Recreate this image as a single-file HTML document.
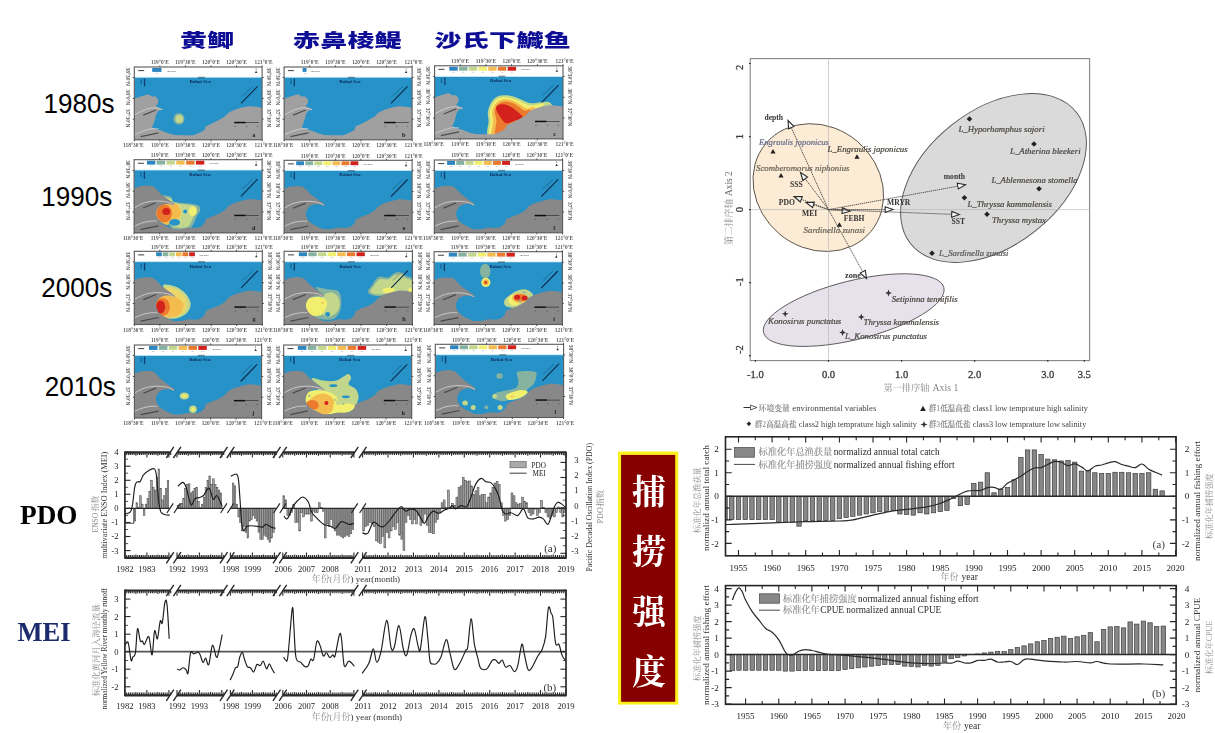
<!DOCTYPE html>
<html><head><meta charset="utf-8"><title>slide</title>
<style>
html,body{margin:0;padding:0;background:#fff;}
body{width:1215px;height:733px;overflow:hidden;font-family:"Liberation Sans",sans-serif;}
svg{display:block;}
text{font-family:"Liberation Serif",serif;}
.sans{font-family:"Liberation Sans",sans-serif;}
.cjks{font-family:"Liberation Sans","Noto Sans CJK SC",sans-serif;}
.cjkr{font-family:"Liberation Serif","Noto Serif CJK SC",serif;}
</style></head><body>
<svg width="1215" height="733" viewBox="0 0 1215 733">
<defs>
<filter id="b1" x="-5%" y="-5%" width="110%" height="110%"><feGaussianBlur stdDeviation="0.45"/></filter>
<filter id="b2" x="-5%" y="-5%" width="110%" height="110%"><feGaussianBlur stdDeviation="0.55"/></filter>
<filter id="b3" x="-5%" y="-5%" width="110%" height="110%"><feGaussianBlur stdDeviation="0.3"/></filter>
</defs>
<g filter="url(#b3)"><g transform="translate(180.0,46.6) scale(1,0.680)"><text class="cjks" x="0" y="0" font-size="27" font-weight="900" fill="#0d0d96" textLength="54.2" lengthAdjust="spacing">黄鲫</text></g><g transform="translate(293.0,46.6) scale(1,0.680)"><text class="cjks" x="0" y="0" font-size="27" font-weight="900" fill="#0d0d96" textLength="108.6" lengthAdjust="spacing">赤鼻棱鳀</text></g><g transform="translate(434.5,47.0) scale(1,0.680)"><text class="cjks" x="0" y="0" font-size="27" font-weight="900" fill="#0d0d96" textLength="136.2" lengthAdjust="spacing">沙氏下鱵鱼</text></g></g>
<text class="sans" x="43.6" y="113.4" font-size="27.5" fill="#000" textLength="71" lengthAdjust="spacingAndGlyphs">1980s</text>
<text class="sans" x="41.3" y="205.6" font-size="27.5" fill="#000" textLength="71" lengthAdjust="spacingAndGlyphs">1990s</text>
<text class="sans" x="41.3" y="296.5" font-size="27.5" fill="#000" textLength="71" lengthAdjust="spacingAndGlyphs">2000s</text>
<text class="sans" x="44.7" y="395.5" font-size="27.5" fill="#000" textLength="71" lengthAdjust="spacingAndGlyphs">2010s</text>
<g filter="url(#b2)"><clipPath id="ca"><rect x="134.3" y="67.0" width="127.8" height="72.8"/></clipPath><g clip-path="url(#ca)"><rect x="134.3" y="67.0" width="127.8" height="72.8" fill="#fff"/><rect x="134.3" y="77.3" width="127.8" height="62.5" fill="#2792c7"/><rect x="134.3" y="76.8" width="127.8" height="0.8" fill="#bfe6f5"/><ellipse cx="178.9" cy="118.8" rx="5.5" ry="5.8" fill="#86b3a0"/><ellipse cx="179.3" cy="119.0" rx="3.8" ry="4.0" fill="#c3d78c"/><path d="M134.3 98.7L140.6 96.4L148.1 94.3L151.9 96.4L155.7 96.4L158.4 99.9L157.9 103.4L155.7 106.0L159.4 108.1L162.6 109.2L158.2 111.0L155.9 115.0L155.2 118.8L153.5 123.8L151.9 127.3L155.7 129.1L161.9 130.8L168.2 133.3L174.5 135.1L183.3 135.3L193.3 135.3L199.6 132.8L204.6 130.1L205.6 126.5L210.9 124.0L218.4 120.3L224.7 116.5L228.5 112.7L233.5 110.2L241.0 107.7L248.5 106.2L256.1 106.8L262.1 107.7L262.1 139.8L134.3 139.8Z" fill="#a0a0a0"/><path d="M134.3 115.1C136.0 114.2 141.3 111.2 144.5 110.0C147.7 108.8 150.5 107.9 153.5 107.8C156.5 107.8 160.9 109.3 162.4 109.6" fill="none" stroke="#d4d4d4" stroke-width="0.85"/><path d="M134.3 134.7C135.8 134.1 140.5 132.1 143.3 131.1C146.0 130.1 148.4 129.3 150.9 128.9C153.5 128.6 157.3 128.9 158.6 128.9" fill="none" stroke="#d4d4d4" stroke-width="0.85"/><line x1="143.3" y1="115.1" x2="156.0" y2="110.0" stroke="#3a3a3a" stroke-width="1.2" opacity="0.8"/><line x1="140.7" y1="136.6" x2="158.6" y2="132.9" stroke="#3a3a3a" stroke-width="1.2" opacity="0.8"/><line x1="241.0" y1="103.4" x2="257.6" y2="86.3" stroke="#0c2a4a" stroke-width="1.1"/><line x1="242.3" y1="96.2" x2="252.5" y2="86.7" stroke="#0c2a4a" stroke-width="0.6" opacity="0.6"/><text x="200.1" y="83.2" font-size="5.0" font-weight="bold" fill="#0a2b5c" text-anchor="middle">Bohai Sea</text><rect x="197.9" y="76.8" width="7" height="1.4" fill="#123" opacity="0.45"/><rect x="143.9" y="78.7" width="1.3" height="7.5" fill="#0a2b5c" opacity="0.8"/><rect x="140.7" y="79.2" width="1.0" height="5" fill="#0a2b5c" opacity="0.6"/><rect x="234.2" y="121.8" width="11.5" height="1.5" fill="#111"/><rect x="245.7" y="122.2" width="13.2" height="0.6" fill="#222"/><rect x="234.6" y="125.8" width="1.2" height="1.2" fill="#444" opacity="0.6"/><rect x="246.1" y="125.8" width="1.2" height="1.2" fill="#444" opacity="0.6"/><rect x="257.0" y="125.8" width="1.2" height="1.2" fill="#444" opacity="0.6"/><rect x="152.2" y="68.0" width="9.3" height="3.9" fill="#2e86c0"/><rect x="155.5" y="73.0" width="2.5" height="0.8" fill="#89a" opacity="0.5"/><text x="166.9" y="71.6" font-size="2.8" fill="#444">ind/haul</text><rect x="138.2" y="70.0" width="6" height="1.1" fill="#222" opacity="0.8"/><path d="M256.1 70.4 l1.2 2.6 l-2.4 0z" fill="#333"/><rect x="255.8" y="68.4" width="0.6" height="1.6" fill="#555"/><text x="253.8" y="136.6" font-size="6.2" font-weight="bold" fill="#222" text-anchor="middle">a</text></g><rect x="134.3" y="67.0" width="127.8" height="72.8" fill="none" stroke="#5a5a5a" stroke-width="1.1"/><text x="133.3" y="147.0" font-size="5.4" font-weight="bold" fill="#5c5c5c" text-anchor="middle">118°30'E</text><rect x="133.9" y="139.8" width="0.8" height="1.5" fill="#333"/><text x="159.9" y="64.2" font-size="5.4" font-weight="bold" fill="#5c5c5c" text-anchor="middle">119°0'E</text><rect x="159.5" y="65.4" width="0.8" height="1.6" fill="#333"/><text x="159.9" y="147.0" font-size="5.4" font-weight="bold" fill="#5c5c5c" text-anchor="middle">119°0'E</text><rect x="159.5" y="139.8" width="0.8" height="1.5" fill="#333"/><text x="185.4" y="64.2" font-size="5.4" font-weight="bold" fill="#5c5c5c" text-anchor="middle">119°30'E</text><rect x="185.0" y="65.4" width="0.8" height="1.6" fill="#333"/><text x="185.4" y="147.0" font-size="5.4" font-weight="bold" fill="#5c5c5c" text-anchor="middle">119°30'E</text><rect x="185.0" y="139.8" width="0.8" height="1.5" fill="#333"/><text x="211.0" y="64.2" font-size="5.4" font-weight="bold" fill="#5c5c5c" text-anchor="middle">120°0'E</text><rect x="210.6" y="65.4" width="0.8" height="1.6" fill="#333"/><text x="211.0" y="147.0" font-size="5.4" font-weight="bold" fill="#5c5c5c" text-anchor="middle">120°0'E</text><rect x="210.6" y="139.8" width="0.8" height="1.5" fill="#333"/><text x="236.5" y="64.2" font-size="5.4" font-weight="bold" fill="#5c5c5c" text-anchor="middle">120°30'E</text><rect x="236.1" y="65.4" width="0.8" height="1.6" fill="#333"/><text x="236.5" y="147.0" font-size="5.4" font-weight="bold" fill="#5c5c5c" text-anchor="middle">120°30'E</text><rect x="236.1" y="139.8" width="0.8" height="1.5" fill="#333"/><text x="263.6" y="64.2" font-size="5.4" font-weight="bold" fill="#5c5c5c" text-anchor="middle">121°0'E</text><rect x="261.7" y="65.4" width="0.8" height="1.6" fill="#333"/><text x="263.6" y="147.0" font-size="5.4" font-weight="bold" fill="#5c5c5c" text-anchor="middle">121°0'E</text><rect x="261.7" y="139.8" width="0.8" height="1.5" fill="#333"/><rect x="132.7" y="77.2" width="1.6" height="0.8" fill="#333"/><rect x="262.1" y="77.2" width="1.6" height="0.8" fill="#333"/><text transform="translate(126.1,76.6) rotate(90)" font-size="5.4" font-weight="bold" fill="#5c5c5c" text-anchor="middle">38°30'N</text><text transform="translate(267.3,76.6) rotate(90)" font-size="5.4" font-weight="bold" fill="#5c5c5c" text-anchor="middle">38°30'N</text><rect x="132.7" y="97.9" width="1.6" height="0.8" fill="#333"/><rect x="262.1" y="97.9" width="1.6" height="0.8" fill="#333"/><text transform="translate(126.1,97.3) rotate(90)" font-size="5.4" font-weight="bold" fill="#5c5c5c" text-anchor="middle">38°0'N</text><text transform="translate(267.3,97.3) rotate(90)" font-size="5.4" font-weight="bold" fill="#5c5c5c" text-anchor="middle">38°0'N</text><rect x="132.7" y="118.7" width="1.6" height="0.8" fill="#333"/><rect x="262.1" y="118.7" width="1.6" height="0.8" fill="#333"/><text transform="translate(126.1,118.1) rotate(90)" font-size="5.4" font-weight="bold" fill="#5c5c5c" text-anchor="middle">37°30'N</text><text transform="translate(267.3,118.1) rotate(90)" font-size="5.4" font-weight="bold" fill="#5c5c5c" text-anchor="middle">37°30'N</text><clipPath id="cb"><rect x="284.1" y="67.0" width="128.0" height="72.8"/></clipPath><g clip-path="url(#cb)"><rect x="284.1" y="67.0" width="128.0" height="72.8" fill="#fff"/><rect x="284.1" y="77.3" width="128.0" height="62.5" fill="#2792c7"/><rect x="284.1" y="76.8" width="128.0" height="0.8" fill="#bfe6f5"/><path d="M284.1 98.7L290.4 96.4L297.9 94.3L301.7 96.4L305.4 96.4L308.2 99.9L307.7 103.4L305.4 106.0L309.2 108.1L312.4 109.2L308.0 111.0L305.7 115.0L304.9 118.8L303.3 123.8L301.7 127.3L305.4 129.1L311.7 130.8L318.0 133.3L324.3 135.1L333.1 135.3L343.2 135.3L349.5 132.8L354.5 130.1L355.5 126.5L360.8 124.0L368.3 120.3L374.6 116.5L378.4 112.7L383.4 110.2L391.0 107.7L398.5 106.2L406.1 106.8L412.1 107.7L412.1 139.8L284.1 139.8Z" fill="#a0a0a0"/><path d="M284.1 115.1C285.8 114.2 291.1 111.2 294.3 110.0C297.5 108.8 300.3 107.9 303.3 107.8C306.3 107.8 310.7 109.3 312.2 109.6" fill="none" stroke="#d4d4d4" stroke-width="0.85"/><path d="M284.1 134.7C285.6 134.1 290.3 132.1 293.0 131.1C295.8 130.1 298.1 129.3 300.7 128.9C303.3 128.6 307.1 128.9 308.4 128.9" fill="none" stroke="#d4d4d4" stroke-width="0.85"/><line x1="293.0" y1="115.1" x2="305.8" y2="110.0" stroke="#3a3a3a" stroke-width="1.2" opacity="0.8"/><line x1="290.5" y1="136.6" x2="308.4" y2="132.9" stroke="#3a3a3a" stroke-width="1.2" opacity="0.8"/><line x1="391.0" y1="103.4" x2="407.6" y2="86.3" stroke="#0c2a4a" stroke-width="1.1"/><line x1="392.3" y1="96.2" x2="402.5" y2="86.7" stroke="#0c2a4a" stroke-width="0.6" opacity="0.6"/><text x="350.0" y="83.2" font-size="5.0" font-weight="bold" fill="#0a2b5c" text-anchor="middle">Bohai Sea</text><rect x="347.8" y="76.8" width="7" height="1.4" fill="#123" opacity="0.45"/><rect x="293.7" y="78.7" width="1.3" height="7.5" fill="#0a2b5c" opacity="0.8"/><rect x="290.5" y="79.2" width="1.0" height="5" fill="#0a2b5c" opacity="0.6"/><rect x="384.2" y="121.8" width="11.5" height="1.5" fill="#111"/><rect x="395.7" y="122.2" width="13.2" height="0.6" fill="#222"/><rect x="384.6" y="125.8" width="1.2" height="1.2" fill="#444" opacity="0.6"/><rect x="396.1" y="125.8" width="1.2" height="1.2" fill="#444" opacity="0.6"/><rect x="407.0" y="125.8" width="1.2" height="1.2" fill="#444" opacity="0.6"/><rect x="302.6" y="68.0" width="3.9" height="3.9" fill="#2e86c0"/><rect x="304.0" y="73.0" width="2.5" height="0.8" fill="#89a" opacity="0.5"/><text x="311.0" y="71.6" font-size="2.8" fill="#444">ind/haul</text><rect x="287.9" y="70.0" width="6" height="1.1" fill="#222" opacity="0.8"/><path d="M406.1 70.4 l1.2 2.6 l-2.4 0z" fill="#333"/><rect x="405.8" y="68.4" width="0.6" height="1.6" fill="#555"/><text x="403.8" y="136.6" font-size="6.2" font-weight="bold" fill="#222" text-anchor="middle">b</text></g><rect x="284.1" y="67.0" width="128.0" height="72.8" fill="none" stroke="#5a5a5a" stroke-width="1.1"/><text x="283.1" y="147.0" font-size="5.4" font-weight="bold" fill="#5c5c5c" text-anchor="middle">118°30'E</text><rect x="283.7" y="139.8" width="0.8" height="1.5" fill="#333"/><text x="309.7" y="64.2" font-size="5.4" font-weight="bold" fill="#5c5c5c" text-anchor="middle">119°0'E</text><rect x="309.3" y="65.4" width="0.8" height="1.6" fill="#333"/><text x="309.7" y="147.0" font-size="5.4" font-weight="bold" fill="#5c5c5c" text-anchor="middle">119°0'E</text><rect x="309.3" y="139.8" width="0.8" height="1.5" fill="#333"/><text x="335.3" y="64.2" font-size="5.4" font-weight="bold" fill="#5c5c5c" text-anchor="middle">119°30'E</text><rect x="334.9" y="65.4" width="0.8" height="1.6" fill="#333"/><text x="335.3" y="147.0" font-size="5.4" font-weight="bold" fill="#5c5c5c" text-anchor="middle">119°30'E</text><rect x="334.9" y="139.8" width="0.8" height="1.5" fill="#333"/><text x="360.9" y="64.2" font-size="5.4" font-weight="bold" fill="#5c5c5c" text-anchor="middle">120°0'E</text><rect x="360.5" y="65.4" width="0.8" height="1.6" fill="#333"/><text x="360.9" y="147.0" font-size="5.4" font-weight="bold" fill="#5c5c5c" text-anchor="middle">120°0'E</text><rect x="360.5" y="139.8" width="0.8" height="1.5" fill="#333"/><text x="386.5" y="64.2" font-size="5.4" font-weight="bold" fill="#5c5c5c" text-anchor="middle">120°30'E</text><rect x="386.1" y="65.4" width="0.8" height="1.6" fill="#333"/><text x="386.5" y="147.0" font-size="5.4" font-weight="bold" fill="#5c5c5c" text-anchor="middle">120°30'E</text><rect x="386.1" y="139.8" width="0.8" height="1.5" fill="#333"/><text x="413.6" y="64.2" font-size="5.4" font-weight="bold" fill="#5c5c5c" text-anchor="middle">121°0'E</text><rect x="411.7" y="65.4" width="0.8" height="1.6" fill="#333"/><text x="413.6" y="147.0" font-size="5.4" font-weight="bold" fill="#5c5c5c" text-anchor="middle">121°0'E</text><rect x="411.7" y="139.8" width="0.8" height="1.5" fill="#333"/><rect x="282.5" y="77.2" width="1.6" height="0.8" fill="#333"/><rect x="412.1" y="77.2" width="1.6" height="0.8" fill="#333"/><text transform="translate(275.9,76.6) rotate(90)" font-size="5.4" font-weight="bold" fill="#5c5c5c" text-anchor="middle">38°30'N</text><text transform="translate(417.3,76.6) rotate(90)" font-size="5.4" font-weight="bold" fill="#5c5c5c" text-anchor="middle">38°30'N</text><rect x="282.5" y="97.9" width="1.6" height="0.8" fill="#333"/><rect x="412.1" y="97.9" width="1.6" height="0.8" fill="#333"/><text transform="translate(275.9,97.3) rotate(90)" font-size="5.4" font-weight="bold" fill="#5c5c5c" text-anchor="middle">38°0'N</text><text transform="translate(417.3,97.3) rotate(90)" font-size="5.4" font-weight="bold" fill="#5c5c5c" text-anchor="middle">38°0'N</text><rect x="282.5" y="118.7" width="1.6" height="0.8" fill="#333"/><rect x="412.1" y="118.7" width="1.6" height="0.8" fill="#333"/><text transform="translate(275.9,118.1) rotate(90)" font-size="5.4" font-weight="bold" fill="#5c5c5c" text-anchor="middle">37°30'N</text><text transform="translate(417.3,118.1) rotate(90)" font-size="5.4" font-weight="bold" fill="#5c5c5c" text-anchor="middle">37°30'N</text><clipPath id="cc"><rect x="434.6" y="65.8" width="128.4" height="73.1"/></clipPath><g clip-path="url(#cc)"><rect x="434.6" y="65.8" width="128.4" height="73.1" fill="#fff"/><rect x="434.6" y="76.7" width="128.4" height="62.2" fill="#2792c7"/><rect x="434.6" y="76.2" width="128.4" height="0.8" fill="#bfe6f5"/><path d="M488.3 136.3C485.4 133.8 488.6 125.2 488.5 121.3C488.5 117.3 487.5 115.4 487.8 112.5C488.1 109.6 489.2 106.2 490.5 103.7C491.9 101.2 493.7 98.8 495.8 97.4C498.0 96.0 500.4 95.3 503.4 95.2C506.3 95.0 510.3 95.6 513.4 96.4C516.5 97.2 519.3 98.8 522.2 99.9C525.1 101.1 527.8 102.8 531.0 103.2C534.1 103.6 538.0 102.4 541.0 102.2C544.0 102.0 547.5 101.1 549.2 102.2C550.8 103.3 554.1 105.5 551.0 108.7C548.0 111.9 538.5 116.7 531.0 121.3C523.4 125.9 513.0 133.8 505.9 136.3C498.7 138.8 491.2 138.8 488.3 136.3Z" fill="#c3d78c"/><path d="M489.8 136.3C487.2 133.8 490.5 125.2 490.5 121.3C490.5 117.3 489.5 115.2 489.8 112.5C490.1 109.7 491.1 107.0 492.3 104.7C493.5 102.4 495.0 100.2 497.1 98.9C499.1 97.7 501.9 97.2 504.6 97.2C507.3 97.1 510.6 97.8 513.4 98.7C516.2 99.5 518.8 101.0 521.6 102.2C524.3 103.3 526.9 105.2 529.7 105.6C532.5 105.9 536.2 104.4 538.5 104.3C540.8 104.2 544.8 102.1 543.5 105.0C542.3 107.8 537.2 116.0 531.0 121.3C524.7 126.5 512.7 133.8 505.9 136.3C499.0 138.8 492.3 138.8 489.8 136.3Z" fill="#f2ee6e"/><path d="M492.1 136.3C489.9 133.8 493.1 125.2 493.1 121.3C493.1 117.3 491.8 115.1 492.1 112.5C492.3 109.9 493.2 107.5 494.3 105.6C495.5 103.7 497.0 102.0 499.0 100.9C500.9 99.9 503.5 99.3 505.9 99.3C508.3 99.3 511.0 100.0 513.4 100.9C515.8 101.8 518.0 103.4 520.3 104.7C522.6 106.0 524.8 108.0 527.2 108.5C529.6 108.9 534.1 105.3 534.7 107.5C535.4 109.6 535.8 116.5 531.0 121.3C526.2 126.1 512.3 133.8 505.9 136.3C499.4 138.8 494.2 138.8 492.1 136.3Z" fill="#f4bc50"/><path d="M495.2 136.3C493.6 133.8 496.5 125.2 496.4 121.3C496.4 117.3 494.8 115.0 494.8 112.5C494.8 110.0 495.4 107.9 496.4 106.2C497.5 104.5 499.1 103.2 500.8 102.4C502.6 101.6 505.0 101.3 507.1 101.4C509.2 101.6 511.4 102.3 513.4 103.2C515.4 104.1 517.2 105.6 519.0 106.8C520.9 108.1 522.8 110.1 524.7 110.6C526.6 111.1 529.3 108.2 530.3 110.0C531.4 111.8 535.0 116.9 531.0 121.3C526.9 125.7 511.8 133.8 505.9 136.3C499.9 138.8 496.8 138.8 495.2 136.3Z" fill="#ec7a2e"/><path d="M505.9 123.2C503.6 122.5 501.8 119.2 500.2 116.9C498.6 114.6 496.4 111.3 496.1 109.3C495.7 107.4 496.4 105.7 498.1 105.0C499.7 104.2 503.3 104.1 505.9 104.7C508.4 105.3 510.9 106.8 513.4 108.5C515.9 110.1 519.5 113.2 520.9 114.7C522.4 116.3 523.3 116.7 522.2 117.8C521.0 118.8 516.7 120.1 514.0 121.0C511.3 121.9 508.2 123.8 505.9 123.2Z" fill="#d3201f"/><path d="M434.6 97.5L440.9 95.3L448.4 93.1L452.2 95.3L456.0 95.3L458.8 98.8L458.3 102.3L456.0 104.8L459.8 107.0L462.9 108.1L458.5 109.9L456.3 113.9L455.5 117.7L453.9 122.7L452.2 126.2L456.0 128.0L462.3 129.8L468.6 132.3L474.9 134.1L483.8 134.3L493.9 134.3L500.2 131.8L505.2 129.0L506.2 125.5L511.5 123.0L519.1 119.2L525.4 115.4L529.2 111.6L534.2 109.1L541.8 106.6L549.4 105.1L556.9 105.7L563.0 106.6L563.0 138.8L434.6 138.8Z" fill="#a0a0a0"/><path d="M434.6 114.0C436.3 113.2 441.6 110.1 444.8 108.9C448.1 107.7 450.8 106.8 453.8 106.7C456.8 106.6 461.3 108.2 462.8 108.5" fill="none" stroke="#d4d4d4" stroke-width="0.85"/><path d="M434.6 133.7C436.1 133.1 440.8 131.0 443.6 130.1C446.3 129.1 448.7 128.2 451.3 127.9C453.8 127.5 457.7 127.9 459.0 127.9" fill="none" stroke="#d4d4d4" stroke-width="0.85"/><line x1="443.6" y1="114.0" x2="456.4" y2="108.9" stroke="#3a3a3a" stroke-width="1.2" opacity="0.8"/><line x1="441.0" y1="135.6" x2="459.0" y2="131.9" stroke="#3a3a3a" stroke-width="1.2" opacity="0.8"/><line x1="541.8" y1="102.3" x2="558.5" y2="85.1" stroke="#0c2a4a" stroke-width="1.1"/><line x1="543.1" y1="95.0" x2="553.3" y2="85.5" stroke="#0c2a4a" stroke-width="0.6" opacity="0.6"/><text x="500.7" y="82.0" font-size="5.0" font-weight="bold" fill="#0a2b5c" text-anchor="middle">Bohai Sea</text><rect x="498.5" y="75.6" width="7" height="1.4" fill="#123" opacity="0.45"/><rect x="444.2" y="77.5" width="1.3" height="7.5" fill="#0a2b5c" opacity="0.8"/><rect x="441.0" y="78.0" width="1.0" height="5" fill="#0a2b5c" opacity="0.6"/><rect x="535.0" y="120.7" width="11.6" height="1.5" fill="#111"/><rect x="546.5" y="121.2" width="13.2" height="0.6" fill="#222"/><rect x="535.4" y="124.7" width="1.2" height="1.2" fill="#444" opacity="0.6"/><rect x="546.9" y="124.7" width="1.2" height="1.2" fill="#444" opacity="0.6"/><rect x="557.8" y="124.7" width="1.2" height="1.2" fill="#444" opacity="0.6"/><rect x="449.3" y="66.8" width="8.4" height="3.9" fill="#2e86c0"/><rect x="452.3" y="71.8" width="2.5" height="0.8" fill="#89a" opacity="0.5"/><rect x="459.1" y="66.8" width="8.4" height="3.9" fill="#86b3a0"/><rect x="462.0" y="71.8" width="2.5" height="0.8" fill="#89a" opacity="0.5"/><rect x="468.8" y="66.8" width="8.4" height="3.9" fill="#c3d78c"/><rect x="471.7" y="71.8" width="2.5" height="0.8" fill="#89a" opacity="0.5"/><rect x="478.5" y="66.8" width="8.4" height="3.9" fill="#f2ee6e"/><rect x="481.4" y="71.8" width="2.5" height="0.8" fill="#89a" opacity="0.5"/><rect x="488.2" y="66.8" width="8.4" height="3.9" fill="#f4bc50"/><rect x="491.1" y="71.8" width="2.5" height="0.8" fill="#89a" opacity="0.5"/><rect x="497.9" y="66.8" width="8.4" height="3.9" fill="#ec7a2e"/><rect x="500.9" y="71.8" width="2.5" height="0.8" fill="#89a" opacity="0.5"/><rect x="507.7" y="66.8" width="8.4" height="3.9" fill="#d3201f"/><rect x="510.6" y="71.8" width="2.5" height="0.8" fill="#89a" opacity="0.5"/><text x="521.2" y="70.4" font-size="2.8" fill="#444">ind/haul</text><rect x="438.4" y="68.8" width="6" height="1.1" fill="#222" opacity="0.8"/><path d="M556.9 69.2 l1.2 2.6 l-2.4 0z" fill="#333"/><rect x="556.6" y="67.2" width="0.6" height="1.6" fill="#555"/><text x="554.6" y="135.6" font-size="6.2" font-weight="bold" fill="#222" text-anchor="middle">c</text></g><rect x="434.6" y="65.8" width="128.4" height="73.1" fill="none" stroke="#5a5a5a" stroke-width="1.1"/><text x="433.6" y="146.0" font-size="5.4" font-weight="bold" fill="#5c5c5c" text-anchor="middle">118°30'E</text><rect x="434.2" y="138.8" width="0.8" height="1.5" fill="#333"/><text x="460.2" y="63.0" font-size="5.4" font-weight="bold" fill="#5c5c5c" text-anchor="middle">119°0'E</text><rect x="459.8" y="64.2" width="0.8" height="1.6" fill="#333"/><text x="460.2" y="146.0" font-size="5.4" font-weight="bold" fill="#5c5c5c" text-anchor="middle">119°0'E</text><rect x="459.8" y="138.8" width="0.8" height="1.5" fill="#333"/><text x="485.9" y="63.0" font-size="5.4" font-weight="bold" fill="#5c5c5c" text-anchor="middle">119°30'E</text><rect x="485.5" y="64.2" width="0.8" height="1.6" fill="#333"/><text x="485.9" y="146.0" font-size="5.4" font-weight="bold" fill="#5c5c5c" text-anchor="middle">119°30'E</text><rect x="485.5" y="138.8" width="0.8" height="1.5" fill="#333"/><text x="511.6" y="63.0" font-size="5.4" font-weight="bold" fill="#5c5c5c" text-anchor="middle">120°0'E</text><rect x="511.2" y="64.2" width="0.8" height="1.6" fill="#333"/><text x="511.6" y="146.0" font-size="5.4" font-weight="bold" fill="#5c5c5c" text-anchor="middle">120°0'E</text><rect x="511.2" y="138.8" width="0.8" height="1.5" fill="#333"/><text x="537.3" y="63.0" font-size="5.4" font-weight="bold" fill="#5c5c5c" text-anchor="middle">120°30'E</text><rect x="536.9" y="64.2" width="0.8" height="1.6" fill="#333"/><text x="537.3" y="146.0" font-size="5.4" font-weight="bold" fill="#5c5c5c" text-anchor="middle">120°30'E</text><rect x="536.9" y="138.8" width="0.8" height="1.5" fill="#333"/><text x="564.5" y="63.0" font-size="5.4" font-weight="bold" fill="#5c5c5c" text-anchor="middle">121°0'E</text><rect x="562.6" y="64.2" width="0.8" height="1.6" fill="#333"/><text x="564.5" y="146.0" font-size="5.4" font-weight="bold" fill="#5c5c5c" text-anchor="middle">121°0'E</text><rect x="562.6" y="138.8" width="0.8" height="1.5" fill="#333"/><rect x="433.0" y="76.0" width="1.6" height="0.8" fill="#333"/><rect x="563.0" y="76.0" width="1.6" height="0.8" fill="#333"/><text transform="translate(426.4,75.4) rotate(90)" font-size="5.4" font-weight="bold" fill="#5c5c5c" text-anchor="middle">38°30'N</text><text transform="translate(568.2,75.4) rotate(90)" font-size="5.4" font-weight="bold" fill="#5c5c5c" text-anchor="middle">38°30'N</text><rect x="433.0" y="96.8" width="1.6" height="0.8" fill="#333"/><rect x="563.0" y="96.8" width="1.6" height="0.8" fill="#333"/><text transform="translate(426.4,96.2) rotate(90)" font-size="5.4" font-weight="bold" fill="#5c5c5c" text-anchor="middle">38°0'N</text><text transform="translate(568.2,96.2) rotate(90)" font-size="5.4" font-weight="bold" fill="#5c5c5c" text-anchor="middle">38°0'N</text><rect x="433.0" y="117.6" width="1.6" height="0.8" fill="#333"/><rect x="563.0" y="117.6" width="1.6" height="0.8" fill="#333"/><text transform="translate(426.4,117.0) rotate(90)" font-size="5.4" font-weight="bold" fill="#5c5c5c" text-anchor="middle">37°30'N</text><text transform="translate(568.2,117.0) rotate(90)" font-size="5.4" font-weight="bold" fill="#5c5c5c" text-anchor="middle">37°30'N</text><clipPath id="cd"><rect x="134.1" y="159.7" width="128.0" height="73.2"/></clipPath><g clip-path="url(#cd)"><rect x="134.1" y="159.7" width="128.0" height="73.2" fill="#fff"/><rect x="134.1" y="170.1" width="128.0" height="62.8" fill="#2792c7"/><rect x="134.1" y="169.6" width="128.0" height="0.8" fill="#bfe6f5"/><path d="M163.2 195.4C164.0 194.6 169.3 195.9 170.7 196.7C172.2 197.5 170.9 199.5 172.0 200.5C173.0 201.4 174.3 201.8 177.0 202.3C179.7 202.9 184.7 203.1 188.3 203.6C191.8 204.1 196.3 204.3 198.3 205.5C200.3 206.6 200.4 208.8 200.2 210.5C200.0 212.2 198.2 213.2 197.1 215.5C195.9 217.8 194.8 221.9 193.3 224.3C191.8 226.7 191.4 229.0 188.3 230.0C185.2 230.9 177.8 230.9 174.5 230.0C171.1 229.0 170.7 226.1 168.2 224.3C165.7 222.5 161.3 221.4 159.4 219.3C157.5 217.2 156.9 214.1 156.9 211.8C156.9 209.5 158.0 207.2 159.4 205.5C160.9 203.8 165.1 203.4 165.7 201.7C166.3 200.0 162.3 196.3 163.2 195.4Z" fill="#86b3a0"/><path d="M165.1 197.6C165.8 196.9 170.3 198.0 171.6 198.7C172.9 199.4 171.8 201.1 172.7 201.9C173.6 202.8 174.7 203.1 177.0 203.6C179.3 204.0 183.7 204.2 186.7 204.6C189.8 205.1 193.6 205.3 195.3 206.3C197.1 207.3 197.1 209.1 197.0 210.6C196.8 212.0 195.3 212.9 194.3 214.9C193.3 216.9 192.3 220.4 191.0 222.5C189.8 224.5 189.4 226.5 186.7 227.3C184.0 228.1 177.7 228.1 174.8 227.3C172.0 226.5 171.6 224.0 169.4 222.5C167.3 220.9 163.5 219.9 161.9 218.1C160.3 216.3 159.7 213.6 159.7 211.7C159.7 209.7 160.6 207.7 161.9 206.3C163.1 204.8 166.7 204.5 167.3 203.0C167.8 201.6 164.4 198.3 165.1 197.6Z" fill="#c3d78c"/><path d="M170.7 204.9C172.0 203.2 176.5 203.1 178.2 204.2C180.0 205.4 181.2 209.4 181.4 211.8C181.6 214.1 181.1 217.0 179.5 218.3C177.9 219.6 173.4 220.2 172.0 219.5C170.5 218.9 170.9 216.7 170.7 214.3C170.5 211.8 169.5 206.5 170.7 204.9Z" fill="#f2ee6e"/><path d="M156.3 209.2C156.8 207.6 157.9 206.4 159.4 205.5C161.0 204.5 162.8 203.8 165.7 203.6C168.6 203.4 174.4 202.9 177.0 204.2C179.5 205.6 180.7 209.4 181.0 211.8C181.3 214.1 180.5 217.0 178.9 218.3C177.3 219.6 173.3 218.4 171.3 219.5C169.4 220.6 169.2 224.7 167.2 224.9C165.2 225.1 161.2 222.4 159.4 220.8C157.6 219.2 156.8 217.4 156.3 215.5C155.8 213.6 155.8 210.9 156.3 209.2Z" fill="#f4bc50"/><ellipse cx="164.2" cy="213.3" rx="7.8" ry="9.0" fill="#ec7a2e"/><ellipse cx="166.3" cy="211.4" rx="4.0" ry="3.5" fill="#d3201f"/><ellipse cx="192.7" cy="211.4" rx="4.0" ry="4.8" fill="#f2ee6e"/><ellipse cx="185.2" cy="211.4" rx="2.0" ry="2.0" fill="#2792c7"/><ellipse cx="174.7" cy="222.4" rx="5.3" ry="3.3" fill="#2792c7"/><path d="M134.1 188.5L139.3 186.3L146.9 185.5L153.1 186.3L157.2 190.1L160.7 193.9L165.7 197.7L170.7 201.2L174.7 204.2L173.9 205.5L169.5 204.0L164.4 204.0L159.7 205.9L157.2 209.0L155.7 212.8L156.3 216.6L158.2 220.4L161.9 223.7L168.2 227.0L173.2 229.3L180.8 229.3L188.3 227.5L195.8 228.0L200.8 226.8L204.6 223.2L205.6 219.4L210.9 216.9L218.4 214.1L224.7 210.3L228.5 206.0L234.7 202.7L243.5 200.2L249.8 198.9L256.1 199.5L262.1 200.4L262.1 232.8L134.1 232.8Z" fill="#888888"/><path d="M134.1 208.0C135.8 207.1 140.7 204.0 144.3 202.8C147.9 201.7 152.0 201.1 155.8 201.0C159.7 200.9 164.4 201.4 167.4 202.1C170.3 202.8 172.7 204.6 173.8 205.0" fill="none" stroke="#d4d4d4" stroke-width="0.85"/><path d="M134.1 226.3C135.6 225.7 140.3 223.5 143.0 222.6C145.8 221.7 148.4 221.4 150.7 221.1C153.1 220.9 156.0 221.1 157.1 221.1" fill="none" stroke="#d4d4d4" stroke-width="0.85"/><line x1="143.0" y1="208.0" x2="155.8" y2="202.8" stroke="#3a3a3a" stroke-width="1.2" opacity="0.8"/><line x1="140.5" y1="229.6" x2="158.4" y2="225.9" stroke="#3a3a3a" stroke-width="1.2" opacity="0.8"/><line x1="241.0" y1="196.3" x2="257.6" y2="179.1" stroke="#0c2a4a" stroke-width="1.1"/><line x1="242.3" y1="188.9" x2="252.5" y2="179.4" stroke="#0c2a4a" stroke-width="0.6" opacity="0.6"/><text x="200.0" y="175.9" font-size="5.0" font-weight="bold" fill="#0a2b5c" text-anchor="middle">Bohai Sea</text><rect x="197.8" y="169.5" width="7" height="1.4" fill="#123" opacity="0.45"/><rect x="143.7" y="171.4" width="1.3" height="7.5" fill="#0a2b5c" opacity="0.8"/><rect x="140.5" y="171.9" width="1.0" height="5" fill="#0a2b5c" opacity="0.6"/><rect x="234.2" y="214.7" width="11.5" height="1.5" fill="#111"/><rect x="245.7" y="215.1" width="13.2" height="0.6" fill="#222"/><rect x="234.6" y="218.7" width="1.2" height="1.2" fill="#444" opacity="0.6"/><rect x="246.1" y="218.7" width="1.2" height="1.2" fill="#444" opacity="0.6"/><rect x="257.0" y="218.7" width="1.2" height="1.2" fill="#444" opacity="0.6"/><rect x="146.9" y="160.7" width="8.4" height="3.9" fill="#2e86c0"/><rect x="149.8" y="165.7" width="2.5" height="0.8" fill="#89a" opacity="0.5"/><rect x="156.7" y="160.7" width="8.4" height="3.9" fill="#86b3a0"/><rect x="159.6" y="165.7" width="2.5" height="0.8" fill="#89a" opacity="0.5"/><rect x="166.5" y="160.7" width="8.4" height="3.9" fill="#c3d78c"/><rect x="169.4" y="165.7" width="2.5" height="0.8" fill="#89a" opacity="0.5"/><rect x="176.3" y="160.7" width="8.4" height="3.9" fill="#f4bc50"/><rect x="179.3" y="165.7" width="2.5" height="0.8" fill="#89a" opacity="0.5"/><rect x="186.1" y="160.7" width="8.4" height="3.9" fill="#ec7a2e"/><rect x="189.1" y="165.7" width="2.5" height="0.8" fill="#89a" opacity="0.5"/><rect x="195.9" y="160.7" width="8.4" height="3.9" fill="#d3201f"/><rect x="198.9" y="165.7" width="2.5" height="0.8" fill="#89a" opacity="0.5"/><text x="209.6" y="164.3" font-size="2.8" fill="#444">ind/haul</text><rect x="137.9" y="162.7" width="6" height="1.1" fill="#222" opacity="0.8"/><path d="M256.1 163.1 l1.2 2.6 l-2.4 0z" fill="#333"/><rect x="255.8" y="161.1" width="0.6" height="1.6" fill="#555"/><text x="253.8" y="229.6" font-size="6.2" font-weight="bold" fill="#222" text-anchor="middle">d</text></g><rect x="134.1" y="159.7" width="128.0" height="73.2" fill="none" stroke="#5a5a5a" stroke-width="1.1"/><text x="133.1" y="240.0" font-size="5.4" font-weight="bold" fill="#5c5c5c" text-anchor="middle">118°30'E</text><rect x="133.7" y="232.8" width="0.8" height="1.5" fill="#333"/><text x="159.7" y="156.9" font-size="5.4" font-weight="bold" fill="#5c5c5c" text-anchor="middle">119°0'E</text><rect x="159.3" y="158.1" width="0.8" height="1.6" fill="#333"/><text x="159.7" y="240.0" font-size="5.4" font-weight="bold" fill="#5c5c5c" text-anchor="middle">119°0'E</text><rect x="159.3" y="232.8" width="0.8" height="1.5" fill="#333"/><text x="185.3" y="156.9" font-size="5.4" font-weight="bold" fill="#5c5c5c" text-anchor="middle">119°30'E</text><rect x="184.9" y="158.1" width="0.8" height="1.6" fill="#333"/><text x="185.3" y="240.0" font-size="5.4" font-weight="bold" fill="#5c5c5c" text-anchor="middle">119°30'E</text><rect x="184.9" y="232.8" width="0.8" height="1.5" fill="#333"/><text x="210.9" y="156.9" font-size="5.4" font-weight="bold" fill="#5c5c5c" text-anchor="middle">120°0'E</text><rect x="210.5" y="158.1" width="0.8" height="1.6" fill="#333"/><text x="210.9" y="240.0" font-size="5.4" font-weight="bold" fill="#5c5c5c" text-anchor="middle">120°0'E</text><rect x="210.5" y="232.8" width="0.8" height="1.5" fill="#333"/><text x="236.5" y="156.9" font-size="5.4" font-weight="bold" fill="#5c5c5c" text-anchor="middle">120°30'E</text><rect x="236.1" y="158.1" width="0.8" height="1.6" fill="#333"/><text x="236.5" y="240.0" font-size="5.4" font-weight="bold" fill="#5c5c5c" text-anchor="middle">120°30'E</text><rect x="236.1" y="232.8" width="0.8" height="1.5" fill="#333"/><text x="263.6" y="156.9" font-size="5.4" font-weight="bold" fill="#5c5c5c" text-anchor="middle">121°0'E</text><rect x="261.7" y="158.1" width="0.8" height="1.6" fill="#333"/><text x="263.6" y="240.0" font-size="5.4" font-weight="bold" fill="#5c5c5c" text-anchor="middle">121°0'E</text><rect x="261.7" y="232.8" width="0.8" height="1.5" fill="#333"/><rect x="132.5" y="169.9" width="1.6" height="0.8" fill="#333"/><rect x="262.1" y="169.9" width="1.6" height="0.8" fill="#333"/><text transform="translate(125.9,169.3) rotate(90)" font-size="5.4" font-weight="bold" fill="#5c5c5c" text-anchor="middle">38°30'N</text><text transform="translate(267.3,169.3) rotate(90)" font-size="5.4" font-weight="bold" fill="#5c5c5c" text-anchor="middle">38°30'N</text><rect x="132.5" y="190.7" width="1.6" height="0.8" fill="#333"/><rect x="262.1" y="190.7" width="1.6" height="0.8" fill="#333"/><text transform="translate(125.9,190.1) rotate(90)" font-size="5.4" font-weight="bold" fill="#5c5c5c" text-anchor="middle">38°0'N</text><text transform="translate(267.3,190.1) rotate(90)" font-size="5.4" font-weight="bold" fill="#5c5c5c" text-anchor="middle">38°0'N</text><rect x="132.5" y="211.6" width="1.6" height="0.8" fill="#333"/><rect x="262.1" y="211.6" width="1.6" height="0.8" fill="#333"/><text transform="translate(125.9,211.0) rotate(90)" font-size="5.4" font-weight="bold" fill="#5c5c5c" text-anchor="middle">37°30'N</text><text transform="translate(267.3,211.0) rotate(90)" font-size="5.4" font-weight="bold" fill="#5c5c5c" text-anchor="middle">37°30'N</text><clipPath id="ce"><rect x="284.1" y="160.3" width="128.0" height="72.5"/></clipPath><g clip-path="url(#ce)"><rect x="284.1" y="160.3" width="128.0" height="72.5" fill="#fff"/><rect x="284.1" y="170.7" width="128.0" height="62.1" fill="#2792c7"/><rect x="284.1" y="170.2" width="128.0" height="0.8" fill="#bfe6f5"/><path d="M284.1 188.9L289.3 186.7L296.9 185.9L303.1 186.7L307.2 190.4L310.7 194.2L315.7 198.0L320.7 201.5L324.7 204.5L323.9 205.7L319.5 204.2L314.4 204.2L309.7 206.1L307.2 209.2L305.7 213.0L306.3 216.8L308.2 220.5L311.9 223.8L318.2 227.1L323.2 229.3L330.8 229.3L338.3 227.6L345.8 228.1L350.8 226.8L354.6 223.3L355.6 219.5L360.9 217.0L368.4 214.3L374.7 210.5L378.5 206.2L384.7 203.0L393.5 200.5L399.8 199.2L406.1 199.8L412.1 200.7L412.1 232.8L284.1 232.8Z" fill="#888888"/><path d="M284.1 208.2C285.8 207.3 290.7 204.2 294.3 203.1C297.9 202.0 302.0 201.4 305.8 201.3C309.7 201.2 314.4 201.7 317.4 202.4C320.3 203.0 322.7 204.8 323.8 205.3" fill="none" stroke="#d4d4d4" stroke-width="0.85"/><path d="M284.1 226.3C285.6 225.7 290.3 223.5 293.0 222.7C295.8 221.8 298.4 221.5 300.7 221.2C303.1 221.0 306.0 221.2 307.1 221.2" fill="none" stroke="#d4d4d4" stroke-width="0.85"/><line x1="293.0" y1="208.2" x2="305.8" y2="203.1" stroke="#3a3a3a" stroke-width="1.2" opacity="0.8"/><line x1="290.5" y1="229.6" x2="308.4" y2="226.0" stroke="#3a3a3a" stroke-width="1.2" opacity="0.8"/><line x1="391.0" y1="196.6" x2="407.6" y2="179.5" stroke="#0c2a4a" stroke-width="1.1"/><line x1="392.3" y1="189.3" x2="402.5" y2="179.9" stroke="#0c2a4a" stroke-width="0.6" opacity="0.6"/><text x="350.0" y="176.4" font-size="5.0" font-weight="bold" fill="#0a2b5c" text-anchor="middle">Bohai Sea</text><rect x="347.8" y="170.0" width="7" height="1.4" fill="#123" opacity="0.45"/><rect x="293.7" y="171.9" width="1.3" height="7.5" fill="#0a2b5c" opacity="0.8"/><rect x="290.5" y="172.4" width="1.0" height="5" fill="#0a2b5c" opacity="0.6"/><rect x="384.2" y="214.8" width="11.5" height="1.5" fill="#111"/><rect x="395.7" y="215.3" width="13.2" height="0.6" fill="#222"/><rect x="384.6" y="218.8" width="1.2" height="1.2" fill="#444" opacity="0.6"/><rect x="396.1" y="218.8" width="1.2" height="1.2" fill="#444" opacity="0.6"/><rect x="407.0" y="218.8" width="1.2" height="1.2" fill="#444" opacity="0.6"/><rect x="296.2" y="161.3" width="7.8" height="3.9" fill="#2e86c0"/><rect x="298.9" y="166.3" width="2.5" height="0.8" fill="#89a" opacity="0.5"/><rect x="305.3" y="161.3" width="7.8" height="3.9" fill="#86b3a0"/><rect x="308.0" y="166.3" width="2.5" height="0.8" fill="#89a" opacity="0.5"/><rect x="314.3" y="161.3" width="7.8" height="3.9" fill="#c3d78c"/><rect x="317.1" y="166.3" width="2.5" height="0.8" fill="#89a" opacity="0.5"/><rect x="323.4" y="161.3" width="7.8" height="3.9" fill="#f2ee6e"/><rect x="326.1" y="166.3" width="2.5" height="0.8" fill="#89a" opacity="0.5"/><rect x="332.4" y="161.3" width="7.8" height="3.9" fill="#f4bc50"/><rect x="335.2" y="166.3" width="2.5" height="0.8" fill="#89a" opacity="0.5"/><rect x="341.5" y="161.3" width="7.8" height="3.9" fill="#ec7a2e"/><rect x="344.2" y="166.3" width="2.5" height="0.8" fill="#89a" opacity="0.5"/><rect x="350.5" y="161.3" width="7.8" height="3.9" fill="#d3201f"/><rect x="353.3" y="166.3" width="2.5" height="0.8" fill="#89a" opacity="0.5"/><text x="363.4" y="164.9" font-size="2.8" fill="#444">ind/haul</text><rect x="287.9" y="163.3" width="6" height="1.1" fill="#222" opacity="0.8"/><path d="M406.1 163.7 l1.2 2.6 l-2.4 0z" fill="#333"/><rect x="405.8" y="161.7" width="0.6" height="1.6" fill="#555"/><text x="403.8" y="229.6" font-size="6.2" font-weight="bold" fill="#222" text-anchor="middle">e</text></g><rect x="284.1" y="160.3" width="128.0" height="72.5" fill="none" stroke="#5a5a5a" stroke-width="1.1"/><text x="283.1" y="240.0" font-size="5.4" font-weight="bold" fill="#5c5c5c" text-anchor="middle">118°30'E</text><rect x="283.7" y="232.8" width="0.8" height="1.5" fill="#333"/><text x="309.7" y="157.5" font-size="5.4" font-weight="bold" fill="#5c5c5c" text-anchor="middle">119°0'E</text><rect x="309.3" y="158.7" width="0.8" height="1.6" fill="#333"/><text x="309.7" y="240.0" font-size="5.4" font-weight="bold" fill="#5c5c5c" text-anchor="middle">119°0'E</text><rect x="309.3" y="232.8" width="0.8" height="1.5" fill="#333"/><text x="335.3" y="157.5" font-size="5.4" font-weight="bold" fill="#5c5c5c" text-anchor="middle">119°30'E</text><rect x="334.9" y="158.7" width="0.8" height="1.6" fill="#333"/><text x="335.3" y="240.0" font-size="5.4" font-weight="bold" fill="#5c5c5c" text-anchor="middle">119°30'E</text><rect x="334.9" y="232.8" width="0.8" height="1.5" fill="#333"/><text x="360.9" y="157.5" font-size="5.4" font-weight="bold" fill="#5c5c5c" text-anchor="middle">120°0'E</text><rect x="360.5" y="158.7" width="0.8" height="1.6" fill="#333"/><text x="360.9" y="240.0" font-size="5.4" font-weight="bold" fill="#5c5c5c" text-anchor="middle">120°0'E</text><rect x="360.5" y="232.8" width="0.8" height="1.5" fill="#333"/><text x="386.5" y="157.5" font-size="5.4" font-weight="bold" fill="#5c5c5c" text-anchor="middle">120°30'E</text><rect x="386.1" y="158.7" width="0.8" height="1.6" fill="#333"/><text x="386.5" y="240.0" font-size="5.4" font-weight="bold" fill="#5c5c5c" text-anchor="middle">120°30'E</text><rect x="386.1" y="232.8" width="0.8" height="1.5" fill="#333"/><text x="413.6" y="157.5" font-size="5.4" font-weight="bold" fill="#5c5c5c" text-anchor="middle">121°0'E</text><rect x="411.7" y="158.7" width="0.8" height="1.6" fill="#333"/><text x="413.6" y="240.0" font-size="5.4" font-weight="bold" fill="#5c5c5c" text-anchor="middle">121°0'E</text><rect x="411.7" y="232.8" width="0.8" height="1.5" fill="#333"/><rect x="282.5" y="170.4" width="1.6" height="0.8" fill="#333"/><rect x="412.1" y="170.4" width="1.6" height="0.8" fill="#333"/><text transform="translate(275.9,169.8) rotate(90)" font-size="5.4" font-weight="bold" fill="#5c5c5c" text-anchor="middle">38°30'N</text><text transform="translate(417.3,169.8) rotate(90)" font-size="5.4" font-weight="bold" fill="#5c5c5c" text-anchor="middle">38°30'N</text><rect x="282.5" y="191.1" width="1.6" height="0.8" fill="#333"/><rect x="412.1" y="191.1" width="1.6" height="0.8" fill="#333"/><text transform="translate(275.9,190.5) rotate(90)" font-size="5.4" font-weight="bold" fill="#5c5c5c" text-anchor="middle">38°0'N</text><text transform="translate(417.3,190.5) rotate(90)" font-size="5.4" font-weight="bold" fill="#5c5c5c" text-anchor="middle">38°0'N</text><rect x="282.5" y="211.8" width="1.6" height="0.8" fill="#333"/><rect x="412.1" y="211.8" width="1.6" height="0.8" fill="#333"/><text transform="translate(275.9,211.2) rotate(90)" font-size="5.4" font-weight="bold" fill="#5c5c5c" text-anchor="middle">37°30'N</text><text transform="translate(417.3,211.2) rotate(90)" font-size="5.4" font-weight="bold" fill="#5c5c5c" text-anchor="middle">37°30'N</text><clipPath id="cf"><rect x="434.3" y="160.0" width="128.3" height="72.8"/></clipPath><g clip-path="url(#cf)"><rect x="434.3" y="160.0" width="128.3" height="72.8" fill="#fff"/><rect x="434.3" y="170.4" width="128.3" height="62.4" fill="#2792c7"/><rect x="434.3" y="169.9" width="128.3" height="0.8" fill="#bfe6f5"/><path d="M434.3 188.8L439.6 186.5L447.1 185.7L453.4 186.5L457.5 190.3L461.0 194.1L466.0 197.8L471.0 201.4L475.1 204.4L474.2 205.6L469.8 204.1L464.8 204.1L460.0 206.0L457.5 209.2L455.9 212.9L456.6 216.7L458.5 220.5L462.2 223.8L468.5 227.1L473.6 229.3L481.1 229.3L488.6 227.6L496.2 228.1L501.2 226.8L505.0 223.3L506.0 219.5L511.3 217.0L518.8 214.2L525.1 210.4L528.9 206.1L535.2 202.9L544.0 200.4L550.3 199.1L556.6 199.7L562.6 200.6L562.6 232.8L434.3 232.8Z" fill="#888888"/><path d="M434.3 208.1C436.0 207.2 440.9 204.2 444.6 203.0C448.2 201.8 452.3 201.3 456.1 201.2C460.0 201.1 464.7 201.6 467.7 202.3C470.7 202.9 473.0 204.7 474.1 205.2" fill="none" stroke="#d4d4d4" stroke-width="0.85"/><path d="M434.3 226.3C435.8 225.7 440.5 223.5 443.3 222.7C446.1 221.8 448.6 221.4 451.0 221.2C453.3 221.0 456.3 221.2 457.4 221.2" fill="none" stroke="#d4d4d4" stroke-width="0.85"/><line x1="443.3" y1="208.1" x2="456.1" y2="203.0" stroke="#3a3a3a" stroke-width="1.2" opacity="0.8"/><line x1="440.7" y1="229.6" x2="458.7" y2="225.9" stroke="#3a3a3a" stroke-width="1.2" opacity="0.8"/><line x1="541.4" y1="196.4" x2="558.1" y2="179.3" stroke="#0c2a4a" stroke-width="1.1"/><line x1="542.7" y1="189.2" x2="553.0" y2="179.7" stroke="#0c2a4a" stroke-width="0.6" opacity="0.6"/><text x="500.4" y="176.2" font-size="5.0" font-weight="bold" fill="#0a2b5c" text-anchor="middle">Bohai Sea</text><rect x="498.2" y="169.8" width="7" height="1.4" fill="#123" opacity="0.45"/><rect x="443.9" y="171.7" width="1.3" height="7.5" fill="#0a2b5c" opacity="0.8"/><rect x="440.7" y="172.2" width="1.0" height="5" fill="#0a2b5c" opacity="0.6"/><rect x="534.6" y="214.8" width="11.5" height="1.5" fill="#111"/><rect x="546.2" y="215.2" width="13.2" height="0.6" fill="#222"/><rect x="535.0" y="218.8" width="1.2" height="1.2" fill="#444" opacity="0.6"/><rect x="546.6" y="218.8" width="1.2" height="1.2" fill="#444" opacity="0.6"/><rect x="557.5" y="218.8" width="1.2" height="1.2" fill="#444" opacity="0.6"/><rect x="447.1" y="161.0" width="7.9" height="3.9" fill="#2e86c0"/><rect x="449.9" y="166.0" width="2.5" height="0.8" fill="#89a" opacity="0.5"/><rect x="456.3" y="161.0" width="7.9" height="3.9" fill="#86b3a0"/><rect x="459.1" y="166.0" width="2.5" height="0.8" fill="#89a" opacity="0.5"/><rect x="465.5" y="161.0" width="7.9" height="3.9" fill="#c3d78c"/><rect x="468.2" y="166.0" width="2.5" height="0.8" fill="#89a" opacity="0.5"/><rect x="474.6" y="161.0" width="7.9" height="3.9" fill="#f2ee6e"/><rect x="477.4" y="166.0" width="2.5" height="0.8" fill="#89a" opacity="0.5"/><rect x="483.8" y="161.0" width="7.9" height="3.9" fill="#f4bc50"/><rect x="486.5" y="166.0" width="2.5" height="0.8" fill="#89a" opacity="0.5"/><rect x="493.0" y="161.0" width="7.9" height="3.9" fill="#ec7a2e"/><rect x="495.7" y="166.0" width="2.5" height="0.8" fill="#89a" opacity="0.5"/><rect x="502.1" y="161.0" width="7.9" height="3.9" fill="#d3201f"/><rect x="504.9" y="166.0" width="2.5" height="0.8" fill="#89a" opacity="0.5"/><text x="515.1" y="164.6" font-size="2.8" fill="#444">ind/haul</text><rect x="438.2" y="163.0" width="6" height="1.1" fill="#222" opacity="0.8"/><path d="M556.6 163.4 l1.2 2.6 l-2.4 0z" fill="#333"/><rect x="556.3" y="161.4" width="0.6" height="1.6" fill="#555"/><text x="554.3" y="229.6" font-size="6.2" font-weight="bold" fill="#222" text-anchor="middle">f</text></g><rect x="434.3" y="160.0" width="128.3" height="72.8" fill="none" stroke="#5a5a5a" stroke-width="1.1"/><text x="433.3" y="240.0" font-size="5.4" font-weight="bold" fill="#5c5c5c" text-anchor="middle">118°30'E</text><rect x="433.9" y="232.8" width="0.8" height="1.5" fill="#333"/><text x="460.0" y="157.2" font-size="5.4" font-weight="bold" fill="#5c5c5c" text-anchor="middle">119°0'E</text><rect x="459.6" y="158.4" width="0.8" height="1.6" fill="#333"/><text x="460.0" y="240.0" font-size="5.4" font-weight="bold" fill="#5c5c5c" text-anchor="middle">119°0'E</text><rect x="459.6" y="232.8" width="0.8" height="1.5" fill="#333"/><text x="485.6" y="157.2" font-size="5.4" font-weight="bold" fill="#5c5c5c" text-anchor="middle">119°30'E</text><rect x="485.2" y="158.4" width="0.8" height="1.6" fill="#333"/><text x="485.6" y="240.0" font-size="5.4" font-weight="bold" fill="#5c5c5c" text-anchor="middle">119°30'E</text><rect x="485.2" y="232.8" width="0.8" height="1.5" fill="#333"/><text x="511.3" y="157.2" font-size="5.4" font-weight="bold" fill="#5c5c5c" text-anchor="middle">120°0'E</text><rect x="510.9" y="158.4" width="0.8" height="1.6" fill="#333"/><text x="511.3" y="240.0" font-size="5.4" font-weight="bold" fill="#5c5c5c" text-anchor="middle">120°0'E</text><rect x="510.9" y="232.8" width="0.8" height="1.5" fill="#333"/><text x="536.9" y="157.2" font-size="5.4" font-weight="bold" fill="#5c5c5c" text-anchor="middle">120°30'E</text><rect x="536.5" y="158.4" width="0.8" height="1.6" fill="#333"/><text x="536.9" y="240.0" font-size="5.4" font-weight="bold" fill="#5c5c5c" text-anchor="middle">120°30'E</text><rect x="536.5" y="232.8" width="0.8" height="1.5" fill="#333"/><text x="564.1" y="157.2" font-size="5.4" font-weight="bold" fill="#5c5c5c" text-anchor="middle">121°0'E</text><rect x="562.2" y="158.4" width="0.8" height="1.6" fill="#333"/><text x="564.1" y="240.0" font-size="5.4" font-weight="bold" fill="#5c5c5c" text-anchor="middle">121°0'E</text><rect x="562.2" y="232.8" width="0.8" height="1.5" fill="#333"/><rect x="432.7" y="170.2" width="1.6" height="0.8" fill="#333"/><rect x="562.6" y="170.2" width="1.6" height="0.8" fill="#333"/><text transform="translate(426.1,169.6) rotate(90)" font-size="5.4" font-weight="bold" fill="#5c5c5c" text-anchor="middle">38°30'N</text><text transform="translate(567.8,169.6) rotate(90)" font-size="5.4" font-weight="bold" fill="#5c5c5c" text-anchor="middle">38°30'N</text><rect x="432.7" y="190.9" width="1.6" height="0.8" fill="#333"/><rect x="562.6" y="190.9" width="1.6" height="0.8" fill="#333"/><text transform="translate(426.1,190.3) rotate(90)" font-size="5.4" font-weight="bold" fill="#5c5c5c" text-anchor="middle">38°0'N</text><text transform="translate(567.8,190.3) rotate(90)" font-size="5.4" font-weight="bold" fill="#5c5c5c" text-anchor="middle">38°0'N</text><rect x="432.7" y="211.7" width="1.6" height="0.8" fill="#333"/><rect x="562.6" y="211.7" width="1.6" height="0.8" fill="#333"/><text transform="translate(426.1,211.1) rotate(90)" font-size="5.4" font-weight="bold" fill="#5c5c5c" text-anchor="middle">37°30'N</text><text transform="translate(567.8,211.1) rotate(90)" font-size="5.4" font-weight="bold" fill="#5c5c5c" text-anchor="middle">37°30'N</text><clipPath id="cg"><rect x="134.3" y="251.3" width="128.0" height="73.2"/></clipPath><g clip-path="url(#cg)"><rect x="134.3" y="251.3" width="128.0" height="73.2" fill="#fff"/><rect x="134.3" y="261.8" width="128.0" height="62.7" fill="#2792c7"/><rect x="134.3" y="261.3" width="128.0" height="0.8" fill="#bfe6f5"/><path d="M163.2 284.9C164.7 283.7 170.9 284.9 174.5 286.2C178.0 287.4 181.8 289.7 184.5 292.5C187.2 295.2 189.9 299.4 190.5 302.5C191.2 305.6 189.9 308.9 188.3 311.3C186.7 313.7 183.7 315.7 180.8 316.9C177.8 318.2 174.1 318.9 170.7 318.8C167.4 318.7 163.2 318.0 160.7 316.3C158.2 314.6 156.5 311.5 155.7 308.8C154.8 306.1 154.0 302.5 155.7 300.0C157.3 297.5 164.4 296.2 165.7 293.7C167.0 291.2 161.7 286.2 163.2 284.9Z" fill="#c3d78c"/><path d="M165.1 287.7C166.3 286.6 170.9 287.3 173.9 288.4C176.8 289.6 180.4 291.9 182.6 294.3C184.9 296.8 186.8 300.4 187.3 303.1C187.7 305.9 186.7 308.6 185.3 310.7C183.9 312.8 181.3 314.5 178.9 315.7C176.4 316.8 173.5 317.6 170.7 317.6C167.9 317.6 164.2 317.1 161.9 315.7C159.6 314.2 157.7 311.4 156.9 308.8C156.1 306.2 155.3 302.3 156.9 300.0C158.5 297.7 165.0 297.0 166.3 295.0C167.7 292.9 163.8 288.8 165.1 287.7Z" fill="#ecd86a"/><path d="M159.4 297.5C161.2 295.2 165.3 295.0 168.2 295.0C171.1 295.0 174.5 296.0 177.0 297.5C179.5 298.9 182.4 301.5 183.3 303.8C184.1 306.1 183.1 309.3 182.0 311.3C181.0 313.3 179.1 314.7 177.0 315.7C174.9 316.6 172.0 317.0 169.5 316.9C167.0 316.8 163.9 316.4 161.9 315.1C159.9 313.7 158.0 311.7 157.5 308.8C157.1 305.9 157.6 299.8 159.4 297.5Z" fill="#f4bc50"/><ellipse cx="162.2" cy="306.9" rx="7.8" ry="9.0" fill="#ec7a2e"/><ellipse cx="160.7" cy="306.9" rx="4.5" ry="6.5" fill="#d3201f"/><path d="M134.3 280.2L139.6 277.9L147.1 277.1L153.4 277.9L157.4 281.7L160.9 285.5L165.9 289.3L171.0 292.8L175.0 295.9L174.1 297.1L169.7 295.6L164.7 295.6L159.9 297.5L157.4 300.7L155.9 304.5L156.5 308.3L158.4 312.1L162.2 315.4L168.5 318.6L173.5 320.9L181.0 320.9L188.5 319.2L196.1 319.7L201.1 318.4L204.9 314.8L205.9 311.0L211.1 308.5L218.7 305.7L224.9 301.9L228.7 297.6L235.0 294.3L243.8 291.8L250.0 290.5L256.3 291.2L262.3 292.1L262.3 324.5L134.3 324.5Z" fill="#888888"/><path d="M134.3 299.6C136.0 298.7 140.9 295.6 144.6 294.5C148.2 293.3 152.2 292.8 156.1 292.6C159.9 292.5 164.6 293.1 167.6 293.7C170.6 294.4 172.9 296.2 174.0 296.7" fill="none" stroke="#d4d4d4" stroke-width="0.85"/><path d="M134.3 317.9C135.8 317.3 140.5 315.1 143.3 314.2C146.1 313.4 148.6 313.0 151.0 312.8C153.3 312.5 156.3 312.8 157.4 312.8" fill="none" stroke="#d4d4d4" stroke-width="0.85"/><line x1="143.3" y1="299.6" x2="156.1" y2="294.5" stroke="#3a3a3a" stroke-width="1.2" opacity="0.8"/><line x1="140.7" y1="321.2" x2="158.6" y2="317.5" stroke="#3a3a3a" stroke-width="1.2" opacity="0.8"/><line x1="241.2" y1="287.9" x2="257.9" y2="270.7" stroke="#0c2a4a" stroke-width="1.1"/><line x1="242.5" y1="280.6" x2="252.7" y2="271.1" stroke="#0c2a4a" stroke-width="0.6" opacity="0.6"/><text x="200.3" y="267.5" font-size="5.0" font-weight="bold" fill="#0a2b5c" text-anchor="middle">Bohai Sea</text><rect x="198.0" y="261.1" width="7" height="1.4" fill="#123" opacity="0.45"/><rect x="143.9" y="263.0" width="1.3" height="7.5" fill="#0a2b5c" opacity="0.8"/><rect x="140.7" y="263.5" width="1.0" height="5" fill="#0a2b5c" opacity="0.6"/><rect x="234.4" y="306.3" width="11.5" height="1.5" fill="#111"/><rect x="246.0" y="306.8" width="13.2" height="0.6" fill="#222"/><rect x="234.8" y="310.3" width="1.2" height="1.2" fill="#444" opacity="0.6"/><rect x="246.3" y="310.3" width="1.2" height="1.2" fill="#444" opacity="0.6"/><rect x="257.2" y="310.3" width="1.2" height="1.2" fill="#444" opacity="0.6"/><rect x="156.1" y="252.3" width="5.7" height="3.9" fill="#2e86c0"/><rect x="158.1" y="257.3" width="2.5" height="0.8" fill="#89a" opacity="0.5"/><rect x="162.7" y="252.3" width="5.7" height="3.9" fill="#86b3a0"/><rect x="164.7" y="257.3" width="2.5" height="0.8" fill="#89a" opacity="0.5"/><rect x="169.3" y="252.3" width="5.7" height="3.9" fill="#c3d78c"/><rect x="171.3" y="257.3" width="2.5" height="0.8" fill="#89a" opacity="0.5"/><rect x="175.9" y="252.3" width="5.7" height="3.9" fill="#f4bc50"/><rect x="177.9" y="257.3" width="2.5" height="0.8" fill="#89a" opacity="0.5"/><rect x="182.5" y="252.3" width="5.7" height="3.9" fill="#ec7a2e"/><rect x="184.5" y="257.3" width="2.5" height="0.8" fill="#89a" opacity="0.5"/><rect x="189.2" y="252.3" width="5.7" height="3.9" fill="#d3201f"/><rect x="191.1" y="257.3" width="2.5" height="0.8" fill="#89a" opacity="0.5"/><text x="199.6" y="255.9" font-size="2.8" fill="#444">ind/haul</text><rect x="138.2" y="254.3" width="6" height="1.1" fill="#222" opacity="0.8"/><path d="M256.3 254.7 l1.2 2.6 l-2.4 0z" fill="#333"/><rect x="256.0" y="252.7" width="0.6" height="1.6" fill="#555"/><text x="254.0" y="321.2" font-size="6.2" font-weight="bold" fill="#222" text-anchor="middle">g</text></g><rect x="134.3" y="251.3" width="128.0" height="73.2" fill="none" stroke="#5a5a5a" stroke-width="1.1"/><text x="133.3" y="331.7" font-size="5.4" font-weight="bold" fill="#5c5c5c" text-anchor="middle">118°30'E</text><rect x="133.9" y="324.5" width="0.8" height="1.5" fill="#333"/><text x="159.9" y="248.5" font-size="5.4" font-weight="bold" fill="#5c5c5c" text-anchor="middle">119°0'E</text><rect x="159.5" y="249.7" width="0.8" height="1.6" fill="#333"/><text x="159.9" y="331.7" font-size="5.4" font-weight="bold" fill="#5c5c5c" text-anchor="middle">119°0'E</text><rect x="159.5" y="324.5" width="0.8" height="1.5" fill="#333"/><text x="185.5" y="248.5" font-size="5.4" font-weight="bold" fill="#5c5c5c" text-anchor="middle">119°30'E</text><rect x="185.1" y="249.7" width="0.8" height="1.6" fill="#333"/><text x="185.5" y="331.7" font-size="5.4" font-weight="bold" fill="#5c5c5c" text-anchor="middle">119°30'E</text><rect x="185.1" y="324.5" width="0.8" height="1.5" fill="#333"/><text x="211.1" y="248.5" font-size="5.4" font-weight="bold" fill="#5c5c5c" text-anchor="middle">120°0'E</text><rect x="210.7" y="249.7" width="0.8" height="1.6" fill="#333"/><text x="211.1" y="331.7" font-size="5.4" font-weight="bold" fill="#5c5c5c" text-anchor="middle">120°0'E</text><rect x="210.7" y="324.5" width="0.8" height="1.5" fill="#333"/><text x="236.7" y="248.5" font-size="5.4" font-weight="bold" fill="#5c5c5c" text-anchor="middle">120°30'E</text><rect x="236.3" y="249.7" width="0.8" height="1.6" fill="#333"/><text x="236.7" y="331.7" font-size="5.4" font-weight="bold" fill="#5c5c5c" text-anchor="middle">120°30'E</text><rect x="236.3" y="324.5" width="0.8" height="1.5" fill="#333"/><text x="263.8" y="248.5" font-size="5.4" font-weight="bold" fill="#5c5c5c" text-anchor="middle">121°0'E</text><rect x="261.9" y="249.7" width="0.8" height="1.6" fill="#333"/><text x="263.8" y="331.7" font-size="5.4" font-weight="bold" fill="#5c5c5c" text-anchor="middle">121°0'E</text><rect x="261.9" y="324.5" width="0.8" height="1.5" fill="#333"/><rect x="132.7" y="261.5" width="1.6" height="0.8" fill="#333"/><rect x="262.3" y="261.5" width="1.6" height="0.8" fill="#333"/><text transform="translate(126.1,260.9) rotate(90)" font-size="5.4" font-weight="bold" fill="#5c5c5c" text-anchor="middle">38°30'N</text><text transform="translate(267.5,260.9) rotate(90)" font-size="5.4" font-weight="bold" fill="#5c5c5c" text-anchor="middle">38°30'N</text><rect x="132.7" y="282.4" width="1.6" height="0.8" fill="#333"/><rect x="262.3" y="282.4" width="1.6" height="0.8" fill="#333"/><text transform="translate(126.1,281.8) rotate(90)" font-size="5.4" font-weight="bold" fill="#5c5c5c" text-anchor="middle">38°0'N</text><text transform="translate(267.5,281.8) rotate(90)" font-size="5.4" font-weight="bold" fill="#5c5c5c" text-anchor="middle">38°0'N</text><rect x="132.7" y="303.2" width="1.6" height="0.8" fill="#333"/><rect x="262.3" y="303.2" width="1.6" height="0.8" fill="#333"/><text transform="translate(126.1,302.6) rotate(90)" font-size="5.4" font-weight="bold" fill="#5c5c5c" text-anchor="middle">37°30'N</text><text transform="translate(267.5,302.6) rotate(90)" font-size="5.4" font-weight="bold" fill="#5c5c5c" text-anchor="middle">37°30'N</text><clipPath id="ch"><rect x="284.1" y="251.3" width="128.3" height="73.2"/></clipPath><g clip-path="url(#ch)"><rect x="284.1" y="251.3" width="128.3" height="73.2" fill="#fff"/><rect x="284.1" y="261.9" width="128.3" height="62.6" fill="#2792c7"/><rect x="284.1" y="261.4" width="128.3" height="0.8" fill="#bfe6f5"/><path d="M315.7 287.2C317.4 286.8 324.5 288.7 328.2 289.3C332.0 290.0 336.1 289.4 338.3 291.2C340.4 293.0 340.9 296.6 341.2 300.0C341.4 303.3 341.1 308.1 339.8 311.3C338.5 314.5 336.4 317.8 333.3 319.1C330.1 320.4 324.9 319.7 320.7 319.1C316.5 318.4 310.7 317.9 308.2 315.3C305.6 312.8 305.4 306.7 305.4 303.8C305.4 300.8 306.0 299.5 308.2 297.5C310.3 295.4 317.0 293.2 318.2 291.5C319.5 289.7 314.0 287.5 315.7 287.2Z" fill="#86b3a0"/><path d="M323.2 295.0C324.9 293.5 329.5 292.0 332.0 292.5C334.5 292.9 337.0 295.2 338.3 297.5C339.5 299.8 340.0 303.7 339.5 306.3C339.1 308.9 337.9 311.4 335.8 313.2C333.7 315.0 329.5 317.3 327.0 316.9C324.5 316.6 321.6 313.9 320.7 311.3C319.9 308.7 321.6 304.0 322.0 301.2C322.4 298.5 321.6 296.4 323.2 295.0Z" fill="#c3d78c"/><path d="M306.7 300.2C308.2 298.0 312.7 297.1 315.7 296.9C318.7 296.6 322.6 297.3 324.5 298.5C326.4 299.6 327.2 301.8 327.2 303.8C327.3 305.7 325.8 308.4 324.7 310.3C323.6 312.2 322.9 314.5 320.7 315.3C318.6 316.1 314.3 316.1 311.9 315.3C309.6 314.5 307.5 312.8 306.7 310.3C305.8 307.8 305.2 302.5 306.7 300.2Z" fill="#f2ee6e"/><ellipse cx="322.6" cy="303.1" rx="1.1" ry="1.0" fill="#f4bc50"/><ellipse cx="327.6" cy="314.4" rx="2.5" ry="2.3" fill="#2792c7"/><path d="M367.8 291.5C367.8 289.7 370.4 287.3 372.2 284.9C374.0 282.5 375.7 278.4 378.5 277.1C381.2 275.9 386.0 278.0 388.5 277.4C391.0 276.8 391.4 274.3 393.5 273.4C395.6 272.5 399.0 271.7 401.0 272.1C403.1 272.6 404.0 274.8 406.1 276.1C408.2 277.4 412.3 276.9 413.6 279.9C414.9 282.9 414.9 292.4 413.6 294.3C412.3 296.3 409.4 291.5 406.1 291.5C402.7 291.4 397.7 293.2 393.5 294.0C389.3 294.7 384.5 295.6 381.0 295.9C377.4 296.1 374.4 296.0 372.2 295.2C370.0 294.5 367.8 293.2 367.8 291.5Z" fill="#86b3a0"/><path d="M370.3 291.5C370.4 290.1 372.5 287.6 374.1 285.6C375.6 283.5 377.3 280.3 379.7 279.3C382.1 278.2 386.1 279.9 388.5 279.3C390.9 278.7 392.1 276.4 394.1 275.5C396.2 274.7 398.9 273.8 400.8 274.3C402.7 274.7 403.3 276.8 405.4 278.0C407.6 279.3 412.2 279.2 413.6 281.8C415.0 284.4 414.9 292.3 413.6 293.7C412.3 295.2 409.4 290.7 406.1 290.6C402.7 290.4 397.7 292.1 393.5 292.7C389.3 293.3 384.3 294.2 381.0 294.3C377.6 294.5 375.2 294.2 373.4 293.7C371.7 293.2 370.2 292.8 370.3 291.5Z" fill="#c3d78c"/><path d="M383.2 288.9C384.7 288.2 390.3 287.2 392.3 287.4C394.2 287.7 395.6 289.6 395.0 290.6C394.4 291.5 390.7 293.0 388.7 293.2C386.8 293.4 384.4 292.7 383.5 292.0C382.6 291.2 381.8 289.7 383.2 288.9Z" fill="#f2ee6e"/><ellipse cx="411.1" cy="290.2" rx="2.8" ry="2.5" fill="#f2ee6e"/><path d="M284.1 280.2L289.3 277.9L296.9 277.1L303.2 277.9L307.2 281.7L310.7 285.5L315.8 289.3L320.8 292.8L324.8 295.9L323.9 297.1L319.5 295.6L314.5 295.6L309.7 297.5L307.2 300.7L305.7 304.5L306.3 308.3L308.2 312.1L312.0 315.4L318.3 318.6L323.3 320.9L330.9 320.9L338.4 319.2L345.9 319.7L351.0 318.4L354.7 314.8L355.8 311.0L361.0 308.5L368.6 305.7L374.9 301.9L378.6 297.6L384.9 294.3L393.7 291.8L400.0 290.5L406.3 291.2L412.3 292.1L412.3 324.5L284.1 324.5Z" fill="#888888"/><path d="M284.1 299.6C285.8 298.7 290.7 295.6 294.3 294.5C298.0 293.3 302.0 292.8 305.9 292.6C309.7 292.5 314.4 293.1 317.4 293.7C320.4 294.4 322.8 296.2 323.8 296.7" fill="none" stroke="#d4d4d4" stroke-width="0.85"/><path d="M284.1 317.9C285.6 317.3 290.3 315.1 293.0 314.2C295.8 313.4 298.4 313.0 300.7 312.8C303.1 312.5 306.1 312.8 307.2 312.8" fill="none" stroke="#d4d4d4" stroke-width="0.85"/><line x1="293.0" y1="299.6" x2="305.9" y2="294.5" stroke="#3a3a3a" stroke-width="1.2" opacity="0.8"/><line x1="290.5" y1="321.2" x2="308.4" y2="317.5" stroke="#3a3a3a" stroke-width="1.2" opacity="0.8"/><line x1="391.2" y1="287.9" x2="407.9" y2="270.7" stroke="#0c2a4a" stroke-width="1.1"/><line x1="392.5" y1="280.6" x2="402.7" y2="271.1" stroke="#0c2a4a" stroke-width="0.6" opacity="0.6"/><text x="350.1" y="267.5" font-size="5.0" font-weight="bold" fill="#0a2b5c" text-anchor="middle">Bohai Sea</text><rect x="347.9" y="261.1" width="7" height="1.4" fill="#123" opacity="0.45"/><rect x="293.7" y="263.0" width="1.3" height="7.5" fill="#0a2b5c" opacity="0.8"/><rect x="290.5" y="263.5" width="1.0" height="5" fill="#0a2b5c" opacity="0.6"/><rect x="384.4" y="306.3" width="11.5" height="1.5" fill="#111"/><rect x="395.9" y="306.8" width="13.2" height="0.6" fill="#222"/><rect x="384.8" y="310.3" width="1.2" height="1.2" fill="#444" opacity="0.6"/><rect x="396.3" y="310.3" width="1.2" height="1.2" fill="#444" opacity="0.6"/><rect x="407.2" y="310.3" width="1.2" height="1.2" fill="#444" opacity="0.6"/><rect x="298.8" y="252.3" width="8.3" height="3.9" fill="#2e86c0"/><rect x="301.7" y="257.3" width="2.5" height="0.8" fill="#89a" opacity="0.5"/><rect x="308.4" y="252.3" width="8.3" height="3.9" fill="#86b3a0"/><rect x="311.3" y="257.3" width="2.5" height="0.8" fill="#89a" opacity="0.5"/><rect x="318.1" y="252.3" width="8.3" height="3.9" fill="#c3d78c"/><rect x="320.9" y="257.3" width="2.5" height="0.8" fill="#89a" opacity="0.5"/><rect x="327.7" y="252.3" width="8.3" height="3.9" fill="#f2ee6e"/><rect x="330.6" y="257.3" width="2.5" height="0.8" fill="#89a" opacity="0.5"/><rect x="337.3" y="252.3" width="8.3" height="3.9" fill="#f4bc50"/><rect x="340.2" y="257.3" width="2.5" height="0.8" fill="#89a" opacity="0.5"/><rect x="346.9" y="252.3" width="8.3" height="3.9" fill="#ec7a2e"/><rect x="349.8" y="257.3" width="2.5" height="0.8" fill="#89a" opacity="0.5"/><rect x="356.5" y="252.3" width="8.3" height="3.9" fill="#d3201f"/><rect x="359.4" y="257.3" width="2.5" height="0.8" fill="#89a" opacity="0.5"/><text x="370.0" y="255.9" font-size="2.8" fill="#444">ind/haul</text><rect x="287.9" y="254.3" width="6" height="1.1" fill="#222" opacity="0.8"/><path d="M406.3 254.7 l1.2 2.6 l-2.4 0z" fill="#333"/><rect x="406.0" y="252.7" width="0.6" height="1.6" fill="#555"/><text x="404.0" y="321.2" font-size="6.2" font-weight="bold" fill="#222" text-anchor="middle">h</text></g><rect x="284.1" y="251.3" width="128.3" height="73.2" fill="none" stroke="#5a5a5a" stroke-width="1.1"/><text x="283.1" y="331.7" font-size="5.4" font-weight="bold" fill="#5c5c5c" text-anchor="middle">118°30'E</text><rect x="283.7" y="324.5" width="0.8" height="1.5" fill="#333"/><text x="309.7" y="248.5" font-size="5.4" font-weight="bold" fill="#5c5c5c" text-anchor="middle">119°0'E</text><rect x="309.3" y="249.7" width="0.8" height="1.6" fill="#333"/><text x="309.7" y="331.7" font-size="5.4" font-weight="bold" fill="#5c5c5c" text-anchor="middle">119°0'E</text><rect x="309.3" y="324.5" width="0.8" height="1.5" fill="#333"/><text x="335.4" y="248.5" font-size="5.4" font-weight="bold" fill="#5c5c5c" text-anchor="middle">119°30'E</text><rect x="335.0" y="249.7" width="0.8" height="1.6" fill="#333"/><text x="335.4" y="331.7" font-size="5.4" font-weight="bold" fill="#5c5c5c" text-anchor="middle">119°30'E</text><rect x="335.0" y="324.5" width="0.8" height="1.5" fill="#333"/><text x="361.0" y="248.5" font-size="5.4" font-weight="bold" fill="#5c5c5c" text-anchor="middle">120°0'E</text><rect x="360.6" y="249.7" width="0.8" height="1.6" fill="#333"/><text x="361.0" y="331.7" font-size="5.4" font-weight="bold" fill="#5c5c5c" text-anchor="middle">120°0'E</text><rect x="360.6" y="324.5" width="0.8" height="1.5" fill="#333"/><text x="386.7" y="248.5" font-size="5.4" font-weight="bold" fill="#5c5c5c" text-anchor="middle">120°30'E</text><rect x="386.3" y="249.7" width="0.8" height="1.6" fill="#333"/><text x="386.7" y="331.7" font-size="5.4" font-weight="bold" fill="#5c5c5c" text-anchor="middle">120°30'E</text><rect x="386.3" y="324.5" width="0.8" height="1.5" fill="#333"/><text x="413.8" y="248.5" font-size="5.4" font-weight="bold" fill="#5c5c5c" text-anchor="middle">121°0'E</text><rect x="411.9" y="249.7" width="0.8" height="1.6" fill="#333"/><text x="413.8" y="331.7" font-size="5.4" font-weight="bold" fill="#5c5c5c" text-anchor="middle">121°0'E</text><rect x="411.9" y="324.5" width="0.8" height="1.5" fill="#333"/><rect x="282.5" y="261.5" width="1.6" height="0.8" fill="#333"/><rect x="412.3" y="261.5" width="1.6" height="0.8" fill="#333"/><text transform="translate(275.9,260.9) rotate(90)" font-size="5.4" font-weight="bold" fill="#5c5c5c" text-anchor="middle">38°30'N</text><text transform="translate(417.5,260.9) rotate(90)" font-size="5.4" font-weight="bold" fill="#5c5c5c" text-anchor="middle">38°30'N</text><rect x="282.5" y="282.4" width="1.6" height="0.8" fill="#333"/><rect x="412.3" y="282.4" width="1.6" height="0.8" fill="#333"/><text transform="translate(275.9,281.8) rotate(90)" font-size="5.4" font-weight="bold" fill="#5c5c5c" text-anchor="middle">38°0'N</text><text transform="translate(417.5,281.8) rotate(90)" font-size="5.4" font-weight="bold" fill="#5c5c5c" text-anchor="middle">38°0'N</text><rect x="282.5" y="303.2" width="1.6" height="0.8" fill="#333"/><rect x="412.3" y="303.2" width="1.6" height="0.8" fill="#333"/><text transform="translate(275.9,302.6) rotate(90)" font-size="5.4" font-weight="bold" fill="#5c5c5c" text-anchor="middle">37°30'N</text><text transform="translate(417.5,302.6) rotate(90)" font-size="5.4" font-weight="bold" fill="#5c5c5c" text-anchor="middle">37°30'N</text><clipPath id="ci"><rect x="434.1" y="251.7" width="128.3" height="72.8"/></clipPath><g clip-path="url(#ci)"><rect x="434.1" y="251.7" width="128.3" height="72.8" fill="#fff"/><rect x="434.1" y="262.0" width="128.3" height="62.5" fill="#2792c7"/><rect x="434.1" y="261.5" width="128.3" height="0.8" fill="#bfe6f5"/><ellipse cx="485.2" cy="271.1" rx="5.3" ry="7.3" fill="#86b3a0"/><ellipse cx="485.8" cy="282.4" rx="4.6" ry="4.6" fill="#f2ee6e"/><ellipse cx="485.8" cy="282.4" rx="3.0" ry="3.0" fill="#f4bc50"/><ellipse cx="485.8" cy="282.4" rx="1.8" ry="1.8" fill="#ec7a2e"/><ellipse cx="485.8" cy="282.4" rx="0.9" ry="0.9" fill="#b03018"/><path d="M504.4 300.6C504.8 298.9 506.4 297.8 508.4 296.2C510.3 294.7 513.2 292.4 515.9 291.2C518.6 290.1 522.2 289.2 524.7 289.3C527.2 289.5 529.6 291.1 531.0 292.2C532.3 293.4 533.7 294.3 532.8 296.2C532.0 298.2 528.8 301.9 525.9 303.8C523.1 305.6 519.3 307.1 515.9 307.5C512.6 307.9 507.8 307.4 505.9 306.3C503.9 305.1 503.9 302.3 504.4 300.6Z" fill="#c3d78c"/><ellipse cx="514.6" cy="300.0" rx="6.3" ry="5.6" fill="#f2ee6e"/><ellipse cx="519.7" cy="298.1" rx="7.8" ry="4.8" fill="#f4bc50"/><ellipse cx="520.3" cy="297.7" rx="6.3" ry="3.8" fill="#ec7a2e"/><ellipse cx="517.2" cy="297.2" rx="3.0" ry="2.5" fill="#d3201f"/><ellipse cx="524.7" cy="298.1" rx="3.0" ry="2.5" fill="#d3201f"/><ellipse cx="524.1" cy="292.5" rx="1.3" ry="1.1" fill="#86b3a0"/><ellipse cx="519.7" cy="301.0" rx="1.1" ry="1.0" fill="#86b3a0"/><path d="M434.1 280.4L439.3 278.1L446.9 277.4L453.2 278.1L457.2 281.9L460.7 285.7L465.8 289.5L470.8 293.0L474.8 296.0L473.9 297.3L469.5 295.8L464.5 295.8L459.7 297.6L457.2 300.8L455.7 304.6L456.3 308.3L458.2 312.1L462.0 315.4L468.3 318.7L473.3 320.9L480.9 320.9L488.4 319.2L495.9 319.7L501.0 318.4L504.7 314.9L505.8 311.1L511.0 308.6L518.6 305.8L524.9 302.0L528.6 297.8L534.9 294.5L543.7 292.0L550.0 290.7L556.3 291.3L562.3 292.2L562.3 324.5L434.1 324.5Z" fill="#888888"/><path d="M434.1 299.7C435.8 298.9 440.7 295.8 444.3 294.6C448.0 293.5 452.0 292.9 455.9 292.8C459.7 292.7 464.4 293.2 467.4 293.9C470.4 294.6 472.8 296.3 473.8 296.8" fill="none" stroke="#d4d4d4" stroke-width="0.85"/><path d="M434.1 317.9C435.6 317.3 440.3 315.1 443.0 314.3C445.8 313.4 448.4 313.1 450.7 312.8C453.1 312.6 456.1 312.8 457.2 312.8" fill="none" stroke="#d4d4d4" stroke-width="0.85"/><line x1="443.0" y1="299.7" x2="455.9" y2="294.6" stroke="#3a3a3a" stroke-width="1.2" opacity="0.8"/><line x1="440.5" y1="321.2" x2="458.4" y2="317.6" stroke="#3a3a3a" stroke-width="1.2" opacity="0.8"/><line x1="541.2" y1="288.1" x2="557.9" y2="271.0" stroke="#0c2a4a" stroke-width="1.1"/><line x1="542.5" y1="280.8" x2="552.7" y2="271.3" stroke="#0c2a4a" stroke-width="0.6" opacity="0.6"/><text x="500.1" y="267.8" font-size="5.0" font-weight="bold" fill="#0a2b5c" text-anchor="middle">Bohai Sea</text><rect x="497.9" y="261.4" width="7" height="1.4" fill="#123" opacity="0.45"/><rect x="443.7" y="263.3" width="1.3" height="7.5" fill="#0a2b5c" opacity="0.8"/><rect x="440.5" y="263.8" width="1.0" height="5" fill="#0a2b5c" opacity="0.6"/><rect x="534.4" y="306.4" width="11.5" height="1.5" fill="#111"/><rect x="545.9" y="306.8" width="13.2" height="0.6" fill="#222"/><rect x="534.8" y="310.4" width="1.2" height="1.2" fill="#444" opacity="0.6"/><rect x="546.3" y="310.4" width="1.2" height="1.2" fill="#444" opacity="0.6"/><rect x="557.2" y="310.4" width="1.2" height="1.2" fill="#444" opacity="0.6"/><rect x="448.8" y="252.7" width="8.3" height="3.9" fill="#2e86c0"/><rect x="451.7" y="257.7" width="2.5" height="0.8" fill="#89a" opacity="0.5"/><rect x="458.4" y="252.7" width="8.3" height="3.9" fill="#86b3a0"/><rect x="461.3" y="257.7" width="2.5" height="0.8" fill="#89a" opacity="0.5"/><rect x="468.1" y="252.7" width="8.3" height="3.9" fill="#c3d78c"/><rect x="470.9" y="257.7" width="2.5" height="0.8" fill="#89a" opacity="0.5"/><rect x="477.7" y="252.7" width="8.3" height="3.9" fill="#f2ee6e"/><rect x="480.6" y="257.7" width="2.5" height="0.8" fill="#89a" opacity="0.5"/><rect x="487.3" y="252.7" width="8.3" height="3.9" fill="#f4bc50"/><rect x="490.2" y="257.7" width="2.5" height="0.8" fill="#89a" opacity="0.5"/><rect x="496.9" y="252.7" width="8.3" height="3.9" fill="#ec7a2e"/><rect x="499.8" y="257.7" width="2.5" height="0.8" fill="#89a" opacity="0.5"/><rect x="506.5" y="252.7" width="8.3" height="3.9" fill="#d3201f"/><rect x="509.4" y="257.7" width="2.5" height="0.8" fill="#89a" opacity="0.5"/><text x="520.0" y="256.3" font-size="2.8" fill="#444">ind/haul</text><rect x="437.9" y="254.7" width="6" height="1.1" fill="#222" opacity="0.8"/><path d="M556.3 255.1 l1.2 2.6 l-2.4 0z" fill="#333"/><rect x="556.0" y="253.1" width="0.6" height="1.6" fill="#555"/><text x="554.0" y="321.2" font-size="6.2" font-weight="bold" fill="#222" text-anchor="middle">i</text></g><rect x="434.1" y="251.7" width="128.3" height="72.8" fill="none" stroke="#5a5a5a" stroke-width="1.1"/><text x="433.1" y="331.7" font-size="5.4" font-weight="bold" fill="#5c5c5c" text-anchor="middle">118°30'E</text><rect x="433.7" y="324.5" width="0.8" height="1.5" fill="#333"/><text x="459.7" y="248.9" font-size="5.4" font-weight="bold" fill="#5c5c5c" text-anchor="middle">119°0'E</text><rect x="459.3" y="250.1" width="0.8" height="1.6" fill="#333"/><text x="459.7" y="331.7" font-size="5.4" font-weight="bold" fill="#5c5c5c" text-anchor="middle">119°0'E</text><rect x="459.3" y="324.5" width="0.8" height="1.5" fill="#333"/><text x="485.4" y="248.9" font-size="5.4" font-weight="bold" fill="#5c5c5c" text-anchor="middle">119°30'E</text><rect x="485.0" y="250.1" width="0.8" height="1.6" fill="#333"/><text x="485.4" y="331.7" font-size="5.4" font-weight="bold" fill="#5c5c5c" text-anchor="middle">119°30'E</text><rect x="485.0" y="324.5" width="0.8" height="1.5" fill="#333"/><text x="511.0" y="248.9" font-size="5.4" font-weight="bold" fill="#5c5c5c" text-anchor="middle">120°0'E</text><rect x="510.6" y="250.1" width="0.8" height="1.6" fill="#333"/><text x="511.0" y="331.7" font-size="5.4" font-weight="bold" fill="#5c5c5c" text-anchor="middle">120°0'E</text><rect x="510.6" y="324.5" width="0.8" height="1.5" fill="#333"/><text x="536.7" y="248.9" font-size="5.4" font-weight="bold" fill="#5c5c5c" text-anchor="middle">120°30'E</text><rect x="536.3" y="250.1" width="0.8" height="1.6" fill="#333"/><text x="536.7" y="331.7" font-size="5.4" font-weight="bold" fill="#5c5c5c" text-anchor="middle">120°30'E</text><rect x="536.3" y="324.5" width="0.8" height="1.5" fill="#333"/><text x="563.8" y="248.9" font-size="5.4" font-weight="bold" fill="#5c5c5c" text-anchor="middle">121°0'E</text><rect x="561.9" y="250.1" width="0.8" height="1.6" fill="#333"/><text x="563.8" y="331.7" font-size="5.4" font-weight="bold" fill="#5c5c5c" text-anchor="middle">121°0'E</text><rect x="561.9" y="324.5" width="0.8" height="1.5" fill="#333"/><rect x="432.5" y="261.8" width="1.6" height="0.8" fill="#333"/><rect x="562.3" y="261.8" width="1.6" height="0.8" fill="#333"/><text transform="translate(425.9,261.2) rotate(90)" font-size="5.4" font-weight="bold" fill="#5c5c5c" text-anchor="middle">38°30'N</text><text transform="translate(567.5,261.2) rotate(90)" font-size="5.4" font-weight="bold" fill="#5c5c5c" text-anchor="middle">38°30'N</text><rect x="432.5" y="282.6" width="1.6" height="0.8" fill="#333"/><rect x="562.3" y="282.6" width="1.6" height="0.8" fill="#333"/><text transform="translate(425.9,282.0) rotate(90)" font-size="5.4" font-weight="bold" fill="#5c5c5c" text-anchor="middle">38°0'N</text><text transform="translate(567.5,282.0) rotate(90)" font-size="5.4" font-weight="bold" fill="#5c5c5c" text-anchor="middle">38°0'N</text><rect x="432.5" y="303.3" width="1.6" height="0.8" fill="#333"/><rect x="562.3" y="303.3" width="1.6" height="0.8" fill="#333"/><text transform="translate(425.9,302.7) rotate(90)" font-size="5.4" font-weight="bold" fill="#5c5c5c" text-anchor="middle">37°30'N</text><text transform="translate(567.5,302.7) rotate(90)" font-size="5.4" font-weight="bold" fill="#5c5c5c" text-anchor="middle">37°30'N</text><clipPath id="cj"><rect x="134.4" y="345.0" width="127.2" height="73.0"/></clipPath><g clip-path="url(#cj)"><rect x="134.4" y="345.0" width="127.2" height="73.0" fill="#fff"/><rect x="134.4" y="355.5" width="127.2" height="62.5" fill="#2792c7"/><rect x="134.4" y="355.0" width="127.2" height="0.8" fill="#bfe6f5"/><ellipse cx="184.4" cy="396.0" rx="4.8" ry="3.4" fill="#c3d78c"/><ellipse cx="184.4" cy="396.2" rx="2.4" ry="1.6" fill="#f2ee6e"/><ellipse cx="193.0" cy="409.2" rx="3.8" ry="3.8" fill="#c3d78c"/><ellipse cx="193.0" cy="409.4" rx="1.8" ry="1.8" fill="#f2ee6e"/><path d="M134.4 373.8L139.6 371.5L147.1 370.8L153.4 371.5L157.3 375.3L160.8 379.1L165.8 382.9L170.8 386.4L174.8 389.5L173.9 390.7L169.6 389.2L164.6 389.2L159.8 391.1L157.3 394.3L155.8 398.0L156.5 401.8L158.3 405.6L162.1 408.9L168.3 412.2L173.3 414.5L180.8 414.5L188.3 412.7L195.8 413.2L200.7 411.9L204.5 408.4L205.5 404.6L210.7 402.1L218.2 399.3L224.4 395.5L228.2 391.2L234.4 387.9L243.1 385.4L249.4 384.2L255.6 384.8L261.6 385.7L261.6 418.0L134.4 418.0Z" fill="#888888"/><path d="M134.4 393.2C136.1 392.3 141.0 389.2 144.6 388.1C148.2 386.9 152.2 386.4 156.0 386.2C159.8 386.1 164.5 386.7 167.5 387.3C170.4 388.0 172.8 389.8 173.8 390.3" fill="none" stroke="#d4d4d4" stroke-width="0.85"/><path d="M134.4 411.4C135.9 410.8 140.5 408.6 143.3 407.8C146.1 406.9 148.6 406.6 150.9 406.3C153.3 406.1 156.2 406.3 157.3 406.3" fill="none" stroke="#d4d4d4" stroke-width="0.85"/><line x1="143.3" y1="393.2" x2="156.0" y2="388.1" stroke="#3a3a3a" stroke-width="1.2" opacity="0.8"/><line x1="140.8" y1="414.7" x2="158.6" y2="411.1" stroke="#3a3a3a" stroke-width="1.2" opacity="0.8"/><line x1="240.6" y1="381.5" x2="257.1" y2="364.3" stroke="#0c2a4a" stroke-width="1.1"/><line x1="241.9" y1="374.2" x2="252.1" y2="364.7" stroke="#0c2a4a" stroke-width="0.6" opacity="0.6"/><text x="199.9" y="361.2" font-size="5.0" font-weight="bold" fill="#0a2b5c" text-anchor="middle">Bohai Sea</text><rect x="197.7" y="354.8" width="7" height="1.4" fill="#123" opacity="0.45"/><rect x="143.9" y="356.7" width="1.3" height="7.5" fill="#0a2b5c" opacity="0.8"/><rect x="140.7" y="357.2" width="1.0" height="5" fill="#0a2b5c" opacity="0.6"/><rect x="233.9" y="399.9" width="11.4" height="1.5" fill="#111"/><rect x="245.3" y="400.3" width="13.1" height="0.6" fill="#222"/><rect x="234.3" y="403.9" width="1.2" height="1.2" fill="#444" opacity="0.6"/><rect x="245.7" y="403.9" width="1.2" height="1.2" fill="#444" opacity="0.6"/><rect x="256.5" y="403.9" width="1.2" height="1.2" fill="#444" opacity="0.6"/><rect x="149.0" y="346.0" width="8.5" height="3.9" fill="#2e86c0"/><rect x="152.0" y="351.0" width="2.5" height="0.8" fill="#89a" opacity="0.5"/><rect x="158.9" y="346.0" width="8.5" height="3.9" fill="#86b3a0"/><rect x="161.8" y="351.0" width="2.5" height="0.8" fill="#89a" opacity="0.5"/><rect x="168.7" y="346.0" width="8.5" height="3.9" fill="#c3d78c"/><rect x="171.7" y="351.0" width="2.5" height="0.8" fill="#89a" opacity="0.5"/><rect x="178.6" y="346.0" width="8.5" height="3.9" fill="#f4bc50"/><rect x="181.6" y="351.0" width="2.5" height="0.8" fill="#89a" opacity="0.5"/><rect x="188.5" y="346.0" width="8.5" height="3.9" fill="#ec7a2e"/><rect x="191.4" y="351.0" width="2.5" height="0.8" fill="#89a" opacity="0.5"/><rect x="198.3" y="346.0" width="8.5" height="3.9" fill="#d3201f"/><rect x="201.3" y="351.0" width="2.5" height="0.8" fill="#89a" opacity="0.5"/><text x="212.0" y="349.6" font-size="2.8" fill="#444">ind/haul</text><rect x="138.2" y="348.0" width="6" height="1.1" fill="#222" opacity="0.8"/><path d="M255.6 348.4 l1.2 2.6 l-2.4 0z" fill="#333"/><rect x="255.3" y="346.4" width="0.6" height="1.6" fill="#555"/><text x="253.3" y="414.7" font-size="6.2" font-weight="bold" fill="#222" text-anchor="middle">j</text></g><rect x="134.4" y="345.0" width="127.2" height="73.0" fill="none" stroke="#5a5a5a" stroke-width="1.1"/><text x="133.4" y="425.2" font-size="5.4" font-weight="bold" fill="#5c5c5c" text-anchor="middle">118°30'E</text><rect x="134.0" y="418.0" width="0.8" height="1.5" fill="#333"/><text x="159.8" y="342.2" font-size="5.4" font-weight="bold" fill="#5c5c5c" text-anchor="middle">119°0'E</text><rect x="159.4" y="343.4" width="0.8" height="1.6" fill="#333"/><text x="159.8" y="425.2" font-size="5.4" font-weight="bold" fill="#5c5c5c" text-anchor="middle">119°0'E</text><rect x="159.4" y="418.0" width="0.8" height="1.5" fill="#333"/><text x="185.3" y="342.2" font-size="5.4" font-weight="bold" fill="#5c5c5c" text-anchor="middle">119°30'E</text><rect x="184.9" y="343.4" width="0.8" height="1.6" fill="#333"/><text x="185.3" y="425.2" font-size="5.4" font-weight="bold" fill="#5c5c5c" text-anchor="middle">119°30'E</text><rect x="184.9" y="418.0" width="0.8" height="1.5" fill="#333"/><text x="210.7" y="342.2" font-size="5.4" font-weight="bold" fill="#5c5c5c" text-anchor="middle">120°0'E</text><rect x="210.3" y="343.4" width="0.8" height="1.6" fill="#333"/><text x="210.7" y="425.2" font-size="5.4" font-weight="bold" fill="#5c5c5c" text-anchor="middle">120°0'E</text><rect x="210.3" y="418.0" width="0.8" height="1.5" fill="#333"/><text x="236.2" y="342.2" font-size="5.4" font-weight="bold" fill="#5c5c5c" text-anchor="middle">120°30'E</text><rect x="235.8" y="343.4" width="0.8" height="1.6" fill="#333"/><text x="236.2" y="425.2" font-size="5.4" font-weight="bold" fill="#5c5c5c" text-anchor="middle">120°30'E</text><rect x="235.8" y="418.0" width="0.8" height="1.5" fill="#333"/><text x="263.1" y="342.2" font-size="5.4" font-weight="bold" fill="#5c5c5c" text-anchor="middle">121°0'E</text><rect x="261.2" y="343.4" width="0.8" height="1.6" fill="#333"/><text x="263.1" y="425.2" font-size="5.4" font-weight="bold" fill="#5c5c5c" text-anchor="middle">121°0'E</text><rect x="261.2" y="418.0" width="0.8" height="1.5" fill="#333"/><rect x="132.8" y="355.2" width="1.6" height="0.8" fill="#333"/><rect x="261.6" y="355.2" width="1.6" height="0.8" fill="#333"/><text transform="translate(126.2,354.6) rotate(90)" font-size="5.4" font-weight="bold" fill="#5c5c5c" text-anchor="middle">38°30'N</text><text transform="translate(266.8,354.6) rotate(90)" font-size="5.4" font-weight="bold" fill="#5c5c5c" text-anchor="middle">38°30'N</text><rect x="132.8" y="376.0" width="1.6" height="0.8" fill="#333"/><rect x="261.6" y="376.0" width="1.6" height="0.8" fill="#333"/><text transform="translate(126.2,375.4) rotate(90)" font-size="5.4" font-weight="bold" fill="#5c5c5c" text-anchor="middle">38°0'N</text><text transform="translate(266.8,375.4) rotate(90)" font-size="5.4" font-weight="bold" fill="#5c5c5c" text-anchor="middle">38°0'N</text><rect x="132.8" y="396.8" width="1.6" height="0.8" fill="#333"/><rect x="261.6" y="396.8" width="1.6" height="0.8" fill="#333"/><text transform="translate(126.2,396.2) rotate(90)" font-size="5.4" font-weight="bold" fill="#5c5c5c" text-anchor="middle">37°30'N</text><text transform="translate(266.8,396.2) rotate(90)" font-size="5.4" font-weight="bold" fill="#5c5c5c" text-anchor="middle">37°30'N</text><clipPath id="ck"><rect x="283.7" y="345.0" width="128.0" height="72.8"/></clipPath><g clip-path="url(#ck)"><rect x="283.7" y="345.0" width="128.0" height="72.8" fill="#fff"/><rect x="283.7" y="355.6" width="128.0" height="62.2" fill="#2792c7"/><rect x="283.7" y="355.1" width="128.0" height="0.8" fill="#bfe6f5"/><path d="M311.9 377.9C313.4 377.6 320.5 380.2 324.5 380.7C328.5 381.2 332.6 381.4 335.8 380.7C338.9 380.0 341.2 377.8 343.3 376.7C345.4 375.5 347.0 373.7 348.3 373.9C349.6 374.1 351.1 376.2 351.1 377.9C351.1 379.6 347.8 382.3 348.6 384.2C349.4 386.1 354.2 387.1 355.9 389.2C357.5 391.3 358.4 394.7 358.6 396.8C358.9 398.9 358.0 399.9 357.4 401.8C356.7 403.7 356.4 406.3 354.9 408.1C353.4 409.8 351.5 411.2 348.3 412.1C345.2 413.0 339.8 412.9 335.8 413.3C331.8 413.7 327.8 415.0 324.5 414.6C321.1 414.2 318.7 412.3 315.7 410.8C312.7 409.4 308.4 407.7 306.7 405.8C304.9 403.9 305.2 401.4 305.4 399.3C305.7 397.1 306.0 394.7 308.2 393.0C310.3 391.3 316.1 390.3 318.2 389.2C320.3 388.2 321.1 387.8 320.7 386.7C320.3 385.7 317.2 384.4 315.7 383.0C314.2 381.5 310.5 378.3 311.9 377.9Z" fill="#c3d78c"/><path d="M306.7 394.5C307.7 391.9 310.2 391.0 313.2 390.5C316.2 389.9 321.1 390.5 324.5 391.1C327.8 391.7 331.1 393.1 333.3 394.2C335.4 395.4 336.8 396.3 337.3 398.0C337.7 399.7 335.0 403.2 336.0 404.3C337.0 405.3 340.8 404.4 343.3 404.3C345.8 404.2 348.9 403.2 350.8 403.7C352.8 404.1 355.3 405.4 354.9 406.8C354.4 408.2 351.5 411.0 348.3 412.1C345.2 413.2 339.8 412.9 335.8 413.3C331.8 413.7 327.8 415.0 324.5 414.6C321.1 414.2 318.7 412.3 315.7 410.8C312.7 409.4 308.2 408.5 306.7 405.8C305.2 403.1 305.6 397.1 306.7 394.5Z" fill="#f2ee6e"/><path d="M310.4 399.3C312.1 397.3 315.4 395.1 318.2 394.2C321.0 393.4 324.4 393.4 327.0 394.2C329.5 395.1 332.4 397.4 333.5 399.3C334.6 401.2 333.9 403.4 333.5 405.5C333.1 407.7 332.7 410.6 331.0 412.1C329.3 413.6 325.8 414.8 323.2 414.6C320.7 414.4 318.2 412.3 315.7 410.8C313.1 409.4 308.8 407.7 307.9 405.8C307.0 403.9 308.7 401.2 310.4 399.3Z" fill="#f4bc50"/><path d="M306.7 402.4C307.3 401.2 310.2 400.0 311.9 399.9C313.7 399.8 316.1 400.6 317.2 401.8C318.3 402.9 318.9 405.5 318.5 406.8C318.0 408.1 316.4 409.5 314.7 409.6C313.0 409.6 309.5 408.2 308.2 407.1C306.8 405.9 306.0 403.6 306.7 402.4Z" fill="#ec7a2e"/><ellipse cx="326.4" cy="403.0" rx="2.0" ry="1.9" fill="#d3201f"/><ellipse cx="333.3" cy="385.7" rx="4.0" ry="1.4" fill="#2792c7"/><ellipse cx="345.8" cy="396.8" rx="4.0" ry="1.4" fill="#2792c7"/><ellipse cx="309.4" cy="396.1" rx="1.1" ry="1.0" fill="#86b3a0"/><ellipse cx="343.3" cy="403.7" rx="0.9" ry="0.9" fill="#86b3a0"/><ellipse cx="335.2" cy="399.9" rx="0.8" ry="0.8" fill="#86b3a0"/><ellipse cx="348.3" cy="407.4" rx="1.8" ry="1.3" fill="#f2ee6e"/><path d="M283.7 373.8L289.0 371.5L296.5 370.7L302.8 371.5L306.8 375.3L310.3 379.1L315.3 382.8L320.3 386.4L324.4 389.4L323.5 390.6L319.1 389.1L314.1 389.1L309.3 391.0L306.8 394.2L305.3 397.9L305.9 401.7L307.8 405.5L311.6 408.8L317.8 412.1L322.9 414.3L330.4 414.3L337.9 412.6L345.4 413.1L350.5 411.8L354.2 408.3L355.2 404.5L360.5 402.0L368.0 399.2L374.3 395.4L378.1 391.1L384.4 387.9L393.1 385.4L399.4 384.1L405.7 384.7L411.7 385.6L411.7 417.8L283.7 417.8Z" fill="#888888"/><path d="M283.7 393.1C285.4 392.2 290.3 389.2 293.9 388.0C297.6 386.8 301.6 386.3 305.5 386.2C309.3 386.1 314.0 386.6 317.0 387.3C320.0 387.9 322.3 389.7 323.4 390.2" fill="none" stroke="#d4d4d4" stroke-width="0.85"/><path d="M283.7 411.3C285.2 410.7 289.9 408.5 292.7 407.7C295.4 406.8 298.0 406.4 300.3 406.2C302.7 406.0 305.7 406.2 306.7 406.2" fill="none" stroke="#d4d4d4" stroke-width="0.85"/><line x1="292.7" y1="393.1" x2="305.5" y2="388.0" stroke="#3a3a3a" stroke-width="1.2" opacity="0.8"/><line x1="290.1" y1="414.6" x2="308.0" y2="410.9" stroke="#3a3a3a" stroke-width="1.2" opacity="0.8"/><line x1="390.6" y1="381.4" x2="407.2" y2="364.3" stroke="#0c2a4a" stroke-width="1.1"/><line x1="391.9" y1="374.2" x2="402.1" y2="364.7" stroke="#0c2a4a" stroke-width="0.6" opacity="0.6"/><text x="349.6" y="361.2" font-size="5.0" font-weight="bold" fill="#0a2b5c" text-anchor="middle">Bohai Sea</text><rect x="347.4" y="354.8" width="7" height="1.4" fill="#123" opacity="0.45"/><rect x="293.3" y="356.7" width="1.3" height="7.5" fill="#0a2b5c" opacity="0.8"/><rect x="290.1" y="357.2" width="1.0" height="5" fill="#0a2b5c" opacity="0.6"/><rect x="383.8" y="399.8" width="11.5" height="1.5" fill="#111"/><rect x="395.3" y="400.2" width="13.2" height="0.6" fill="#222"/><rect x="384.2" y="403.8" width="1.2" height="1.2" fill="#444" opacity="0.6"/><rect x="395.7" y="403.8" width="1.2" height="1.2" fill="#444" opacity="0.6"/><rect x="406.6" y="403.8" width="1.2" height="1.2" fill="#444" opacity="0.6"/><rect x="297.8" y="346.0" width="8.6" height="3.9" fill="#2e86c0"/><rect x="300.8" y="351.0" width="2.5" height="0.8" fill="#89a" opacity="0.5"/><rect x="307.7" y="346.0" width="8.6" height="3.9" fill="#86b3a0"/><rect x="310.7" y="351.0" width="2.5" height="0.8" fill="#89a" opacity="0.5"/><rect x="317.7" y="346.0" width="8.6" height="3.9" fill="#c3d78c"/><rect x="320.7" y="351.0" width="2.5" height="0.8" fill="#89a" opacity="0.5"/><rect x="327.7" y="346.0" width="8.6" height="3.9" fill="#f2ee6e"/><rect x="330.7" y="351.0" width="2.5" height="0.8" fill="#89a" opacity="0.5"/><rect x="337.6" y="346.0" width="8.6" height="3.9" fill="#f4bc50"/><rect x="340.6" y="351.0" width="2.5" height="0.8" fill="#89a" opacity="0.5"/><rect x="347.6" y="346.0" width="8.6" height="3.9" fill="#ec7a2e"/><rect x="350.6" y="351.0" width="2.5" height="0.8" fill="#89a" opacity="0.5"/><rect x="357.6" y="346.0" width="8.6" height="3.9" fill="#d3201f"/><rect x="360.6" y="351.0" width="2.5" height="0.8" fill="#89a" opacity="0.5"/><text x="371.4" y="349.6" font-size="2.8" fill="#444">ind/haul</text><rect x="287.5" y="348.0" width="6" height="1.1" fill="#222" opacity="0.8"/><path d="M405.7 348.4 l1.2 2.6 l-2.4 0z" fill="#333"/><rect x="405.4" y="346.4" width="0.6" height="1.6" fill="#555"/><text x="403.4" y="414.6" font-size="6.2" font-weight="bold" fill="#222" text-anchor="middle">k</text></g><rect x="283.7" y="345.0" width="128.0" height="72.8" fill="none" stroke="#5a5a5a" stroke-width="1.1"/><text x="282.7" y="425.0" font-size="5.4" font-weight="bold" fill="#5c5c5c" text-anchor="middle">118°30'E</text><rect x="283.3" y="417.8" width="0.8" height="1.5" fill="#333"/><text x="309.3" y="342.2" font-size="5.4" font-weight="bold" fill="#5c5c5c" text-anchor="middle">119°0'E</text><rect x="308.9" y="343.4" width="0.8" height="1.6" fill="#333"/><text x="309.3" y="425.0" font-size="5.4" font-weight="bold" fill="#5c5c5c" text-anchor="middle">119°0'E</text><rect x="308.9" y="417.8" width="0.8" height="1.5" fill="#333"/><text x="334.9" y="342.2" font-size="5.4" font-weight="bold" fill="#5c5c5c" text-anchor="middle">119°30'E</text><rect x="334.5" y="343.4" width="0.8" height="1.6" fill="#333"/><text x="334.9" y="425.0" font-size="5.4" font-weight="bold" fill="#5c5c5c" text-anchor="middle">119°30'E</text><rect x="334.5" y="417.8" width="0.8" height="1.5" fill="#333"/><text x="360.5" y="342.2" font-size="5.4" font-weight="bold" fill="#5c5c5c" text-anchor="middle">120°0'E</text><rect x="360.1" y="343.4" width="0.8" height="1.6" fill="#333"/><text x="360.5" y="425.0" font-size="5.4" font-weight="bold" fill="#5c5c5c" text-anchor="middle">120°0'E</text><rect x="360.1" y="417.8" width="0.8" height="1.5" fill="#333"/><text x="386.1" y="342.2" font-size="5.4" font-weight="bold" fill="#5c5c5c" text-anchor="middle">120°30'E</text><rect x="385.7" y="343.4" width="0.8" height="1.6" fill="#333"/><text x="386.1" y="425.0" font-size="5.4" font-weight="bold" fill="#5c5c5c" text-anchor="middle">120°30'E</text><rect x="385.7" y="417.8" width="0.8" height="1.5" fill="#333"/><text x="413.2" y="342.2" font-size="5.4" font-weight="bold" fill="#5c5c5c" text-anchor="middle">121°0'E</text><rect x="411.3" y="343.4" width="0.8" height="1.6" fill="#333"/><text x="413.2" y="425.0" font-size="5.4" font-weight="bold" fill="#5c5c5c" text-anchor="middle">121°0'E</text><rect x="411.3" y="417.8" width="0.8" height="1.5" fill="#333"/><rect x="282.1" y="355.2" width="1.6" height="0.8" fill="#333"/><rect x="411.7" y="355.2" width="1.6" height="0.8" fill="#333"/><text transform="translate(275.5,354.6) rotate(90)" font-size="5.4" font-weight="bold" fill="#5c5c5c" text-anchor="middle">38°30'N</text><text transform="translate(416.9,354.6) rotate(90)" font-size="5.4" font-weight="bold" fill="#5c5c5c" text-anchor="middle">38°30'N</text><rect x="282.1" y="375.9" width="1.6" height="0.8" fill="#333"/><rect x="411.7" y="375.9" width="1.6" height="0.8" fill="#333"/><text transform="translate(275.5,375.3) rotate(90)" font-size="5.4" font-weight="bold" fill="#5c5c5c" text-anchor="middle">38°0'N</text><text transform="translate(416.9,375.3) rotate(90)" font-size="5.4" font-weight="bold" fill="#5c5c5c" text-anchor="middle">38°0'N</text><rect x="282.1" y="396.7" width="1.6" height="0.8" fill="#333"/><rect x="411.7" y="396.7" width="1.6" height="0.8" fill="#333"/><text transform="translate(275.5,396.1) rotate(90)" font-size="5.4" font-weight="bold" fill="#5c5c5c" text-anchor="middle">37°30'N</text><text transform="translate(416.9,396.1) rotate(90)" font-size="5.4" font-weight="bold" fill="#5c5c5c" text-anchor="middle">37°30'N</text><clipPath id="cl"><rect x="435.3" y="344.3" width="128.3" height="73.2"/></clipPath><g clip-path="url(#cl)"><rect x="435.3" y="344.3" width="128.3" height="73.2" fill="#fff"/><rect x="435.3" y="354.9" width="128.3" height="62.6" fill="#2792c7"/><rect x="435.3" y="354.4" width="128.3" height="0.8" fill="#bfe6f5"/><path d="M518.4 371.7C521.3 371.0 531.8 370.8 534.7 371.7C537.7 372.5 536.4 374.6 536.2 376.7C536.0 378.8 534.9 382.1 533.5 384.2C532.0 386.3 529.1 387.7 527.5 389.2C525.8 390.7 527.3 391.3 523.7 393.2C520.1 395.2 510.5 399.7 505.9 400.8C501.2 401.8 498.0 400.3 495.8 399.5C493.6 398.8 492.6 397.3 492.6 396.3C492.6 395.2 493.6 394.0 495.8 393.0C498.0 392.0 502.5 391.3 505.9 390.5C509.2 389.6 513.8 389.4 515.9 388.0C518.0 386.5 518.2 383.8 518.4 381.7C518.6 379.6 517.2 377.1 517.2 375.4C517.2 373.7 515.5 372.3 518.4 371.7Z" fill="#86b3a0"/><path d="M506.9 394.5C508.8 393.2 515.2 391.2 518.4 390.5C521.6 389.8 524.4 390.1 525.9 390.5C527.5 390.9 528.2 391.8 527.5 393.0C526.7 394.2 523.9 396.3 521.2 397.5C518.4 398.7 513.3 400.0 510.9 400.1C508.5 400.3 507.3 399.2 506.6 398.3C505.9 397.3 504.9 395.8 506.9 394.5Z" fill="#f2ee6e"/><ellipse cx="512.1" cy="396.4" rx="1.3" ry="0.9" fill="#f4bc50"/><ellipse cx="499.6" cy="376.0" rx="3.3" ry="2.8" fill="#86b3a0"/><ellipse cx="465.1" cy="403.0" rx="2.8" ry="2.5" fill="#c3d78c"/><ellipse cx="473.2" cy="407.4" rx="2.5" ry="2.5" fill="#c3d78c"/><ellipse cx="500.2" cy="407.4" rx="2.5" ry="2.5" fill="#c3d78c"/><ellipse cx="486.4" cy="407.4" rx="2.0" ry="1.8" fill="#86b3a0"/><ellipse cx="494.6" cy="396.4" rx="2.3" ry="2.3" fill="#c3d78c"/><path d="M435.3 373.2L440.6 370.9L448.1 370.1L454.4 370.9L458.5 374.7L462.0 378.5L467.0 382.3L472.0 385.8L476.1 388.9L475.2 390.1L470.8 388.6L465.8 388.6L461.0 390.5L458.5 393.7L457.0 397.5L457.6 401.3L459.5 405.1L463.2 408.4L469.5 411.6L474.6 413.9L482.1 413.9L489.7 412.2L497.2 412.7L502.2 411.4L506.0 407.8L507.0 404.0L512.3 401.5L519.8 398.7L526.1 394.9L529.9 390.6L536.2 387.3L545.0 384.8L551.3 383.5L557.6 384.2L563.6 385.1L563.6 417.5L435.3 417.5Z" fill="#888888"/><path d="M435.3 392.6C437.0 391.7 441.9 388.6 445.6 387.5C449.2 386.3 453.3 385.8 457.1 385.6C461.0 385.5 465.7 386.1 468.7 386.7C471.7 387.4 474.0 389.2 475.1 389.7" fill="none" stroke="#d4d4d4" stroke-width="0.85"/><path d="M435.3 410.9C436.8 410.3 441.5 408.1 444.3 407.2C447.1 406.4 449.6 406.0 452.0 405.8C454.3 405.5 457.3 405.8 458.4 405.8" fill="none" stroke="#d4d4d4" stroke-width="0.85"/><line x1="444.3" y1="392.6" x2="457.1" y2="387.5" stroke="#3a3a3a" stroke-width="1.2" opacity="0.8"/><line x1="441.7" y1="414.2" x2="459.7" y2="410.5" stroke="#3a3a3a" stroke-width="1.2" opacity="0.8"/><line x1="542.4" y1="380.9" x2="559.1" y2="363.7" stroke="#0c2a4a" stroke-width="1.1"/><line x1="543.7" y1="373.6" x2="554.0" y2="364.1" stroke="#0c2a4a" stroke-width="0.6" opacity="0.6"/><text x="501.4" y="360.5" font-size="5.0" font-weight="bold" fill="#0a2b5c" text-anchor="middle">Bohai Sea</text><rect x="499.2" y="354.1" width="7" height="1.4" fill="#123" opacity="0.45"/><rect x="444.9" y="356.0" width="1.3" height="7.5" fill="#0a2b5c" opacity="0.8"/><rect x="441.7" y="356.5" width="1.0" height="5" fill="#0a2b5c" opacity="0.6"/><rect x="535.6" y="399.3" width="11.5" height="1.5" fill="#111"/><rect x="547.2" y="399.8" width="13.2" height="0.6" fill="#222"/><rect x="536.0" y="403.3" width="1.2" height="1.2" fill="#444" opacity="0.6"/><rect x="547.6" y="403.3" width="1.2" height="1.2" fill="#444" opacity="0.6"/><rect x="558.5" y="403.3" width="1.2" height="1.2" fill="#444" opacity="0.6"/><rect x="450.1" y="345.3" width="8.3" height="3.9" fill="#2e86c0"/><rect x="453.0" y="350.3" width="2.5" height="0.8" fill="#89a" opacity="0.5"/><rect x="459.7" y="345.3" width="8.3" height="3.9" fill="#86b3a0"/><rect x="462.6" y="350.3" width="2.5" height="0.8" fill="#89a" opacity="0.5"/><rect x="469.3" y="345.3" width="8.3" height="3.9" fill="#c3d78c"/><rect x="472.2" y="350.3" width="2.5" height="0.8" fill="#89a" opacity="0.5"/><rect x="478.9" y="345.3" width="8.3" height="3.9" fill="#f2ee6e"/><rect x="481.8" y="350.3" width="2.5" height="0.8" fill="#89a" opacity="0.5"/><rect x="488.6" y="345.3" width="8.3" height="3.9" fill="#f4bc50"/><rect x="491.4" y="350.3" width="2.5" height="0.8" fill="#89a" opacity="0.5"/><rect x="498.2" y="345.3" width="8.3" height="3.9" fill="#ec7a2e"/><rect x="501.1" y="350.3" width="2.5" height="0.8" fill="#89a" opacity="0.5"/><rect x="507.8" y="345.3" width="8.3" height="3.9" fill="#d3201f"/><rect x="510.7" y="350.3" width="2.5" height="0.8" fill="#89a" opacity="0.5"/><text x="521.3" y="348.9" font-size="2.8" fill="#444">ind/haul</text><rect x="439.2" y="347.3" width="6" height="1.1" fill="#222" opacity="0.8"/><path d="M557.6 347.7 l1.2 2.6 l-2.4 0z" fill="#333"/><rect x="557.3" y="345.7" width="0.6" height="1.6" fill="#555"/><text x="555.3" y="414.2" font-size="6.2" font-weight="bold" fill="#222" text-anchor="middle">l</text></g><rect x="435.3" y="344.3" width="128.3" height="73.2" fill="none" stroke="#5a5a5a" stroke-width="1.1"/><text x="434.3" y="424.7" font-size="5.4" font-weight="bold" fill="#5c5c5c" text-anchor="middle">118°30'E</text><rect x="434.9" y="417.5" width="0.8" height="1.5" fill="#333"/><text x="461.0" y="341.5" font-size="5.4" font-weight="bold" fill="#5c5c5c" text-anchor="middle">119°0'E</text><rect x="460.6" y="342.7" width="0.8" height="1.6" fill="#333"/><text x="461.0" y="424.7" font-size="5.4" font-weight="bold" fill="#5c5c5c" text-anchor="middle">119°0'E</text><rect x="460.6" y="417.5" width="0.8" height="1.5" fill="#333"/><text x="486.6" y="341.5" font-size="5.4" font-weight="bold" fill="#5c5c5c" text-anchor="middle">119°30'E</text><rect x="486.2" y="342.7" width="0.8" height="1.6" fill="#333"/><text x="486.6" y="424.7" font-size="5.4" font-weight="bold" fill="#5c5c5c" text-anchor="middle">119°30'E</text><rect x="486.2" y="417.5" width="0.8" height="1.5" fill="#333"/><text x="512.3" y="341.5" font-size="5.4" font-weight="bold" fill="#5c5c5c" text-anchor="middle">120°0'E</text><rect x="511.9" y="342.7" width="0.8" height="1.6" fill="#333"/><text x="512.3" y="424.7" font-size="5.4" font-weight="bold" fill="#5c5c5c" text-anchor="middle">120°0'E</text><rect x="511.9" y="417.5" width="0.8" height="1.5" fill="#333"/><text x="537.9" y="341.5" font-size="5.4" font-weight="bold" fill="#5c5c5c" text-anchor="middle">120°30'E</text><rect x="537.5" y="342.7" width="0.8" height="1.6" fill="#333"/><text x="537.9" y="424.7" font-size="5.4" font-weight="bold" fill="#5c5c5c" text-anchor="middle">120°30'E</text><rect x="537.5" y="417.5" width="0.8" height="1.5" fill="#333"/><text x="565.1" y="341.5" font-size="5.4" font-weight="bold" fill="#5c5c5c" text-anchor="middle">121°0'E</text><rect x="563.2" y="342.7" width="0.8" height="1.6" fill="#333"/><text x="565.1" y="424.7" font-size="5.4" font-weight="bold" fill="#5c5c5c" text-anchor="middle">121°0'E</text><rect x="563.2" y="417.5" width="0.8" height="1.5" fill="#333"/><rect x="433.7" y="354.5" width="1.6" height="0.8" fill="#333"/><rect x="563.6" y="354.5" width="1.6" height="0.8" fill="#333"/><text transform="translate(427.1,353.9) rotate(90)" font-size="5.4" font-weight="bold" fill="#5c5c5c" text-anchor="middle">38°30'N</text><text transform="translate(568.8,353.9) rotate(90)" font-size="5.4" font-weight="bold" fill="#5c5c5c" text-anchor="middle">38°30'N</text><rect x="433.7" y="375.4" width="1.6" height="0.8" fill="#333"/><rect x="563.6" y="375.4" width="1.6" height="0.8" fill="#333"/><text transform="translate(427.1,374.8) rotate(90)" font-size="5.4" font-weight="bold" fill="#5c5c5c" text-anchor="middle">38°0'N</text><text transform="translate(568.8,374.8) rotate(90)" font-size="5.4" font-weight="bold" fill="#5c5c5c" text-anchor="middle">38°0'N</text><rect x="433.7" y="396.2" width="1.6" height="0.8" fill="#333"/><rect x="563.6" y="396.2" width="1.6" height="0.8" fill="#333"/><text transform="translate(427.1,395.6) rotate(90)" font-size="5.4" font-weight="bold" fill="#5c5c5c" text-anchor="middle">37°30'N</text><text transform="translate(568.8,395.6) rotate(90)" font-size="5.4" font-weight="bold" fill="#5c5c5c" text-anchor="middle">37°30'N</text></g>
<g filter="url(#b1)"><g fill="#a3a3a3" stroke="#4a4a4a" stroke-width="0.55"><rect x="134.22" y="508.40" width="1.53" height="12.66"/><rect x="136.05" y="502.77" width="1.53" height="5.63"/><rect x="137.88" y="507.70" width="1.53" height="0.70"/><rect x="139.72" y="495.74" width="1.53" height="12.66"/><rect x="141.55" y="504.18" width="1.53" height="4.22"/><rect x="143.38" y="508.40" width="1.53" height="7.04"/><rect x="145.22" y="504.18" width="1.53" height="4.22"/><rect x="147.05" y="498.55" width="1.53" height="9.85"/><rect x="148.88" y="491.52" width="1.53" height="16.88"/><rect x="150.72" y="480.26" width="1.53" height="28.14"/><rect x="152.55" y="487.29" width="1.53" height="21.11"/><rect x="154.38" y="490.11" width="1.53" height="18.29"/><rect x="156.22" y="477.45" width="1.53" height="30.95"/><rect x="158.05" y="469.00" width="1.53" height="39.40"/><rect x="159.88" y="488.70" width="1.53" height="19.70"/><rect x="161.72" y="499.96" width="1.53" height="8.44"/><rect x="163.55" y="495.74" width="1.53" height="12.66"/><rect x="165.38" y="488.70" width="1.53" height="19.70"/><rect x="167.22" y="480.26" width="1.53" height="28.14"/><rect x="177.15" y="505.59" width="1.57" height="2.81"/><rect x="179.02" y="504.18" width="1.57" height="4.22"/><rect x="180.88" y="503.48" width="1.57" height="4.92"/><rect x="182.75" y="498.55" width="1.57" height="9.85"/><rect x="184.62" y="488.70" width="1.57" height="19.70"/><rect x="186.48" y="484.48" width="1.57" height="23.92"/><rect x="188.35" y="483.78" width="1.57" height="24.62"/><rect x="190.22" y="492.92" width="1.57" height="15.48"/><rect x="192.08" y="491.52" width="1.57" height="16.88"/><rect x="193.95" y="488.70" width="1.57" height="19.70"/><rect x="195.82" y="487.29" width="1.57" height="21.11"/><rect x="197.68" y="501.36" width="1.57" height="7.04"/><rect x="199.55" y="507.70" width="1.57" height="0.70"/><rect x="201.42" y="504.18" width="1.57" height="4.22"/><rect x="203.28" y="497.14" width="1.57" height="11.26"/><rect x="205.15" y="487.29" width="1.57" height="21.11"/><rect x="207.02" y="480.26" width="1.57" height="28.14"/><rect x="208.88" y="476.04" width="1.57" height="32.36"/><rect x="210.75" y="484.48" width="1.57" height="23.92"/><rect x="212.62" y="478.85" width="1.57" height="29.55"/><rect x="214.48" y="484.48" width="1.57" height="23.92"/><rect x="216.35" y="487.29" width="1.57" height="21.11"/><rect x="218.22" y="490.11" width="1.57" height="18.29"/><rect x="220.08" y="492.92" width="1.57" height="15.48"/><rect x="232.38" y="483.07" width="1.53" height="25.33"/><rect x="234.22" y="485.89" width="1.53" height="22.51"/><rect x="236.05" y="504.18" width="1.53" height="4.22"/><rect x="237.88" y="508.40" width="1.53" height="8.44"/><rect x="239.72" y="508.40" width="1.53" height="14.07"/><rect x="241.55" y="508.40" width="1.53" height="22.51"/><rect x="243.38" y="508.40" width="1.53" height="18.29"/><rect x="245.22" y="508.40" width="1.53" height="23.92"/><rect x="247.05" y="508.40" width="1.53" height="29.55"/><rect x="248.88" y="508.40" width="1.53" height="12.66"/><rect x="250.72" y="508.40" width="1.53" height="11.26"/><rect x="252.55" y="508.40" width="1.53" height="7.04"/><rect x="254.38" y="508.40" width="1.53" height="9.85"/><rect x="256.22" y="508.40" width="1.53" height="12.66"/><rect x="258.05" y="508.40" width="1.53" height="23.92"/><rect x="259.88" y="508.40" width="1.53" height="30.95"/><rect x="261.72" y="508.40" width="1.53" height="30.95"/><rect x="263.55" y="508.40" width="1.53" height="26.73"/><rect x="265.38" y="508.40" width="1.53" height="28.14"/><rect x="267.22" y="508.40" width="1.53" height="30.95"/><rect x="269.05" y="508.40" width="1.53" height="33.77"/><rect x="270.88" y="508.40" width="1.53" height="29.55"/><rect x="272.72" y="508.40" width="1.53" height="23.92"/><rect x="282.95" y="495.74" width="1.67" height="12.66"/><rect x="284.93" y="499.96" width="1.67" height="8.44"/><rect x="286.90" y="508.40" width="1.67" height="7.04"/><rect x="288.88" y="508.40" width="1.67" height="7.04"/><rect x="290.85" y="508.40" width="1.67" height="4.22"/><rect x="292.82" y="504.18" width="1.67" height="4.22"/><rect x="294.80" y="508.40" width="1.67" height="14.07"/><rect x="296.77" y="508.40" width="1.67" height="14.07"/><rect x="298.75" y="508.40" width="1.67" height="22.51"/><rect x="300.72" y="508.40" width="1.67" height="4.22"/><rect x="302.70" y="508.40" width="1.67" height="8.44"/><rect x="304.68" y="508.40" width="1.67" height="5.63"/><rect x="306.65" y="508.40" width="1.67" height="5.63"/><rect x="308.62" y="508.40" width="1.67" height="5.63"/><rect x="310.60" y="508.40" width="1.67" height="12.66"/><rect x="312.57" y="508.40" width="1.67" height="2.81"/><rect x="314.55" y="508.40" width="1.67" height="4.22"/><rect x="316.52" y="508.40" width="1.67" height="4.22"/><rect x="318.50" y="502.77" width="1.67" height="5.63"/><rect x="320.47" y="507.70" width="1.67" height="0.70"/><rect x="322.45" y="508.40" width="1.67" height="2.81"/><rect x="324.42" y="508.40" width="1.67" height="29.55"/><rect x="326.40" y="508.40" width="1.67" height="15.48"/><rect x="328.38" y="508.40" width="1.67" height="18.29"/><rect x="330.35" y="508.40" width="1.67" height="11.26"/><rect x="332.32" y="508.40" width="1.67" height="18.29"/><rect x="334.30" y="508.40" width="1.67" height="22.51"/><rect x="336.27" y="508.40" width="1.67" height="26.73"/><rect x="338.25" y="508.40" width="1.67" height="26.73"/><rect x="340.22" y="508.40" width="1.67" height="28.14"/><rect x="342.20" y="508.40" width="1.67" height="29.55"/><rect x="344.17" y="508.40" width="1.67" height="28.14"/><rect x="346.15" y="508.40" width="1.67" height="26.73"/><rect x="348.12" y="508.40" width="1.67" height="28.14"/><rect x="350.10" y="508.40" width="1.67" height="25.33"/><rect x="352.07" y="508.40" width="1.67" height="21.11"/><rect x="362.75" y="508.40" width="1.82" height="22.51"/><rect x="364.87" y="508.40" width="1.82" height="18.29"/><rect x="366.99" y="508.40" width="1.82" height="16.88"/><rect x="369.11" y="508.40" width="1.82" height="14.07"/><rect x="371.22" y="508.40" width="1.82" height="15.48"/><rect x="373.34" y="508.40" width="1.82" height="18.29"/><rect x="375.46" y="508.40" width="1.82" height="32.36"/><rect x="377.58" y="508.40" width="1.82" height="33.77"/><rect x="379.70" y="508.40" width="1.82" height="35.17"/><rect x="381.81" y="508.40" width="1.82" height="28.14"/><rect x="383.93" y="508.40" width="1.82" height="39.40"/><rect x="386.05" y="508.40" width="1.82" height="23.92"/><rect x="388.17" y="508.40" width="1.82" height="29.55"/><rect x="390.29" y="508.40" width="1.82" height="22.51"/><rect x="392.41" y="508.40" width="1.82" height="18.29"/><rect x="394.52" y="508.40" width="1.82" height="21.11"/><rect x="396.64" y="508.40" width="1.82" height="14.07"/><rect x="398.76" y="508.40" width="1.82" height="26.73"/><rect x="400.88" y="508.40" width="1.82" height="30.95"/><rect x="403.00" y="508.40" width="1.82" height="42.21"/><rect x="405.12" y="508.40" width="1.82" height="14.07"/><rect x="407.24" y="508.40" width="1.82" height="7.04"/><rect x="409.35" y="508.40" width="1.82" height="11.26"/><rect x="411.47" y="508.40" width="1.82" height="15.48"/><rect x="413.59" y="508.40" width="1.82" height="11.26"/><rect x="415.71" y="508.40" width="1.82" height="15.48"/><rect x="417.83" y="508.40" width="1.82" height="7.04"/><rect x="419.94" y="508.40" width="1.82" height="16.88"/><rect x="422.06" y="508.40" width="1.82" height="14.07"/><rect x="424.18" y="508.40" width="1.82" height="5.63"/><rect x="426.30" y="508.40" width="1.82" height="16.88"/><rect x="428.42" y="508.40" width="1.82" height="23.92"/><rect x="430.54" y="508.40" width="1.82" height="23.92"/><rect x="432.66" y="508.40" width="1.82" height="25.33"/><rect x="434.77" y="508.40" width="1.82" height="14.07"/><rect x="436.89" y="508.40" width="1.82" height="11.26"/><rect x="439.01" y="508.40" width="1.82" height="4.22"/><rect x="441.13" y="502.77" width="1.82" height="5.63"/><rect x="443.25" y="499.96" width="1.82" height="8.44"/><rect x="445.37" y="507.70" width="1.82" height="0.70"/><rect x="447.48" y="490.11" width="1.82" height="18.29"/><rect x="449.60" y="507.70" width="1.82" height="0.70"/><rect x="451.72" y="503.48" width="1.82" height="4.92"/><rect x="453.84" y="505.59" width="1.82" height="2.81"/><rect x="455.96" y="497.14" width="1.82" height="11.26"/><rect x="458.08" y="487.29" width="1.82" height="21.11"/><rect x="460.19" y="485.89" width="1.82" height="22.51"/><rect x="462.31" y="477.45" width="1.82" height="30.95"/><rect x="464.43" y="480.26" width="1.82" height="28.14"/><rect x="466.55" y="481.67" width="1.82" height="26.73"/><rect x="468.67" y="480.96" width="1.82" height="27.44"/><rect x="470.79" y="485.89" width="1.82" height="22.51"/><rect x="472.90" y="494.33" width="1.82" height="14.07"/><rect x="475.02" y="490.81" width="1.82" height="17.59"/><rect x="477.14" y="487.29" width="1.82" height="21.11"/><rect x="479.26" y="495.74" width="1.82" height="12.66"/><rect x="481.38" y="494.33" width="1.82" height="14.07"/><rect x="483.50" y="494.33" width="1.82" height="14.07"/><rect x="485.61" y="502.77" width="1.82" height="5.63"/><rect x="487.73" y="497.14" width="1.82" height="11.26"/><rect x="489.85" y="492.92" width="1.82" height="15.48"/><rect x="491.97" y="487.29" width="1.82" height="21.11"/><rect x="494.09" y="483.07" width="1.82" height="25.33"/><rect x="496.21" y="481.67" width="1.82" height="26.73"/><rect x="498.32" y="484.48" width="1.82" height="23.92"/><rect x="500.44" y="502.77" width="1.82" height="5.63"/><rect x="502.56" y="508.40" width="1.82" height="7.04"/><rect x="504.68" y="508.40" width="1.82" height="12.66"/><rect x="506.80" y="508.40" width="1.82" height="11.26"/><rect x="508.92" y="508.40" width="1.82" height="7.04"/><rect x="511.03" y="492.92" width="1.82" height="15.48"/><rect x="513.15" y="495.74" width="1.82" height="12.66"/><rect x="515.27" y="502.77" width="1.82" height="5.63"/><rect x="517.39" y="504.18" width="1.82" height="4.22"/><rect x="519.51" y="503.48" width="1.82" height="4.92"/><rect x="521.62" y="497.14" width="1.82" height="11.26"/><rect x="523.74" y="501.36" width="1.82" height="7.04"/><rect x="525.86" y="502.77" width="1.82" height="5.63"/><rect x="527.98" y="508.40" width="1.82" height="4.22"/><rect x="530.10" y="508.40" width="1.82" height="7.04"/><rect x="532.22" y="508.40" width="1.82" height="5.63"/><rect x="534.34" y="508.40" width="1.82" height="0.70"/><rect x="536.45" y="508.40" width="1.82" height="7.04"/><rect x="538.57" y="508.40" width="1.82" height="4.22"/><rect x="540.69" y="500.66" width="1.82" height="7.74"/><rect x="542.81" y="507.70" width="1.82" height="0.70"/><rect x="544.93" y="508.40" width="1.82" height="4.22"/><rect x="547.04" y="508.40" width="1.82" height="8.44"/><rect x="549.16" y="508.40" width="1.82" height="9.85"/><rect x="551.28" y="508.40" width="1.82" height="7.04"/><rect x="553.40" y="508.40" width="1.82" height="8.44"/><rect x="555.52" y="508.40" width="1.82" height="4.22"/><rect x="557.64" y="506.99" width="1.82" height="1.41"/><rect x="559.75" y="508.40" width="1.82" height="4.22"/><rect x="561.87" y="508.40" width="1.82" height="8.44"/><rect x="563.99" y="508.40" width="1.82" height="4.22"/></g><rect x="125.4" y="508.4" width="8.4" height="14.8" fill="#fff" stroke="#3a3a3a" stroke-width="0.9"/><line x1="124.9" y1="508.4" x2="169.9" y2="508.4" stroke="#2a2a2a" stroke-width="1.2"/><line x1="177.0" y1="508.4" x2="223.6" y2="508.4" stroke="#2a2a2a" stroke-width="1.2"/><line x1="230.4" y1="508.4" x2="276.6" y2="508.4" stroke="#2a2a2a" stroke-width="1.2"/><line x1="282.8" y1="508.4" x2="354.4" y2="508.4" stroke="#2a2a2a" stroke-width="1.2"/><line x1="362.6" y1="508.4" x2="566.0" y2="508.4" stroke="#2a2a2a" stroke-width="1.2"/><path d="M124.9 514.0C125.8 513.7 129.1 513.5 130.4 511.9C131.7 510.2 131.8 508.4 132.6 504.2C133.3 500.0 134.0 490.5 134.8 486.8C135.5 483.0 136.0 482.8 136.9 482.0C137.8 481.1 139.1 482.7 140.2 481.5C141.3 480.3 142.0 476.6 143.5 474.8C144.9 472.9 147.1 471.4 148.9 470.4C150.8 469.4 153.1 467.8 154.4 468.9C155.7 469.9 155.9 471.4 156.6 476.9C157.3 482.5 158.0 496.2 158.8 502.0C159.5 507.9 159.9 509.8 160.9 511.9C162.0 514.0 163.9 514.2 165.3 514.7C166.8 515.2 169.0 515.1 169.7 515.1" fill="none" stroke="#1c1c1c" stroke-width="1.15" stroke-linejoin="round"/><path d="M177.8 486.3C178.6 485.7 181.4 482.2 182.8 482.4C184.2 482.5 185.0 484.3 186.1 487.2C187.1 490.1 188.4 496.8 189.3 499.9C190.2 502.9 190.6 505.5 191.5 505.3C192.4 505.1 193.5 500.0 194.8 498.8C196.1 497.5 197.7 498.2 199.2 497.7C200.6 497.1 202.1 497.0 203.5 495.5C205.0 494.0 206.8 489.4 207.9 488.5C209.0 487.6 209.2 488.2 210.1 490.0C211.0 491.9 212.3 498.5 213.3 499.4C214.4 500.3 215.5 495.2 216.6 495.5C217.7 495.7 219.0 499.1 219.9 500.9C220.8 502.8 221.7 505.5 222.1 506.4" fill="none" stroke="#1c1c1c" stroke-width="1.15" stroke-linejoin="round"/><path d="M230.8 476.3C231.7 475.9 235.0 473.6 236.3 474.1C237.5 474.6 237.8 474.5 238.4 479.1C239.1 483.8 239.6 494.6 240.2 502.0C240.7 509.5 241.1 519.1 241.7 523.9C242.3 528.7 243.0 530.5 243.9 530.9C244.8 531.2 245.2 526.9 247.2 526.1C249.2 525.3 253.4 525.9 255.9 526.1C258.5 526.2 260.8 527.4 262.5 527.1C264.1 526.9 264.3 524.3 265.7 524.3C267.2 524.3 269.6 526.5 271.2 527.1C272.8 527.8 274.8 528.1 275.6 528.2" fill="none" stroke="#1c1c1c" stroke-width="1.15" stroke-linejoin="round"/><path d="M283.9 516.2C284.5 516.6 286.0 520.1 287.6 518.4C289.1 516.8 291.4 509.3 293.0 506.4C294.7 503.5 295.8 502.5 297.4 500.9C299.0 499.4 301.0 496.8 302.8 497.0C304.7 497.2 306.8 499.6 308.3 502.0C309.8 504.5 310.1 509.1 311.6 511.9C313.0 514.6 315.0 516.3 317.0 518.4C319.0 520.5 321.4 523.0 323.6 524.3C325.8 525.6 328.1 525.4 330.1 526.1C332.1 526.7 333.8 529.0 335.6 528.2C337.4 527.5 339.0 522.4 341.0 521.7C343.1 521.0 346.1 523.4 347.6 523.9C349.1 524.3 349.0 524.5 350.0 524.4C351.0 524.4 353.1 523.5 353.8 523.3" fill="none" stroke="#1c1c1c" stroke-width="1.15" stroke-linejoin="round"/><path d="M362.2 532.7C363.1 532.8 365.9 535.1 367.8 533.3C369.6 531.6 371.5 523.5 373.3 522.2C375.2 520.9 377.2 524.8 378.9 525.6C380.6 526.3 381.5 527.6 383.3 526.7C385.2 525.7 388.0 522.4 390.0 520.0C392.0 517.6 393.7 514.4 395.6 512.2C397.4 510.0 399.4 506.9 401.1 506.7C402.8 506.5 403.9 510.7 405.6 511.1C407.2 511.5 409.3 508.9 411.1 508.9C413.0 508.9 415.0 509.4 416.7 511.1C418.3 512.8 419.8 516.9 421.1 518.9C422.4 520.9 423.1 523.9 424.4 523.3C425.7 522.8 427.4 517.6 428.9 515.6C430.4 513.5 431.7 511.5 433.3 511.1C435.0 510.7 437.0 513.5 438.9 513.3C440.7 513.1 442.6 510.9 444.4 510.0C446.3 509.1 448.7 508.5 450.0 507.8C451.3 507.0 451.3 505.4 452.2 505.6C453.1 505.7 454.1 508.9 455.6 508.9C457.0 508.9 459.3 505.9 461.1 505.6C463.0 505.2 465.0 508.1 466.7 506.7C468.3 505.2 469.6 500.4 471.1 496.7C472.6 493.0 473.9 487.5 475.6 484.4C477.2 481.4 479.4 478.9 481.1 478.4C482.8 478.0 483.9 480.8 485.6 481.6C487.2 482.3 489.4 481.7 491.1 482.9C492.8 484.1 494.3 486.6 495.6 488.9C496.9 491.2 497.8 493.1 498.9 496.7C500.0 500.2 501.1 507.1 502.2 510.0C503.3 512.9 504.1 513.6 505.6 514.0C507.0 514.4 509.1 512.4 511.1 512.7C513.1 512.9 515.7 516.2 517.8 515.6C519.8 514.9 521.7 508.5 523.3 508.9C525.0 509.3 526.1 516.1 527.8 517.8C529.4 519.4 531.5 519.0 533.3 518.9C535.2 518.8 537.2 517.1 538.9 517.1C540.6 517.1 541.9 517.7 543.3 518.9C544.8 520.1 546.5 524.8 547.8 524.4C549.1 524.1 550.0 519.6 551.1 516.7C552.2 513.7 553.3 509.1 554.4 506.7C555.6 504.3 556.5 502.6 557.8 502.2C559.1 501.9 560.9 503.5 562.2 504.4C563.6 505.4 565.4 507.2 566.0 507.8" fill="none" stroke="#1c1c1c" stroke-width="1.15" stroke-linejoin="round"/><path d="M166.9 513.0L173.2 503.4M174.0 513.0L180.3 503.4M220.6 513.0L226.9 503.4M227.4 513.0L233.7 503.4M273.6 513.0L279.9 503.4M279.8 513.0L286.1 503.4M351.4 513.0L357.7 503.4M359.6 513.0L365.9 503.4" stroke="#2a2a2a" stroke-width="1.2" fill="none"/><path d="M124.9 452.4H169.9M124.9 557.8H169.9M177.0 452.4H223.6M177.0 557.8H223.6M230.4 452.4H276.6M230.4 557.8H276.6M282.8 452.4H354.4M282.8 557.8H354.4M362.6 452.4H566.0M362.6 557.8H566.0" stroke="#2a2a2a" stroke-width="2.2" fill="none"/><path d="M124.9 452.4v5.2M146.9 452.4v5.2M168.9 452.4v5.2M124.9 557.8v-5.2M146.9 557.8v-5.2M168.9 557.8v-5.2M177.0 452.4v5.2M199.4 452.4v5.2M221.8 452.4v5.2M177.0 557.8v-5.2M199.4 557.8v-5.2M221.8 557.8v-5.2M230.4 452.4v5.2M252.4 452.4v5.2M274.4 452.4v5.2M230.4 557.8v-5.2M252.4 557.8v-5.2M274.4 557.8v-5.2M282.8 452.4v5.2M306.5 452.4v5.2M330.2 452.4v5.2M353.9 452.4v5.2M282.8 557.8v-5.2M306.5 557.8v-5.2M330.2 557.8v-5.2M353.9 557.8v-5.2M362.6 452.4v5.2M388.0 452.4v5.2M413.4 452.4v5.2M438.9 452.4v5.2M464.3 452.4v5.2M489.7 452.4v5.2M515.1 452.4v5.2M540.5 452.4v5.2M566.0 452.4v5.2M362.6 557.8v-5.2M388.0 557.8v-5.2M413.4 557.8v-5.2M438.9 557.8v-5.2M464.3 557.8v-5.2M489.7 557.8v-5.2M515.1 557.8v-5.2M540.5 557.8v-5.2M566.0 557.8v-5.2" stroke="#2a2a2a" stroke-width="1.1" fill="none"/><path d="M126.7 452.4v2.7M128.6 452.4v2.7M130.4 452.4v2.7M132.2 452.4v2.7M134.1 452.4v2.7M135.9 452.4v3.4M137.7 452.4v2.7M139.6 452.4v2.7M141.4 452.4v2.7M143.2 452.4v2.7M145.1 452.4v2.7M148.7 452.4v2.7M150.6 452.4v2.7M152.4 452.4v2.7M154.2 452.4v2.7M156.1 452.4v2.7M157.9 452.4v3.4M159.7 452.4v2.7M161.6 452.4v2.7M163.4 452.4v2.7M165.2 452.4v2.7M167.1 452.4v2.7M170.7 452.4v2.7M126.7 557.8v-2.7M128.6 557.8v-2.7M130.4 557.8v-2.7M132.2 557.8v-2.7M134.1 557.8v-2.7M135.9 557.8v-3.4M137.7 557.8v-2.7M139.6 557.8v-2.7M141.4 557.8v-2.7M143.2 557.8v-2.7M145.1 557.8v-2.7M148.7 557.8v-2.7M150.6 557.8v-2.7M152.4 557.8v-2.7M154.2 557.8v-2.7M156.1 557.8v-2.7M157.9 557.8v-3.4M159.7 557.8v-2.7M161.6 557.8v-2.7M163.4 557.8v-2.7M165.2 557.8v-2.7M167.1 557.8v-2.7M170.7 557.8v-2.7M178.9 452.4v2.7M180.7 452.4v2.7M182.6 452.4v2.7M184.5 452.4v2.7M186.3 452.4v2.7M188.2 452.4v3.4M190.1 452.4v2.7M191.9 452.4v2.7M193.8 452.4v2.7M195.7 452.4v2.7M197.5 452.4v2.7M201.3 452.4v2.7M203.1 452.4v2.7M205.0 452.4v2.7M206.9 452.4v2.7M208.7 452.4v2.7M210.6 452.4v3.4M212.5 452.4v2.7M214.3 452.4v2.7M216.2 452.4v2.7M218.1 452.4v2.7M219.9 452.4v2.7M223.7 452.4v2.7M178.9 557.8v-2.7M180.7 557.8v-2.7M182.6 557.8v-2.7M184.5 557.8v-2.7M186.3 557.8v-2.7M188.2 557.8v-3.4M190.1 557.8v-2.7M191.9 557.8v-2.7M193.8 557.8v-2.7M195.7 557.8v-2.7M197.5 557.8v-2.7M201.3 557.8v-2.7M203.1 557.8v-2.7M205.0 557.8v-2.7M206.9 557.8v-2.7M208.7 557.8v-2.7M210.6 557.8v-3.4M212.5 557.8v-2.7M214.3 557.8v-2.7M216.2 557.8v-2.7M218.1 557.8v-2.7M219.9 557.8v-2.7M223.7 557.8v-2.7M232.2 452.4v2.7M234.1 452.4v2.7M235.9 452.4v2.7M237.7 452.4v2.7M239.6 452.4v2.7M241.4 452.4v3.4M243.2 452.4v2.7M245.1 452.4v2.7M246.9 452.4v2.7M248.7 452.4v2.7M250.6 452.4v2.7M254.2 452.4v2.7M256.1 452.4v2.7M257.9 452.4v2.7M259.7 452.4v2.7M261.6 452.4v2.7M263.4 452.4v3.4M265.2 452.4v2.7M267.1 452.4v2.7M268.9 452.4v2.7M270.7 452.4v2.7M272.6 452.4v2.7M276.2 452.4v2.7M232.2 557.8v-2.7M234.1 557.8v-2.7M235.9 557.8v-2.7M237.7 557.8v-2.7M239.6 557.8v-2.7M241.4 557.8v-3.4M243.2 557.8v-2.7M245.1 557.8v-2.7M246.9 557.8v-2.7M248.7 557.8v-2.7M250.6 557.8v-2.7M254.2 557.8v-2.7M256.1 557.8v-2.7M257.9 557.8v-2.7M259.7 557.8v-2.7M261.6 557.8v-2.7M263.4 557.8v-3.4M265.2 557.8v-2.7M267.1 557.8v-2.7M268.9 557.8v-2.7M270.7 557.8v-2.7M272.6 557.8v-2.7M276.2 557.8v-2.7M284.8 452.4v2.7M286.8 452.4v2.7M288.7 452.4v2.7M290.7 452.4v2.7M292.7 452.4v2.7M294.7 452.4v3.4M296.6 452.4v2.7M298.6 452.4v2.7M300.6 452.4v2.7M302.6 452.4v2.7M304.5 452.4v2.7M308.5 452.4v2.7M310.4 452.4v2.7M312.4 452.4v2.7M314.4 452.4v2.7M316.4 452.4v2.7M318.4 452.4v3.4M320.3 452.4v2.7M322.3 452.4v2.7M324.3 452.4v2.7M326.2 452.4v2.7M328.2 452.4v2.7M332.2 452.4v2.7M334.1 452.4v2.7M336.1 452.4v2.7M338.1 452.4v2.7M340.1 452.4v2.7M342.1 452.4v3.4M344.0 452.4v2.7M346.0 452.4v2.7M348.0 452.4v2.7M349.9 452.4v2.7M351.9 452.4v2.7M284.8 557.8v-2.7M286.8 557.8v-2.7M288.7 557.8v-2.7M290.7 557.8v-2.7M292.7 557.8v-2.7M294.7 557.8v-3.4M296.6 557.8v-2.7M298.6 557.8v-2.7M300.6 557.8v-2.7M302.6 557.8v-2.7M304.5 557.8v-2.7M308.5 557.8v-2.7M310.4 557.8v-2.7M312.4 557.8v-2.7M314.4 557.8v-2.7M316.4 557.8v-2.7M318.4 557.8v-3.4M320.3 557.8v-2.7M322.3 557.8v-2.7M324.3 557.8v-2.7M326.2 557.8v-2.7M328.2 557.8v-2.7M332.2 557.8v-2.7M334.1 557.8v-2.7M336.1 557.8v-2.7M338.1 557.8v-2.7M340.1 557.8v-2.7M342.1 557.8v-3.4M344.0 557.8v-2.7M346.0 557.8v-2.7M348.0 557.8v-2.7M349.9 557.8v-2.7M351.9 557.8v-2.7M364.7 452.4v2.7M366.8 452.4v2.7M369.0 452.4v2.7M371.1 452.4v2.7M373.2 452.4v2.7M375.3 452.4v3.4M377.4 452.4v2.7M379.5 452.4v2.7M381.7 452.4v2.7M383.8 452.4v2.7M385.9 452.4v2.7M390.1 452.4v2.7M392.3 452.4v2.7M394.4 452.4v2.7M396.5 452.4v2.7M398.6 452.4v2.7M400.7 452.4v3.4M402.8 452.4v2.7M405.0 452.4v2.7M407.1 452.4v2.7M409.2 452.4v2.7M411.3 452.4v2.7M415.6 452.4v2.7M417.7 452.4v2.7M419.8 452.4v2.7M421.9 452.4v2.7M424.0 452.4v2.7M426.2 452.4v3.4M428.3 452.4v2.7M430.4 452.4v2.7M432.5 452.4v2.7M434.6 452.4v2.7M436.7 452.4v2.7M441.0 452.4v2.7M443.1 452.4v2.7M445.2 452.4v2.7M447.3 452.4v2.7M449.5 452.4v2.7M451.6 452.4v3.4M453.7 452.4v2.7M455.8 452.4v2.7M457.9 452.4v2.7M460.0 452.4v2.7M462.2 452.4v2.7M466.4 452.4v2.7M468.5 452.4v2.7M470.6 452.4v2.7M472.8 452.4v2.7M474.9 452.4v2.7M477.0 452.4v3.4M479.1 452.4v2.7M481.2 452.4v2.7M483.3 452.4v2.7M485.5 452.4v2.7M487.6 452.4v2.7M491.8 452.4v2.7M493.9 452.4v2.7M496.1 452.4v2.7M498.2 452.4v2.7M500.3 452.4v2.7M502.4 452.4v3.4M504.5 452.4v2.7M506.6 452.4v2.7M508.8 452.4v2.7M510.9 452.4v2.7M513.0 452.4v2.7M517.2 452.4v2.7M519.4 452.4v2.7M521.5 452.4v2.7M523.6 452.4v2.7M525.7 452.4v2.7M527.8 452.4v3.4M529.9 452.4v2.7M532.1 452.4v2.7M534.2 452.4v2.7M536.3 452.4v2.7M538.4 452.4v2.7M542.7 452.4v2.7M544.8 452.4v2.7M546.9 452.4v2.7M549.0 452.4v2.7M551.1 452.4v2.7M553.2 452.4v3.4M555.4 452.4v2.7M557.5 452.4v2.7M559.6 452.4v2.7M561.7 452.4v2.7M563.8 452.4v2.7M364.7 557.8v-2.7M366.8 557.8v-2.7M369.0 557.8v-2.7M371.1 557.8v-2.7M373.2 557.8v-2.7M375.3 557.8v-3.4M377.4 557.8v-2.7M379.5 557.8v-2.7M381.7 557.8v-2.7M383.8 557.8v-2.7M385.9 557.8v-2.7M390.1 557.8v-2.7M392.3 557.8v-2.7M394.4 557.8v-2.7M396.5 557.8v-2.7M398.6 557.8v-2.7M400.7 557.8v-3.4M402.8 557.8v-2.7M405.0 557.8v-2.7M407.1 557.8v-2.7M409.2 557.8v-2.7M411.3 557.8v-2.7M415.6 557.8v-2.7M417.7 557.8v-2.7M419.8 557.8v-2.7M421.9 557.8v-2.7M424.0 557.8v-2.7M426.2 557.8v-3.4M428.3 557.8v-2.7M430.4 557.8v-2.7M432.5 557.8v-2.7M434.6 557.8v-2.7M436.7 557.8v-2.7M441.0 557.8v-2.7M443.1 557.8v-2.7M445.2 557.8v-2.7M447.3 557.8v-2.7M449.5 557.8v-2.7M451.6 557.8v-3.4M453.7 557.8v-2.7M455.8 557.8v-2.7M457.9 557.8v-2.7M460.0 557.8v-2.7M462.2 557.8v-2.7M466.4 557.8v-2.7M468.5 557.8v-2.7M470.6 557.8v-2.7M472.8 557.8v-2.7M474.9 557.8v-2.7M477.0 557.8v-3.4M479.1 557.8v-2.7M481.2 557.8v-2.7M483.3 557.8v-2.7M485.5 557.8v-2.7M487.6 557.8v-2.7M491.8 557.8v-2.7M493.9 557.8v-2.7M496.1 557.8v-2.7M498.2 557.8v-2.7M500.3 557.8v-2.7M502.4 557.8v-3.4M504.5 557.8v-2.7M506.6 557.8v-2.7M508.8 557.8v-2.7M510.9 557.8v-2.7M513.0 557.8v-2.7M517.2 557.8v-2.7M519.4 557.8v-2.7M521.5 557.8v-2.7M523.6 557.8v-2.7M525.7 557.8v-2.7M527.8 557.8v-3.4M529.9 557.8v-2.7M532.1 557.8v-2.7M534.2 557.8v-2.7M536.3 557.8v-2.7M538.4 557.8v-2.7M542.7 557.8v-2.7M544.8 557.8v-2.7M546.9 557.8v-2.7M549.0 557.8v-2.7M551.1 557.8v-2.7M553.2 557.8v-3.4M555.4 557.8v-2.7M557.5 557.8v-2.7M559.6 557.8v-2.7M561.7 557.8v-2.7M563.8 557.8v-2.7" stroke="#2a2a2a" stroke-width="1.15" fill="none"/><path d="M166.3 458.0L173.8 446.8M173.4 458.0L180.9 446.8M166.3 563.4L173.8 552.2M173.4 563.4L180.9 552.2M220.0 458.0L227.5 446.8M226.8 458.0L234.3 446.8M220.0 563.4L227.5 552.2M226.8 563.4L234.3 552.2M273.0 458.0L280.5 446.8M279.2 458.0L286.7 446.8M273.0 563.4L280.5 552.2M279.2 563.4L286.7 552.2M350.8 458.0L358.3 446.8M359.0 458.0L366.5 446.8M350.8 563.4L358.3 552.2M359.0 563.4L366.5 552.2" stroke="#2a2a2a" stroke-width="1.4" fill="none"/><path d="M124.9 451.4V558.8M566.0 451.4V558.8" stroke="#2a2a2a" stroke-width="1.7" fill="none"/><line x1="124.9" y1="550.6" x2="130.5" y2="550.6" stroke="#2a2a2a" stroke-width="1.1"/><text x="118.6" y="553.5" font-size="8.6" fill="#222" text-anchor="end">-3</text><line x1="124.9" y1="543.6" x2="128.1" y2="543.6" stroke="#2a2a2a" stroke-width="0.8"/><line x1="124.9" y1="536.5" x2="130.5" y2="536.5" stroke="#2a2a2a" stroke-width="1.1"/><text x="118.6" y="539.4" font-size="8.6" fill="#222" text-anchor="end">-2</text><line x1="124.9" y1="529.5" x2="128.1" y2="529.5" stroke="#2a2a2a" stroke-width="0.8"/><line x1="124.9" y1="522.5" x2="130.5" y2="522.5" stroke="#2a2a2a" stroke-width="1.1"/><text x="118.6" y="525.4" font-size="8.6" fill="#222" text-anchor="end">-1</text><line x1="124.9" y1="515.4" x2="128.1" y2="515.4" stroke="#2a2a2a" stroke-width="0.8"/><line x1="124.9" y1="508.4" x2="130.5" y2="508.4" stroke="#2a2a2a" stroke-width="1.1"/><text x="118.6" y="511.3" font-size="8.6" fill="#222" text-anchor="end">0</text><line x1="124.9" y1="501.4" x2="128.1" y2="501.4" stroke="#2a2a2a" stroke-width="0.8"/><line x1="124.9" y1="494.3" x2="130.5" y2="494.3" stroke="#2a2a2a" stroke-width="1.1"/><text x="118.6" y="497.2" font-size="8.6" fill="#222" text-anchor="end">1</text><line x1="124.9" y1="487.3" x2="128.1" y2="487.3" stroke="#2a2a2a" stroke-width="0.8"/><line x1="124.9" y1="480.3" x2="130.5" y2="480.3" stroke="#2a2a2a" stroke-width="1.1"/><text x="118.6" y="483.2" font-size="8.6" fill="#222" text-anchor="end">2</text><line x1="124.9" y1="473.2" x2="128.1" y2="473.2" stroke="#2a2a2a" stroke-width="0.8"/><line x1="124.9" y1="466.2" x2="130.5" y2="466.2" stroke="#2a2a2a" stroke-width="1.1"/><text x="118.6" y="469.1" font-size="8.6" fill="#222" text-anchor="end">3</text><line x1="124.9" y1="459.2" x2="128.1" y2="459.2" stroke="#2a2a2a" stroke-width="0.8"/><line x1="124.9" y1="452.1" x2="130.5" y2="452.1" stroke="#2a2a2a" stroke-width="1.1"/><text x="118.6" y="455.0" font-size="8.6" fill="#222" text-anchor="end">4</text><line x1="560.4" y1="553.3" x2="566.0" y2="553.3" stroke="#2a2a2a" stroke-width="1.1"/><text x="578.5" y="554.0" font-size="8.6" fill="#222" text-anchor="end">-3</text><line x1="562.8" y1="545.7" x2="566.0" y2="545.7" stroke="#2a2a2a" stroke-width="0.8"/><line x1="560.4" y1="538.1" x2="566.0" y2="538.1" stroke="#2a2a2a" stroke-width="1.1"/><text x="578.5" y="538.8" font-size="8.6" fill="#222" text-anchor="end">-2</text><line x1="562.8" y1="530.5" x2="566.0" y2="530.5" stroke="#2a2a2a" stroke-width="0.8"/><line x1="560.4" y1="523.0" x2="566.0" y2="523.0" stroke="#2a2a2a" stroke-width="1.1"/><text x="578.5" y="523.7" font-size="8.6" fill="#222" text-anchor="end">-1</text><line x1="562.8" y1="515.4" x2="566.0" y2="515.4" stroke="#2a2a2a" stroke-width="0.8"/><line x1="560.4" y1="507.8" x2="566.0" y2="507.8" stroke="#2a2a2a" stroke-width="1.1"/><text x="578.5" y="508.5" font-size="8.6" fill="#222" text-anchor="end">0</text><line x1="562.8" y1="500.2" x2="566.0" y2="500.2" stroke="#2a2a2a" stroke-width="0.8"/><line x1="560.4" y1="492.7" x2="566.0" y2="492.7" stroke="#2a2a2a" stroke-width="1.1"/><text x="578.5" y="493.4" font-size="8.6" fill="#222" text-anchor="end">1</text><line x1="562.8" y1="485.1" x2="566.0" y2="485.1" stroke="#2a2a2a" stroke-width="0.8"/><line x1="560.4" y1="477.5" x2="566.0" y2="477.5" stroke="#2a2a2a" stroke-width="1.1"/><text x="578.5" y="478.2" font-size="8.6" fill="#222" text-anchor="end">2</text><line x1="562.8" y1="469.9" x2="566.0" y2="469.9" stroke="#2a2a2a" stroke-width="0.8"/><line x1="560.4" y1="462.4" x2="566.0" y2="462.4" stroke="#2a2a2a" stroke-width="1.1"/><text x="578.5" y="463.1" font-size="8.6" fill="#222" text-anchor="end">3</text><line x1="562.8" y1="454.8" x2="566.0" y2="454.8" stroke="#2a2a2a" stroke-width="0.8"/><text x="124.9" y="572.3" font-size="8.6" fill="#222" text-anchor="middle">1982</text><text x="146.9" y="572.3" font-size="8.6" fill="#222" text-anchor="middle">1983</text><text x="177.3" y="572.3" font-size="8.6" fill="#222" text-anchor="middle">1992</text><text x="199.4" y="572.3" font-size="8.6" fill="#222" text-anchor="middle">1993</text><text x="230.7" y="572.3" font-size="8.6" fill="#222" text-anchor="middle">1998</text><text x="252.4" y="572.3" font-size="8.6" fill="#222" text-anchor="middle">1999</text><text x="283.1" y="572.3" font-size="8.6" fill="#222" text-anchor="middle">2006</text><text x="306.5" y="572.3" font-size="8.6" fill="#222" text-anchor="middle">2007</text><text x="330.2" y="572.3" font-size="8.6" fill="#222" text-anchor="middle">2008</text><text x="362.9" y="572.3" font-size="8.6" fill="#222" text-anchor="middle">2011</text><text x="388.0" y="572.3" font-size="8.6" fill="#222" text-anchor="middle">2012</text><text x="413.4" y="572.3" font-size="8.6" fill="#222" text-anchor="middle">2013</text><text x="438.9" y="572.3" font-size="8.6" fill="#222" text-anchor="middle">2014</text><text x="464.3" y="572.3" font-size="8.6" fill="#222" text-anchor="middle">2015</text><text x="489.7" y="572.3" font-size="8.6" fill="#222" text-anchor="middle">2016</text><text x="515.1" y="572.3" font-size="8.6" fill="#222" text-anchor="middle">2017</text><text x="540.5" y="572.3" font-size="8.6" fill="#222" text-anchor="middle">2018</text><text x="566.0" y="572.3" font-size="8.6" fill="#222" text-anchor="middle">2019</text><rect x="510" y="461.6" width="16.2" height="6.2" fill="#a9a9a9" stroke="#555" stroke-width="0.6"/><text x="531.6" y="467.6" font-size="7.2" fill="#222">PDO</text><line x1="509.6" y1="473.2" x2="526.6" y2="473.2" stroke="#222" stroke-width="0.9"/><text x="532.5" y="475.8" font-size="7.2" fill="#222">MEI</text><text x="544.2" y="552" font-size="11" fill="#333">(a)</text><text transform="translate(107.3,505.3) rotate(-90)" font-size="8.0" fill="#333" text-anchor="middle" textLength="107" lengthAdjust="spacingAndGlyphs">multivariate ENSO Index (MEI)</text><g transform="translate(98,512.5) rotate(-90)"><text x="-20" y="0" font-size="7.6" fill="#8e8e8e">ENSO</text><text class="cjkr" x="1.5" y="0" font-size="7.6" fill="#8e8e8e">指数</text></g><text transform="translate(591.6,507.3) rotate(-90)" font-size="8.0" fill="#333" text-anchor="middle" textLength="128.6" lengthAdjust="spacingAndGlyphs">Pacific Decadal Oscillation Index (PDO)</text><g transform="translate(603.4,505.5) rotate(-90)"><text x="-18" y="0" font-size="8.2" fill="#8e8e8e">PDO</text><text class="cjkr" x="-1.0" y="0" font-size="8.3" fill="#8e8e8e">指数</text></g><g transform="translate(311.8,582.3)"><text class="cjkr" x="0" y="0" font-size="8.9" fill="#8c8c8c">年份</text><text x="17.8" y="0" font-size="8.9" fill="#8a8a8a">(</text><text class="cjkr" x="20.8" y="0" font-size="8.9" fill="#8c8c8c">月份</text><text x="38.8" y="0" font-size="9.0" fill="#333" textLength="49.5" lengthAdjust="spacingAndGlyphs">) year(month)</text></g><text x="20.0" y="524.2" font-size="27" font-weight="bold" fill="#000" textLength="57.5" lengthAdjust="spacingAndGlyphs">PDO</text><line x1="124.9" y1="651.7" x2="566.0" y2="651.7" stroke="#555" stroke-width="1.7"/><path d="M124.9 645.3C125.4 644.8 127.1 640.0 128.1 642.5C129.1 645.0 130.3 657.8 131.1 660.2C131.9 662.7 132.1 658.3 132.8 657.0C133.5 655.8 134.6 657.5 135.4 652.8C136.2 648.0 136.7 630.8 137.5 628.8C138.3 626.8 139.5 639.0 140.3 641.0C141.1 643.0 141.7 640.5 142.4 641.0C143.1 641.5 143.5 644.9 144.6 644.2C145.6 643.5 147.6 634.9 148.8 636.7C150.1 638.5 151.1 655.9 152.1 654.9C153.0 653.9 153.7 633.6 154.6 630.9C155.5 628.3 156.5 640.5 157.4 638.8C158.3 637.2 159.4 623.8 160.2 621.1C161.0 618.4 161.5 625.9 162.3 622.8C163.1 619.7 164.1 605.5 164.9 602.5C165.7 599.4 166.3 598.5 167.0 604.6C167.8 610.7 168.8 633.1 169.2 638.8" fill="none" stroke="#1c1c1c" stroke-width="1.15" stroke-linejoin="round"/><path d="M177.3 669.4C177.7 669.5 178.9 670.2 179.9 669.9C180.8 669.6 182.0 667.7 183.1 667.7C184.2 667.7 185.5 669.0 186.3 669.9C187.1 670.8 187.3 675.9 188.0 673.1C188.7 670.2 189.6 656.0 190.6 652.8C191.5 649.5 192.5 653.9 193.8 653.8C195.0 653.8 197.0 652.2 198.1 652.3C199.1 652.5 199.4 653.2 200.2 654.9C201.0 656.6 202.1 661.9 203.0 662.4C203.9 662.9 204.6 657.8 205.6 658.1C206.5 658.5 207.6 666.7 208.8 664.5C209.9 662.4 211.2 646.5 212.4 645.3C213.7 644.0 215.3 655.8 216.3 657.0C217.3 658.3 217.4 656.5 218.4 652.8C219.4 649.0 221.6 637.6 222.2 634.6" fill="none" stroke="#1c1c1c" stroke-width="1.15" stroke-linejoin="round"/><path d="M230.2 680.1C230.6 679.1 232.1 676.2 232.9 674.2C233.8 672.1 234.7 669.0 235.5 667.7C236.3 666.5 236.9 668.4 237.7 666.7C238.4 664.9 239.0 659.4 239.8 657.0C240.6 654.6 241.6 652.0 242.4 652.3C243.1 652.7 243.7 656.8 244.5 659.2C245.3 661.6 246.3 665.2 247.3 666.7C248.3 668.1 249.4 666.8 250.5 667.7C251.6 668.6 252.6 672.6 253.7 672.0C254.8 671.5 255.8 665.6 256.9 664.5C258.0 663.5 259.1 666.1 260.1 665.6C261.2 665.1 262.3 660.8 263.3 661.3C264.4 661.9 265.5 668.4 266.5 668.8C267.5 669.2 268.4 663.9 269.3 663.9C270.2 663.9 271.0 667.3 271.9 668.8C272.7 670.3 274.0 672.4 274.5 673.1" fill="none" stroke="#1c1c1c" stroke-width="1.15" stroke-linejoin="round"/><path d="M283.7 657.0C284.0 657.6 285.1 660.4 285.8 660.2C286.5 660.1 286.9 664.5 287.9 656.0C289.0 647.4 291.3 614.4 292.2 608.9C293.2 603.4 293.1 614.8 293.7 622.8C294.3 630.8 294.7 650.4 295.9 657.0C297.0 663.6 299.2 660.8 300.8 662.4C302.3 664.0 303.8 666.1 305.1 666.7C306.3 667.2 307.3 666.8 308.3 665.6C309.2 664.3 309.9 660.2 310.8 659.2C311.7 658.2 312.6 662.5 313.6 659.6C314.6 656.7 315.8 644.0 316.8 641.6C317.9 639.2 319.0 642.9 320.0 645.3C321.1 647.7 322.2 654.7 323.3 656.0C324.3 657.2 325.4 652.5 326.5 652.8C327.5 653.0 328.6 657.1 329.7 657.5C330.7 657.8 332.0 655.1 332.9 654.9C333.8 654.6 334.0 659.2 335.0 656.0C336.1 652.7 338.2 638.2 339.3 635.2C340.4 632.2 340.6 632.7 341.4 637.8C342.3 642.8 343.0 661.7 344.2 665.6C345.5 669.5 347.2 661.0 348.9 661.1C350.6 661.2 353.5 665.4 354.4 666.2" fill="none" stroke="#1c1c1c" stroke-width="1.15" stroke-linejoin="round"/><path d="M362.2 673.3C363.3 671.7 367.0 667.4 368.9 663.3C370.7 659.3 372.0 649.1 373.3 648.9C374.6 648.7 375.4 661.9 376.7 662.2C378.0 662.6 379.4 658.1 381.1 651.1C382.8 644.1 385.0 621.0 386.7 620.4C388.3 619.9 389.8 643.4 391.1 647.8C392.4 652.1 393.1 650.4 394.4 646.7C395.7 643.0 397.4 625.2 398.9 625.6C400.4 625.9 402.0 644.0 403.3 648.9C404.6 653.8 405.4 657.5 406.7 655.1C408.0 652.7 409.8 638.7 411.1 634.4C412.4 630.1 413.3 627.3 414.4 629.3C415.6 631.4 417.2 643.4 418.2 646.7C419.2 649.9 419.3 653.9 420.4 648.9C421.6 643.9 423.7 618.5 424.9 616.7C426.1 614.8 426.9 630.4 427.8 637.8C428.6 645.2 429.1 656.7 430.0 661.1C430.9 665.5 432.2 663.6 433.3 664.0C434.4 664.4 435.4 664.6 436.7 663.3C438.0 662.1 439.5 660.6 441.1 656.7C442.7 652.7 444.7 640.1 446.2 639.6C447.7 639.0 448.6 648.4 450.0 653.3C451.4 658.3 452.8 667.8 454.4 669.3C456.1 670.9 458.1 665.8 460.0 662.7C461.9 659.6 464.3 653.3 465.6 650.7C466.9 648.0 466.9 652.0 467.8 646.7C468.7 641.4 470.0 619.3 471.1 618.9C472.2 618.5 473.3 638.0 474.4 644.4C475.6 650.9 476.8 653.9 477.8 657.8C478.8 661.7 479.0 665.9 480.4 667.8C481.9 669.6 484.7 670.1 486.7 668.9C488.6 667.7 490.7 661.9 492.2 660.4C493.7 659.0 494.4 659.5 495.6 660.0C496.7 660.5 497.8 663.3 498.9 663.3C500.0 663.3 501.1 659.4 502.2 660.0C503.3 660.6 504.3 666.2 505.6 667.1C506.9 668.0 508.5 664.8 510.0 665.6C511.5 666.3 513.1 671.6 514.4 671.6C515.7 671.6 516.6 670.1 517.8 665.6C519.0 661.0 520.7 646.3 521.8 644.4C522.9 642.6 523.4 650.4 524.4 654.4C525.4 658.5 526.7 666.5 527.8 668.9C528.9 671.3 529.6 670.7 531.1 668.9C532.6 667.1 535.4 660.6 536.7 658.2C538.0 655.8 538.0 655.9 538.9 654.4C539.8 653.0 541.1 652.3 542.2 649.3C543.3 646.4 544.5 643.6 545.6 636.7C546.6 629.7 547.5 611.7 548.4 607.8C549.4 603.9 550.4 611.7 551.1 613.3C551.9 615.0 552.1 612.8 552.9 617.8C553.6 622.8 554.6 638.9 555.6 643.3C556.6 647.8 557.8 642.4 558.9 644.4C560.0 646.5 561.1 652.9 562.2 655.6C563.3 658.2 565.0 659.6 565.6 660.4" fill="none" stroke="#1c1c1c" stroke-width="1.15" stroke-linejoin="round"/><path d="M124.9 590.5H169.9M124.9 695.3H169.9M177.0 590.5H223.6M177.0 695.3H223.6M230.4 590.5H276.6M230.4 695.3H276.6M282.8 590.5H354.4M282.8 695.3H354.4M362.6 590.5H566.0M362.6 695.3H566.0" stroke="#2a2a2a" stroke-width="2.2" fill="none"/><path d="M124.9 590.5v5.2M146.9 590.5v5.2M168.9 590.5v5.2M124.9 695.3v-5.2M146.9 695.3v-5.2M168.9 695.3v-5.2M177.0 590.5v5.2M199.4 590.5v5.2M221.8 590.5v5.2M177.0 695.3v-5.2M199.4 695.3v-5.2M221.8 695.3v-5.2M230.4 590.5v5.2M252.4 590.5v5.2M274.4 590.5v5.2M230.4 695.3v-5.2M252.4 695.3v-5.2M274.4 695.3v-5.2M282.8 590.5v5.2M306.5 590.5v5.2M330.2 590.5v5.2M353.9 590.5v5.2M282.8 695.3v-5.2M306.5 695.3v-5.2M330.2 695.3v-5.2M353.9 695.3v-5.2M362.6 590.5v5.2M388.0 590.5v5.2M413.4 590.5v5.2M438.9 590.5v5.2M464.3 590.5v5.2M489.7 590.5v5.2M515.1 590.5v5.2M540.5 590.5v5.2M566.0 590.5v5.2M362.6 695.3v-5.2M388.0 695.3v-5.2M413.4 695.3v-5.2M438.9 695.3v-5.2M464.3 695.3v-5.2M489.7 695.3v-5.2M515.1 695.3v-5.2M540.5 695.3v-5.2M566.0 695.3v-5.2" stroke="#2a2a2a" stroke-width="1.1" fill="none"/><path d="M126.7 590.5v2.7M128.6 590.5v2.7M130.4 590.5v2.7M132.2 590.5v2.7M134.1 590.5v2.7M135.9 590.5v3.4M137.7 590.5v2.7M139.6 590.5v2.7M141.4 590.5v2.7M143.2 590.5v2.7M145.1 590.5v2.7M148.7 590.5v2.7M150.6 590.5v2.7M152.4 590.5v2.7M154.2 590.5v2.7M156.1 590.5v2.7M157.9 590.5v3.4M159.7 590.5v2.7M161.6 590.5v2.7M163.4 590.5v2.7M165.2 590.5v2.7M167.1 590.5v2.7M170.7 590.5v2.7M126.7 695.3v-2.7M128.6 695.3v-2.7M130.4 695.3v-2.7M132.2 695.3v-2.7M134.1 695.3v-2.7M135.9 695.3v-3.4M137.7 695.3v-2.7M139.6 695.3v-2.7M141.4 695.3v-2.7M143.2 695.3v-2.7M145.1 695.3v-2.7M148.7 695.3v-2.7M150.6 695.3v-2.7M152.4 695.3v-2.7M154.2 695.3v-2.7M156.1 695.3v-2.7M157.9 695.3v-3.4M159.7 695.3v-2.7M161.6 695.3v-2.7M163.4 695.3v-2.7M165.2 695.3v-2.7M167.1 695.3v-2.7M170.7 695.3v-2.7M178.9 590.5v2.7M180.7 590.5v2.7M182.6 590.5v2.7M184.5 590.5v2.7M186.3 590.5v2.7M188.2 590.5v3.4M190.1 590.5v2.7M191.9 590.5v2.7M193.8 590.5v2.7M195.7 590.5v2.7M197.5 590.5v2.7M201.3 590.5v2.7M203.1 590.5v2.7M205.0 590.5v2.7M206.9 590.5v2.7M208.7 590.5v2.7M210.6 590.5v3.4M212.5 590.5v2.7M214.3 590.5v2.7M216.2 590.5v2.7M218.1 590.5v2.7M219.9 590.5v2.7M223.7 590.5v2.7M178.9 695.3v-2.7M180.7 695.3v-2.7M182.6 695.3v-2.7M184.5 695.3v-2.7M186.3 695.3v-2.7M188.2 695.3v-3.4M190.1 695.3v-2.7M191.9 695.3v-2.7M193.8 695.3v-2.7M195.7 695.3v-2.7M197.5 695.3v-2.7M201.3 695.3v-2.7M203.1 695.3v-2.7M205.0 695.3v-2.7M206.9 695.3v-2.7M208.7 695.3v-2.7M210.6 695.3v-3.4M212.5 695.3v-2.7M214.3 695.3v-2.7M216.2 695.3v-2.7M218.1 695.3v-2.7M219.9 695.3v-2.7M223.7 695.3v-2.7M232.2 590.5v2.7M234.1 590.5v2.7M235.9 590.5v2.7M237.7 590.5v2.7M239.6 590.5v2.7M241.4 590.5v3.4M243.2 590.5v2.7M245.1 590.5v2.7M246.9 590.5v2.7M248.7 590.5v2.7M250.6 590.5v2.7M254.2 590.5v2.7M256.1 590.5v2.7M257.9 590.5v2.7M259.7 590.5v2.7M261.6 590.5v2.7M263.4 590.5v3.4M265.2 590.5v2.7M267.1 590.5v2.7M268.9 590.5v2.7M270.7 590.5v2.7M272.6 590.5v2.7M276.2 590.5v2.7M232.2 695.3v-2.7M234.1 695.3v-2.7M235.9 695.3v-2.7M237.7 695.3v-2.7M239.6 695.3v-2.7M241.4 695.3v-3.4M243.2 695.3v-2.7M245.1 695.3v-2.7M246.9 695.3v-2.7M248.7 695.3v-2.7M250.6 695.3v-2.7M254.2 695.3v-2.7M256.1 695.3v-2.7M257.9 695.3v-2.7M259.7 695.3v-2.7M261.6 695.3v-2.7M263.4 695.3v-3.4M265.2 695.3v-2.7M267.1 695.3v-2.7M268.9 695.3v-2.7M270.7 695.3v-2.7M272.6 695.3v-2.7M276.2 695.3v-2.7M284.8 590.5v2.7M286.8 590.5v2.7M288.7 590.5v2.7M290.7 590.5v2.7M292.7 590.5v2.7M294.7 590.5v3.4M296.6 590.5v2.7M298.6 590.5v2.7M300.6 590.5v2.7M302.6 590.5v2.7M304.5 590.5v2.7M308.5 590.5v2.7M310.4 590.5v2.7M312.4 590.5v2.7M314.4 590.5v2.7M316.4 590.5v2.7M318.4 590.5v3.4M320.3 590.5v2.7M322.3 590.5v2.7M324.3 590.5v2.7M326.2 590.5v2.7M328.2 590.5v2.7M332.2 590.5v2.7M334.1 590.5v2.7M336.1 590.5v2.7M338.1 590.5v2.7M340.1 590.5v2.7M342.1 590.5v3.4M344.0 590.5v2.7M346.0 590.5v2.7M348.0 590.5v2.7M349.9 590.5v2.7M351.9 590.5v2.7M284.8 695.3v-2.7M286.8 695.3v-2.7M288.7 695.3v-2.7M290.7 695.3v-2.7M292.7 695.3v-2.7M294.7 695.3v-3.4M296.6 695.3v-2.7M298.6 695.3v-2.7M300.6 695.3v-2.7M302.6 695.3v-2.7M304.5 695.3v-2.7M308.5 695.3v-2.7M310.4 695.3v-2.7M312.4 695.3v-2.7M314.4 695.3v-2.7M316.4 695.3v-2.7M318.4 695.3v-3.4M320.3 695.3v-2.7M322.3 695.3v-2.7M324.3 695.3v-2.7M326.2 695.3v-2.7M328.2 695.3v-2.7M332.2 695.3v-2.7M334.1 695.3v-2.7M336.1 695.3v-2.7M338.1 695.3v-2.7M340.1 695.3v-2.7M342.1 695.3v-3.4M344.0 695.3v-2.7M346.0 695.3v-2.7M348.0 695.3v-2.7M349.9 695.3v-2.7M351.9 695.3v-2.7M364.7 590.5v2.7M366.8 590.5v2.7M369.0 590.5v2.7M371.1 590.5v2.7M373.2 590.5v2.7M375.3 590.5v3.4M377.4 590.5v2.7M379.5 590.5v2.7M381.7 590.5v2.7M383.8 590.5v2.7M385.9 590.5v2.7M390.1 590.5v2.7M392.3 590.5v2.7M394.4 590.5v2.7M396.5 590.5v2.7M398.6 590.5v2.7M400.7 590.5v3.4M402.8 590.5v2.7M405.0 590.5v2.7M407.1 590.5v2.7M409.2 590.5v2.7M411.3 590.5v2.7M415.6 590.5v2.7M417.7 590.5v2.7M419.8 590.5v2.7M421.9 590.5v2.7M424.0 590.5v2.7M426.2 590.5v3.4M428.3 590.5v2.7M430.4 590.5v2.7M432.5 590.5v2.7M434.6 590.5v2.7M436.7 590.5v2.7M441.0 590.5v2.7M443.1 590.5v2.7M445.2 590.5v2.7M447.3 590.5v2.7M449.5 590.5v2.7M451.6 590.5v3.4M453.7 590.5v2.7M455.8 590.5v2.7M457.9 590.5v2.7M460.0 590.5v2.7M462.2 590.5v2.7M466.4 590.5v2.7M468.5 590.5v2.7M470.6 590.5v2.7M472.8 590.5v2.7M474.9 590.5v2.7M477.0 590.5v3.4M479.1 590.5v2.7M481.2 590.5v2.7M483.3 590.5v2.7M485.5 590.5v2.7M487.6 590.5v2.7M491.8 590.5v2.7M493.9 590.5v2.7M496.1 590.5v2.7M498.2 590.5v2.7M500.3 590.5v2.7M502.4 590.5v3.4M504.5 590.5v2.7M506.6 590.5v2.7M508.8 590.5v2.7M510.9 590.5v2.7M513.0 590.5v2.7M517.2 590.5v2.7M519.4 590.5v2.7M521.5 590.5v2.7M523.6 590.5v2.7M525.7 590.5v2.7M527.8 590.5v3.4M529.9 590.5v2.7M532.1 590.5v2.7M534.2 590.5v2.7M536.3 590.5v2.7M538.4 590.5v2.7M542.7 590.5v2.7M544.8 590.5v2.7M546.9 590.5v2.7M549.0 590.5v2.7M551.1 590.5v2.7M553.2 590.5v3.4M555.4 590.5v2.7M557.5 590.5v2.7M559.6 590.5v2.7M561.7 590.5v2.7M563.8 590.5v2.7M364.7 695.3v-2.7M366.8 695.3v-2.7M369.0 695.3v-2.7M371.1 695.3v-2.7M373.2 695.3v-2.7M375.3 695.3v-3.4M377.4 695.3v-2.7M379.5 695.3v-2.7M381.7 695.3v-2.7M383.8 695.3v-2.7M385.9 695.3v-2.7M390.1 695.3v-2.7M392.3 695.3v-2.7M394.4 695.3v-2.7M396.5 695.3v-2.7M398.6 695.3v-2.7M400.7 695.3v-3.4M402.8 695.3v-2.7M405.0 695.3v-2.7M407.1 695.3v-2.7M409.2 695.3v-2.7M411.3 695.3v-2.7M415.6 695.3v-2.7M417.7 695.3v-2.7M419.8 695.3v-2.7M421.9 695.3v-2.7M424.0 695.3v-2.7M426.2 695.3v-3.4M428.3 695.3v-2.7M430.4 695.3v-2.7M432.5 695.3v-2.7M434.6 695.3v-2.7M436.7 695.3v-2.7M441.0 695.3v-2.7M443.1 695.3v-2.7M445.2 695.3v-2.7M447.3 695.3v-2.7M449.5 695.3v-2.7M451.6 695.3v-3.4M453.7 695.3v-2.7M455.8 695.3v-2.7M457.9 695.3v-2.7M460.0 695.3v-2.7M462.2 695.3v-2.7M466.4 695.3v-2.7M468.5 695.3v-2.7M470.6 695.3v-2.7M472.8 695.3v-2.7M474.9 695.3v-2.7M477.0 695.3v-3.4M479.1 695.3v-2.7M481.2 695.3v-2.7M483.3 695.3v-2.7M485.5 695.3v-2.7M487.6 695.3v-2.7M491.8 695.3v-2.7M493.9 695.3v-2.7M496.1 695.3v-2.7M498.2 695.3v-2.7M500.3 695.3v-2.7M502.4 695.3v-3.4M504.5 695.3v-2.7M506.6 695.3v-2.7M508.8 695.3v-2.7M510.9 695.3v-2.7M513.0 695.3v-2.7M517.2 695.3v-2.7M519.4 695.3v-2.7M521.5 695.3v-2.7M523.6 695.3v-2.7M525.7 695.3v-2.7M527.8 695.3v-3.4M529.9 695.3v-2.7M532.1 695.3v-2.7M534.2 695.3v-2.7M536.3 695.3v-2.7M538.4 695.3v-2.7M542.7 695.3v-2.7M544.8 695.3v-2.7M546.9 695.3v-2.7M549.0 695.3v-2.7M551.1 695.3v-2.7M553.2 695.3v-3.4M555.4 695.3v-2.7M557.5 695.3v-2.7M559.6 695.3v-2.7M561.7 695.3v-2.7M563.8 695.3v-2.7" stroke="#2a2a2a" stroke-width="1.15" fill="none"/><path d="M166.3 596.1L173.8 584.9M173.4 596.1L180.9 584.9M166.3 700.9L173.8 689.7M173.4 700.9L180.9 689.7M220.0 596.1L227.5 584.9M226.8 596.1L234.3 584.9M220.0 700.9L227.5 689.7M226.8 700.9L234.3 689.7M273.0 596.1L280.5 584.9M279.2 596.1L286.7 584.9M273.0 700.9L280.5 689.7M279.2 700.9L286.7 689.7M350.8 596.1L358.3 584.9M359.0 596.1L366.5 584.9M350.8 700.9L358.3 689.7M359.0 700.9L366.5 689.7" stroke="#2a2a2a" stroke-width="1.4" fill="none"/><path d="M124.9 589.5V696.3M566.0 589.5V696.3" stroke="#2a2a2a" stroke-width="1.7" fill="none"/><line x1="124.9" y1="686.8" x2="130.5" y2="686.8" stroke="#2a2a2a" stroke-width="1.1"/><line x1="560.4" y1="686.8" x2="566.0" y2="686.8" stroke="#2a2a2a" stroke-width="1.1"/><text x="118.6" y="689.7" font-size="8.6" fill="#222" text-anchor="end">-2</text><line x1="124.9" y1="678.0" x2="128.1" y2="678.0" stroke="#2a2a2a" stroke-width="0.8"/><line x1="562.8" y1="678.0" x2="566.0" y2="678.0" stroke="#2a2a2a" stroke-width="0.8"/><line x1="124.9" y1="669.2" x2="130.5" y2="669.2" stroke="#2a2a2a" stroke-width="1.1"/><line x1="560.4" y1="669.2" x2="566.0" y2="669.2" stroke="#2a2a2a" stroke-width="1.1"/><text x="118.6" y="672.1" font-size="8.6" fill="#222" text-anchor="end">-1</text><line x1="124.9" y1="660.5" x2="128.1" y2="660.5" stroke="#2a2a2a" stroke-width="0.8"/><line x1="562.8" y1="660.5" x2="566.0" y2="660.5" stroke="#2a2a2a" stroke-width="0.8"/><line x1="124.9" y1="651.7" x2="130.5" y2="651.7" stroke="#2a2a2a" stroke-width="1.1"/><line x1="560.4" y1="651.7" x2="566.0" y2="651.7" stroke="#2a2a2a" stroke-width="1.1"/><text x="118.6" y="654.6" font-size="8.6" fill="#222" text-anchor="end">0</text><line x1="124.9" y1="642.9" x2="128.1" y2="642.9" stroke="#2a2a2a" stroke-width="0.8"/><line x1="562.8" y1="642.9" x2="566.0" y2="642.9" stroke="#2a2a2a" stroke-width="0.8"/><line x1="124.9" y1="634.2" x2="130.5" y2="634.2" stroke="#2a2a2a" stroke-width="1.1"/><line x1="560.4" y1="634.2" x2="566.0" y2="634.2" stroke="#2a2a2a" stroke-width="1.1"/><text x="118.6" y="637.1" font-size="8.6" fill="#222" text-anchor="end">1</text><line x1="124.9" y1="625.4" x2="128.1" y2="625.4" stroke="#2a2a2a" stroke-width="0.8"/><line x1="562.8" y1="625.4" x2="566.0" y2="625.4" stroke="#2a2a2a" stroke-width="0.8"/><line x1="124.9" y1="616.6" x2="130.5" y2="616.6" stroke="#2a2a2a" stroke-width="1.1"/><line x1="560.4" y1="616.6" x2="566.0" y2="616.6" stroke="#2a2a2a" stroke-width="1.1"/><text x="118.6" y="619.5" font-size="8.6" fill="#222" text-anchor="end">2</text><line x1="124.9" y1="607.8" x2="128.1" y2="607.8" stroke="#2a2a2a" stroke-width="0.8"/><line x1="562.8" y1="607.8" x2="566.0" y2="607.8" stroke="#2a2a2a" stroke-width="0.8"/><line x1="124.9" y1="599.1" x2="130.5" y2="599.1" stroke="#2a2a2a" stroke-width="1.1"/><line x1="560.4" y1="599.1" x2="566.0" y2="599.1" stroke="#2a2a2a" stroke-width="1.1"/><text x="118.6" y="602.0" font-size="8.6" fill="#222" text-anchor="end">3</text><line x1="124.9" y1="590.3" x2="128.1" y2="590.3" stroke="#2a2a2a" stroke-width="0.8"/><line x1="562.8" y1="590.3" x2="566.0" y2="590.3" stroke="#2a2a2a" stroke-width="0.8"/><line x1="124.9" y1="695.6" x2="128.1" y2="695.6" stroke="#2a2a2a" stroke-width="0.8"/><text x="124.9" y="708.8" font-size="8.6" fill="#222" text-anchor="middle">1982</text><text x="146.9" y="708.8" font-size="8.6" fill="#222" text-anchor="middle">1983</text><text x="177.3" y="708.8" font-size="8.6" fill="#222" text-anchor="middle">1992</text><text x="199.4" y="708.8" font-size="8.6" fill="#222" text-anchor="middle">1993</text><text x="230.7" y="708.8" font-size="8.6" fill="#222" text-anchor="middle">1998</text><text x="252.4" y="708.8" font-size="8.6" fill="#222" text-anchor="middle">1999</text><text x="283.1" y="708.8" font-size="8.6" fill="#222" text-anchor="middle">2006</text><text x="306.5" y="708.8" font-size="8.6" fill="#222" text-anchor="middle">2007</text><text x="330.2" y="708.8" font-size="8.6" fill="#222" text-anchor="middle">2008</text><text x="362.9" y="708.8" font-size="8.6" fill="#222" text-anchor="middle">2011</text><text x="388.0" y="708.8" font-size="8.6" fill="#222" text-anchor="middle">2012</text><text x="413.4" y="708.8" font-size="8.6" fill="#222" text-anchor="middle">2013</text><text x="438.9" y="708.8" font-size="8.6" fill="#222" text-anchor="middle">2014</text><text x="464.3" y="708.8" font-size="8.6" fill="#222" text-anchor="middle">2015</text><text x="489.7" y="708.8" font-size="8.6" fill="#222" text-anchor="middle">2016</text><text x="515.1" y="708.8" font-size="8.6" fill="#222" text-anchor="middle">2017</text><text x="540.5" y="708.8" font-size="8.6" fill="#222" text-anchor="middle">2018</text><text x="566.0" y="708.8" font-size="8.6" fill="#222" text-anchor="middle">2019</text><g transform="translate(311.8,720.3)"><text class="cjkr" x="0" y="0" font-size="8.9" fill="#8c8c8c">年份</text><text x="17.8" y="0" font-size="8.9" fill="#8a8a8a">(</text><text class="cjkr" x="20.8" y="0" font-size="8.9" fill="#8c8c8c">月份</text><text x="38.8" y="0" font-size="9.0" fill="#333" textLength="51.5" lengthAdjust="spacingAndGlyphs">) year (month)</text></g><text x="543.4" y="690.6" font-size="11" fill="#333">(b)</text><text transform="translate(107,648.8) rotate(-90)" font-size="7.6" fill="#333" text-anchor="middle" textLength="121" lengthAdjust="spacingAndGlyphs">normalized Yellow River monthly runoff</text><g transform="translate(98.5,696.6) rotate(-90)"><text class="cjkr" x="0" y="0" font-size="8.4" fill="#8e8e8e" textLength="92.4" lengthAdjust="spacing">标准化黄河月入海径流量</text></g><text x="17.5" y="641.4" font-size="26.5" font-weight="bold" fill="#1a2a6e" textLength="53" lengthAdjust="spacingAndGlyphs">MEI</text></g>
<g filter="url(#b1)"><rect x="750.2" y="58.6" width="339.4" height="302.0" fill="#fff" stroke="#858585" stroke-width="1.1"/><ellipse cx="818.3" cy="187.6" rx="68.5" ry="60.5" transform="rotate(40 818.3 187.6)" fill="#fcecd6" stroke="#585048" stroke-width="0.9"/><ellipse cx="993.5" cy="178" rx="105.8" ry="67.5" transform="rotate(-38.45 993.5 178)" fill="#dbdadb" stroke="#555" stroke-width="0.95"/><ellipse cx="853.7" cy="310.1" rx="92.9" ry="29.4" transform="rotate(-14 853.7 310.1)" fill="#e6e1ea" stroke="#5a5a5a" stroke-width="0.9"/><line x1="828.5" y1="58.6" x2="828.5" y2="360.6" stroke="#b4b4b8" stroke-width="0.8" stroke-dasharray="1.6 0.4"/><line x1="750.2" y1="209.6" x2="1089.6" y2="209.6" stroke="#b4b4b8" stroke-width="0.8" stroke-dasharray="1.6 0.4"/><line x1="828.5" y1="209.6" x2="791.2" y2="127.6" stroke="#4a4a4a" stroke-width="0.95" stroke-dasharray="1.3 0.7"/><path d="M788.0 120.5L793.9 126.4L788.6 128.8Z" fill="#fff" stroke="#2a2a2a" stroke-width="1.1" stroke-linejoin="miter"/><line x1="828.5" y1="209.6" x2="805.2" y2="178.7" stroke="#4a4a4a" stroke-width="0.95" stroke-dasharray="1.3 0.7"/><path d="M800.5 172.5L807.5 177.0L802.9 180.5Z" fill="#fff" stroke="#2a2a2a" stroke-width="1.1" stroke-linejoin="miter"/><line x1="828.5" y1="209.6" x2="801.3" y2="199.3" stroke="#4a4a4a" stroke-width="0.95" stroke-dasharray="1.3 0.7"/><path d="M794.0 196.5L802.3 196.6L800.3 202.0Z" fill="#fff" stroke="#2a2a2a" stroke-width="1.1" stroke-linejoin="miter"/><line x1="828.5" y1="209.6" x2="813.4" y2="204.8" stroke="#4a4a4a" stroke-width="0.95" stroke-dasharray="1.3 0.7"/><path d="M806.0 202.5L814.3 202.1L812.6 207.6Z" fill="#fff" stroke="#2a2a2a" stroke-width="1.1" stroke-linejoin="miter"/><line x1="828.5" y1="209.6" x2="842.2" y2="210.6" stroke="#4a4a4a" stroke-width="0.95" stroke-dasharray="1.3 0.7"/><path d="M850.0 211.2L842.0 213.5L842.4 207.7Z" fill="#fff" stroke="#2a2a2a" stroke-width="1.1" stroke-linejoin="miter"/><line x1="828.5" y1="209.6" x2="885.2" y2="209.6" stroke="#4a4a4a" stroke-width="0.95" stroke-dasharray="1.3 0.7"/><path d="M893.0 209.6L885.2 212.5L885.2 206.7Z" fill="#fff" stroke="#2a2a2a" stroke-width="1.1" stroke-linejoin="miter"/><line x1="828.5" y1="209.6" x2="957.8" y2="186.2" stroke="#4a4a4a" stroke-width="0.95" stroke-dasharray="1.3 0.7"/><path d="M965.5 184.8L958.3 189.0L957.3 183.3Z" fill="#fff" stroke="#2a2a2a" stroke-width="1.1" stroke-linejoin="miter"/><line x1="828.5" y1="209.6" x2="951.7" y2="214.3" stroke="#4a4a4a" stroke-width="0.95" stroke-dasharray="1.3 0.7"/><path d="M959.5 214.6L951.6 217.2L951.8 211.4Z" fill="#fff" stroke="#2a2a2a" stroke-width="1.1" stroke-linejoin="miter"/><line x1="828.5" y1="209.6" x2="862.7" y2="271.7" stroke="#4a4a4a" stroke-width="0.95" stroke-dasharray="1.3 0.7"/><path d="M866.5 278.5L860.2 273.1L865.3 270.3Z" fill="#fff" stroke="#2a2a2a" stroke-width="1.1" stroke-linejoin="miter"/><text x="764.5" y="120.3" font-size="7.6" font-weight="bold" fill="#333">depth</text><text x="790.0" y="187.3" font-size="7.6" font-weight="bold" fill="#333">SSS</text><text x="778.8" y="205.0" font-size="7.6" font-weight="bold" fill="#333">PDO</text><text x="802.0" y="215.6" font-size="7.6" font-weight="bold" fill="#333">MEI</text><text x="843.8" y="221.0" font-size="7.6" font-weight="bold" fill="#333">FEBH</text><text x="887.0" y="205.0" font-size="7.6" font-weight="bold" fill="#333">MRYR</text><text x="943.8" y="178.8" font-size="7.6" font-weight="bold" fill="#333">month</text><text x="951.5" y="224.3" font-size="7.6" font-weight="bold" fill="#333">SST</text><text x="845.0" y="277.6" font-size="8.2" font-weight="bold" fill="#333">zone</text><path d="M773.0 149.1l2.6 4.5l-5.2 0z" fill="#222"/><text x="759.0" y="144.5" font-size="7.9" font-style="italic" fill="#6a6f8c" stroke="#6a6f8c" stroke-width="0.22" textLength="70.0" lengthAdjust="spacingAndGlyphs">Engraulis japonicus</text><path d="M781.0 173.1l2.6 4.5l-5.2 0z" fill="#222"/><text x="756.0" y="170.8" font-size="7.9" font-style="italic" fill="#6e675c" stroke="#6e675c" stroke-width="0.22" textLength="93.5" lengthAdjust="spacingAndGlyphs">Scomberomorus niphonius</text><path d="M857.0 154.3l2.6 4.5l-5.2 0z" fill="#222"/><text x="827.6" y="151.8" font-size="7.9" font-style="italic" fill="#4e4a44" stroke="#4e4a44" stroke-width="0.22" textLength="80.0" lengthAdjust="spacingAndGlyphs">L_Engraulis japonicus</text><path d="M839.4 222.3l2.6 4.5l-5.2 0z" fill="#222"/><text x="803.6" y="232.8" font-size="7.9" font-style="italic" fill="#6e675c" stroke="#6e675c" stroke-width="0.22" textLength="61.5" lengthAdjust="spacingAndGlyphs">Sardinella zunasi</text><path d="M969.5 116.2l2.8 2.8l-2.8 2.8l-2.8 -2.8z" fill="#222"/><text x="958.4" y="131.8" font-size="7.9" font-style="italic" fill="#4e4a44" stroke="#4e4a44" stroke-width="0.22" textLength="86.2" lengthAdjust="spacingAndGlyphs">L_Hyporhamphus sajori</text><path d="M1034.0 141.2l2.8 2.8l-2.8 2.8l-2.8 -2.8z" fill="#222"/><text x="1010.0" y="154.2" font-size="7.9" font-style="italic" fill="#4e4a44" stroke="#4e4a44" stroke-width="0.22" textLength="70.6" lengthAdjust="spacingAndGlyphs">L_Atherina bleekeri</text><path d="M1039.0 185.9l2.8 2.8l-2.8 2.8l-2.8 -2.8z" fill="#222"/><text x="991.4" y="183.4" font-size="7.9" font-style="italic" fill="#4e4a44" stroke="#4e4a44" stroke-width="0.22" textLength="86.2" lengthAdjust="spacingAndGlyphs">L_Ablennesona stomella</text><path d="M964.4 194.9l2.8 2.8l-2.8 2.8l-2.8 -2.8z" fill="#222"/><text x="967.4" y="206.8" font-size="7.9" font-style="italic" fill="#4e4a44" stroke="#4e4a44" stroke-width="0.22" textLength="84.6" lengthAdjust="spacingAndGlyphs">L_Thryssa kammalensis</text><path d="M987.0 211.4l2.8 2.8l-2.8 2.8l-2.8 -2.8z" fill="#222"/><text x="992.0" y="222.5" font-size="7.9" font-style="italic" fill="#4e4a44" stroke="#4e4a44" stroke-width="0.22" textLength="54.0" lengthAdjust="spacingAndGlyphs">Thryssa mystax</text><path d="M932.0 250.4l2.8 2.8l-2.8 2.8l-2.8 -2.8z" fill="#222"/><text x="939.0" y="256.4" font-size="7.9" font-style="italic" fill="#5a5a5a" stroke="#5a5a5a" stroke-width="0.22" textLength="69.5" lengthAdjust="spacingAndGlyphs">L_Sardinella zunasi</text><path d="M888.5 289.6l0.9 2.5l2.5 0.9l-2.5 0.9l-0.9 2.5l-0.9 -2.5l-2.5 -0.9l2.5 -0.9z" fill="#333"/><text x="891.7" y="302.0" font-size="7.9" font-style="italic" fill="#4e4a44" stroke="#4e4a44" stroke-width="0.22" textLength="65.9" lengthAdjust="spacingAndGlyphs">Setipinna tennifilis</text><path d="M785.2 310.4l0.9 2.5l2.5 0.9l-2.5 0.9l-0.9 2.5l-0.9 -2.5l-2.5 -0.9l2.5 -0.9z" fill="#333"/><text x="768.0" y="323.8" font-size="7.9" font-style="italic" fill="#4e4a44" stroke="#4e4a44" stroke-width="0.22" textLength="73.3" lengthAdjust="spacingAndGlyphs">Konosirus punctatus</text><path d="M861.3 313.6l0.9 2.5l2.5 0.9l-2.5 0.9l-0.9 2.5l-0.9 -2.5l-2.5 -0.9l2.5 -0.9z" fill="#333"/><text x="863.5" y="325.2" font-size="7.9" font-style="italic" fill="#4e4a44" stroke="#4e4a44" stroke-width="0.22" textLength="75.5" lengthAdjust="spacingAndGlyphs">Thryssa kammalensis</text><path d="M842.6 329.1l0.9 2.5l2.5 0.9l-2.5 0.9l-0.9 2.5l-0.9 -2.5l-2.5 -0.9l2.5 -0.9z" fill="#333"/><text x="845.0" y="339.2" font-size="7.9" font-style="italic" fill="#4e4a44" stroke="#4e4a44" stroke-width="0.22" textLength="82.0" lengthAdjust="spacingAndGlyphs">L_Konosirus punctatus</text><line x1="755.4" y1="360.0" x2="755.4" y2="361.8" stroke="#333" stroke-width="1.2"/><text x="755.4" y="377.8" font-size="10.6" fill="#3a3a3a" stroke="#3a3a3a" stroke-width="0.3" text-anchor="middle">-1.0</text><line x1="828.5" y1="360.0" x2="828.5" y2="361.8" stroke="#333" stroke-width="1.2"/><text x="828.5" y="377.8" font-size="10.6" fill="#3a3a3a" stroke="#3a3a3a" stroke-width="0.3" text-anchor="middle">0.0</text><line x1="901.6" y1="360.0" x2="901.6" y2="361.8" stroke="#333" stroke-width="1.2"/><text x="901.6" y="377.8" font-size="10.6" fill="#3a3a3a" stroke="#3a3a3a" stroke-width="0.3" text-anchor="middle">1.0</text><line x1="974.7" y1="360.0" x2="974.7" y2="361.8" stroke="#333" stroke-width="1.2"/><text x="974.7" y="377.8" font-size="10.6" fill="#3a3a3a" stroke="#3a3a3a" stroke-width="0.3" text-anchor="middle">2.0</text><line x1="1047.8" y1="360.0" x2="1047.8" y2="361.8" stroke="#333" stroke-width="1.2"/><text x="1047.8" y="377.8" font-size="10.6" fill="#3a3a3a" stroke="#3a3a3a" stroke-width="0.3" text-anchor="middle">3.0</text><line x1="1084.3" y1="360.0" x2="1084.3" y2="361.8" stroke="#333" stroke-width="1.2"/><text x="1084.3" y="377.8" font-size="10.6" fill="#3a3a3a" stroke="#3a3a3a" stroke-width="0.3" text-anchor="middle">3.5</text><line x1="749.0" y1="63.5" x2="750.8" y2="63.5" stroke="#333" stroke-width="1.2"/><text transform="translate(743.3,67.4) rotate(-90)" font-size="10.6" fill="#3a3a3a" stroke="#3a3a3a" stroke-width="0.3" text-anchor="middle">2</text><line x1="749.0" y1="136.6" x2="750.8" y2="136.6" stroke="#333" stroke-width="1.2"/><text transform="translate(743.3,136.5) rotate(-90)" font-size="10.6" fill="#3a3a3a" stroke="#3a3a3a" stroke-width="0.3" text-anchor="middle">1</text><line x1="749.0" y1="209.6" x2="750.8" y2="209.6" stroke="#333" stroke-width="1.2"/><text transform="translate(743.3,209.6) rotate(-90)" font-size="10.6" fill="#3a3a3a" stroke="#3a3a3a" stroke-width="0.3" text-anchor="middle">0</text><line x1="749.0" y1="282.6" x2="750.8" y2="282.6" stroke="#333" stroke-width="1.2"/><text transform="translate(743.3,281.7) rotate(-90)" font-size="10.6" fill="#3a3a3a" stroke="#3a3a3a" stroke-width="0.3" text-anchor="middle">-1</text><line x1="749.0" y1="355.7" x2="750.8" y2="355.7" stroke="#333" stroke-width="1.2"/><text transform="translate(743.3,349.5) rotate(-90)" font-size="10.6" fill="#3a3a3a" stroke="#3a3a3a" stroke-width="0.3" text-anchor="middle">-2</text><text class="cjkr" x="883.5" y="390.8" font-size="9.2" fill="#8a8a8a">第一排序轴</text><text x="932.5" y="390.8" font-size="9.8" fill="#858585">Axis 1</text><g transform="translate(732,245) rotate(-90)"><text class="cjkr" x="0" y="0" font-size="9.2" fill="#8a8a8a">第二排序轴</text><text x="49.0" y="0" font-size="9.4" fill="#666">Axis 2</text></g><line x1="743.5" y1="407.5" x2="750" y2="407.5" stroke="#333" stroke-width="1.0"/><path d="M757 407.5l-6.5 -2.4v4.8z" fill="#fff" stroke="#333" stroke-width="0.8"/><text class="cjkr" x="758.6" y="410.7" font-size="7.8" fill="#767676" stroke="#767676" stroke-width="0.12">环境变量</text><text x="792.3" y="410.5" font-size="7.9" fill="#444" textLength="84" lengthAdjust="spacingAndGlyphs">environmental variables</text><path d="M923.0 405.8l2.9 5.1l-5.8 0z" fill="#222"/><text class="cjkr" x="928.7" y="411.0" font-size="7.6" fill="#767676" stroke="#767676" stroke-width="0.12">群</text><text x="936.3" y="411.0" font-size="7.6" fill="#777">1</text><text class="cjkr" x="940.2" y="411.0" font-size="7.6" fill="#767676" stroke="#767676" stroke-width="0.12">低温高盐</text><text x="972.8" y="410.8" font-size="7.9" fill="#444" textLength="115.0" lengthAdjust="spacingAndGlyphs">class1 low temprature high salinity</text><path d="M748.9 421.5l2.3 2.3l-2.3 2.3l-2.3 -2.3z" fill="#222"/><text class="cjkr" x="754.7" y="426.8" font-size="7.6" fill="#767676" stroke="#767676" stroke-width="0.12">群</text><text x="762.3" y="426.8" font-size="7.6" fill="#777">2</text><text class="cjkr" x="766.2" y="426.8" font-size="7.6" fill="#767676" stroke="#767676" stroke-width="0.12">高温高盐</text><text x="798.8" y="426.6" font-size="7.9" fill="#444" textLength="118.0" lengthAdjust="spacingAndGlyphs">class2 high temprature high salinity</text><path d="M924.0 420.9l0.9 2.7l2.7 0.9l-2.7 0.9l-0.9 2.7l-0.9 -2.7l-2.7 -0.9l2.7 -0.9z" fill="#333"/><text class="cjkr" x="928.7" y="427.4" font-size="7.6" fill="#767676" stroke="#767676" stroke-width="0.12">群</text><text x="936.3" y="427.4" font-size="7.6" fill="#777">3</text><text class="cjkr" x="940.2" y="427.4" font-size="7.6" fill="#767676" stroke="#767676" stroke-width="0.12">低温低盐</text><text x="972.8" y="427.2" font-size="7.9" fill="#444" textLength="113.5" lengthAdjust="spacingAndGlyphs">class3 low temprature low salinity</text></g>
<g filter="url(#b3)"><rect x="618.0" y="451.5" width="60.2" height="253.1" fill="#ffef1c"/><rect x="621.1" y="454.9" width="54.1" height="246.9" fill="#860202"/><text class="cjkr" x="632.1" y="503.5" font-size="33.8" font-weight="bold" fill="#fff">捕</text><text class="cjkr" x="632.1" y="563.7" font-size="33.8" font-weight="bold" fill="#fff">捞</text><text class="cjkr" x="632.1" y="623.9" font-size="33.8" font-weight="bold" fill="#fff">强</text><text class="cjkr" x="632.1" y="683.9" font-size="33.8" font-weight="bold" fill="#fff">度</text></g>
<g filter="url(#b1)"><g fill="#878787" stroke="#3c3c3c" stroke-width="0.7"><rect x="725.50" y="496.30" width="1.75" height="23.55"/><rect x="729.58" y="496.30" width="4.40" height="23.31"/><rect x="736.30" y="496.30" width="4.40" height="23.31"/><rect x="743.02" y="496.30" width="4.40" height="23.31"/><rect x="749.75" y="496.30" width="4.40" height="23.31"/><rect x="756.47" y="496.30" width="4.40" height="23.31"/><rect x="763.20" y="496.30" width="4.40" height="23.31"/><rect x="769.92" y="496.30" width="4.40" height="23.31"/><rect x="776.64" y="496.30" width="4.40" height="25.91"/><rect x="783.37" y="496.30" width="4.40" height="25.91"/><rect x="790.09" y="496.30" width="4.40" height="25.91"/><rect x="796.82" y="496.30" width="4.40" height="29.91"/><rect x="803.54" y="496.30" width="4.40" height="24.26"/><rect x="810.26" y="496.30" width="4.40" height="24.26"/><rect x="816.99" y="496.30" width="4.40" height="24.26"/><rect x="823.71" y="496.30" width="4.40" height="24.26"/><rect x="830.44" y="496.30" width="4.40" height="24.26"/><rect x="837.16" y="496.30" width="4.40" height="22.37"/><rect x="843.88" y="496.30" width="4.40" height="21.20"/><rect x="850.61" y="496.30" width="4.40" height="20.02"/><rect x="857.33" y="496.30" width="4.40" height="18.84"/><rect x="864.06" y="496.30" width="4.40" height="17.66"/><rect x="870.78" y="496.30" width="4.40" height="16.48"/><rect x="877.50" y="496.30" width="4.40" height="15.31"/><rect x="884.23" y="496.30" width="4.40" height="15.31"/><rect x="890.95" y="496.30" width="4.40" height="14.13"/><rect x="897.68" y="496.30" width="4.40" height="17.66"/><rect x="904.40" y="496.30" width="4.40" height="18.13"/><rect x="911.12" y="496.30" width="4.40" height="18.84"/><rect x="917.85" y="496.30" width="4.40" height="16.48"/><rect x="924.57" y="496.30" width="4.40" height="17.66"/><rect x="931.30" y="496.30" width="4.40" height="16.48"/><rect x="938.02" y="496.30" width="4.40" height="15.31"/><rect x="944.74" y="496.30" width="4.40" height="14.13"/><rect x="951.47" y="496.30" width="4.40" height="2.35"/><rect x="958.19" y="496.30" width="4.40" height="9.42"/><rect x="964.92" y="496.30" width="4.40" height="8.24"/><rect x="971.64" y="483.35" width="4.40" height="12.95"/><rect x="978.36" y="482.17" width="4.40" height="14.13"/><rect x="985.09" y="472.75" width="4.40" height="23.55"/><rect x="991.81" y="492.77" width="4.40" height="3.53"/><rect x="998.54" y="489.24" width="4.40" height="7.07"/><rect x="1005.26" y="487.59" width="4.40" height="8.71"/><rect x="1011.98" y="479.81" width="4.40" height="16.48"/><rect x="1018.71" y="457.44" width="4.40" height="38.86"/><rect x="1025.43" y="449.91" width="4.40" height="46.39"/><rect x="1032.16" y="449.91" width="4.40" height="46.39"/><rect x="1038.88" y="454.62" width="4.40" height="41.68"/><rect x="1045.60" y="459.09" width="4.40" height="37.21"/><rect x="1052.33" y="459.80" width="4.40" height="36.50"/><rect x="1059.05" y="460.98" width="4.40" height="35.33"/><rect x="1065.78" y="460.50" width="4.40" height="35.80"/><rect x="1072.50" y="462.15" width="4.40" height="34.15"/><rect x="1079.22" y="471.10" width="4.40" height="25.20"/><rect x="1085.95" y="470.39" width="4.40" height="25.91"/><rect x="1092.67" y="472.75" width="4.40" height="23.55"/><rect x="1099.40" y="473.46" width="4.40" height="22.84"/><rect x="1106.12" y="473.46" width="4.40" height="22.84"/><rect x="1112.84" y="472.28" width="4.40" height="24.02"/><rect x="1119.57" y="472.28" width="4.40" height="24.02"/><rect x="1126.29" y="472.75" width="4.40" height="23.55"/><rect x="1133.02" y="473.46" width="4.40" height="22.84"/><rect x="1139.74" y="473.46" width="4.40" height="22.84"/><rect x="1146.46" y="472.75" width="4.40" height="23.55"/><rect x="1153.19" y="489.24" width="4.40" height="7.07"/><rect x="1159.91" y="490.88" width="4.40" height="5.42"/></g><line x1="725.5" y1="496.3" x2="1176.1" y2="496.3" stroke="#2a2a2a" stroke-width="1.5"/><path d="M725.7 524.6C728.3 524.5 729.2 524.4 738.5 524.1C747.8 523.8 758.7 523.4 772.1 522.9C785.6 522.4 792.3 522.1 805.7 521.7C819.2 521.4 829.9 521.4 839.4 521.0C848.8 520.7 846.1 521.0 852.8 519.9C859.5 518.7 864.9 516.9 873.0 515.1C881.0 513.4 886.4 512.1 893.2 510.9C899.9 509.7 899.9 510.1 906.6 509.3C913.3 508.5 920.0 508.1 926.8 506.9C933.5 505.7 934.8 505.2 940.2 503.4C945.6 501.5 948.3 499.9 953.7 497.5C959.0 495.0 961.7 492.5 967.1 491.1C972.5 489.7 976.5 491.1 980.6 490.4C984.6 489.7 984.6 488.2 987.3 487.6C990.0 487.0 991.3 487.0 994.0 487.4C996.7 487.7 998.0 490.0 1000.7 489.2C1003.4 488.4 1004.8 485.2 1007.5 483.3C1010.1 481.5 1011.5 481.2 1014.2 479.8C1016.9 478.4 1018.2 477.9 1020.9 476.3C1023.6 474.6 1024.9 473.2 1027.6 471.6C1030.3 469.9 1031.7 468.8 1034.4 468.0C1037.0 467.2 1038.4 468.3 1041.1 467.6C1043.8 466.9 1045.1 465.7 1047.8 464.5C1050.5 463.3 1051.8 461.9 1054.5 461.4C1057.2 461.0 1058.6 461.3 1061.3 462.2C1063.9 463.0 1065.3 465.4 1068.0 465.7C1070.7 466.0 1072.0 463.6 1074.7 463.8C1077.4 464.0 1078.7 465.4 1081.4 466.9C1084.1 468.3 1085.5 471.0 1088.1 470.9C1090.8 470.7 1092.2 467.3 1094.9 466.2C1097.6 465.0 1098.9 465.6 1101.6 465.0C1104.3 464.3 1105.6 463.5 1108.3 462.9C1111.0 462.2 1112.4 461.4 1115.0 461.7C1117.7 462.0 1119.1 463.6 1121.8 464.5C1124.5 465.4 1125.8 465.5 1128.5 466.2C1131.2 466.8 1132.5 468.0 1135.2 467.6C1137.9 467.1 1139.3 463.7 1141.9 464.0C1144.6 464.4 1146.0 467.6 1148.7 469.2C1151.4 470.9 1152.7 471.1 1155.4 472.3C1158.1 473.5 1160.8 474.5 1162.1 475.1" fill="none" stroke="#2a2a2a" stroke-width="1.2"/><rect x="725.5" y="436.8" width="450.6" height="119.0" fill="none" stroke="#262626" stroke-width="1.6"/><text x="738.5" y="570.6" font-size="9" fill="#222" text-anchor="middle">1955</text><text x="772.1" y="570.6" font-size="9" fill="#222" text-anchor="middle">1960</text><text x="805.7" y="570.6" font-size="9" fill="#222" text-anchor="middle">1965</text><text x="839.4" y="570.6" font-size="9" fill="#222" text-anchor="middle">1970</text><text x="873.0" y="570.6" font-size="9" fill="#222" text-anchor="middle">1975</text><text x="906.6" y="570.6" font-size="9" fill="#222" text-anchor="middle">1980</text><text x="940.2" y="570.6" font-size="9" fill="#222" text-anchor="middle">1985</text><text x="973.8" y="570.6" font-size="9" fill="#222" text-anchor="middle">1990</text><text x="1007.5" y="570.6" font-size="9" fill="#222" text-anchor="middle">1995</text><text x="1041.1" y="570.6" font-size="9" fill="#222" text-anchor="middle">2000</text><text x="1074.7" y="570.6" font-size="9" fill="#222" text-anchor="middle">2005</text><text x="1108.3" y="570.6" font-size="9" fill="#222" text-anchor="middle">2010</text><text x="1141.9" y="570.6" font-size="9" fill="#222" text-anchor="middle">2015</text><text x="1175.6" y="570.6" font-size="9" fill="#222" text-anchor="middle">2020</text><text x="718.9" y="452.3" font-size="9.2" fill="#222" text-anchor="end">2</text><text x="1189.3" y="452.3" font-size="9.2" fill="#222" text-anchor="end">2</text><text x="718.9" y="475.9" font-size="9.2" fill="#222" text-anchor="end">1</text><text x="1189.3" y="475.9" font-size="9.2" fill="#222" text-anchor="end">1</text><text x="718.9" y="499.4" font-size="9.2" fill="#222" text-anchor="end">0</text><text x="1189.3" y="499.4" font-size="9.2" fill="#222" text-anchor="end">0</text><text x="718.9" y="523.0" font-size="9.2" fill="#222" text-anchor="end">-1</text><text x="1189.3" y="523.0" font-size="9.2" fill="#222" text-anchor="end">-1</text><text x="718.9" y="546.5" font-size="9.2" fill="#222" text-anchor="end">-2</text><text x="1189.3" y="546.5" font-size="9.2" fill="#222" text-anchor="end">-2</text><path d="M738.5 436.8v5.8M738.5 555.8v-5.8M772.1 436.8v5.8M772.1 555.8v-5.8M805.7 436.8v5.8M805.7 555.8v-5.8M839.4 436.8v5.8M839.4 555.8v-5.8M873.0 436.8v5.8M873.0 555.8v-5.8M906.6 436.8v5.8M906.6 555.8v-5.8M940.2 436.8v5.8M940.2 555.8v-5.8M973.8 436.8v5.8M973.8 555.8v-5.8M1007.5 436.8v5.8M1007.5 555.8v-5.8M1041.1 436.8v5.8M1041.1 555.8v-5.8M1074.7 436.8v5.8M1074.7 555.8v-5.8M1108.3 436.8v5.8M1108.3 555.8v-5.8M1141.9 436.8v5.8M1141.9 555.8v-5.8M1175.6 436.8v5.8M1175.6 555.8v-5.8M755.3 436.8v3.4M755.3 555.8v-3.4M788.9 436.8v3.4M788.9 555.8v-3.4M822.5 436.8v3.4M822.5 555.8v-3.4M856.2 436.8v3.4M856.2 555.8v-3.4M889.8 436.8v3.4M889.8 555.8v-3.4M923.4 436.8v3.4M923.4 555.8v-3.4M957.0 436.8v3.4M957.0 555.8v-3.4M990.6 436.8v3.4M990.6 555.8v-3.4M1024.3 436.8v3.4M1024.3 555.8v-3.4M1057.9 436.8v3.4M1057.9 555.8v-3.4M1091.5 436.8v3.4M1091.5 555.8v-3.4M1125.1 436.8v3.4M1125.1 555.8v-3.4M1158.8 436.8v3.4M1158.8 555.8v-3.4M725.5 449.2h6.2M1176.1 449.2h-6.2M725.5 472.8h6.2M1176.1 472.8h-6.2M725.5 496.3h6.2M1176.1 496.3h-6.2M725.5 519.9h6.2M1176.1 519.9h-6.2M725.5 543.4h6.2M1176.1 543.4h-6.2M725.5 461.0h3.6M1176.1 461.0h-3.6M725.5 484.5h3.6M1176.1 484.5h-3.6M725.5 508.1h3.6M1176.1 508.1h-3.6M725.5 531.6h3.6M1176.1 531.6h-3.6" stroke="#262626" stroke-width="1.1" fill="none"/><g fill="#878787" stroke="#3c3c3c" stroke-width="0.7"><rect x="730.14" y="654.60" width="4.40" height="16.17"/><rect x="736.77" y="654.60" width="4.40" height="15.67"/><rect x="743.40" y="654.60" width="4.40" height="15.67"/><rect x="750.03" y="654.60" width="4.40" height="15.67"/><rect x="756.66" y="654.60" width="4.40" height="15.67"/><rect x="763.29" y="654.60" width="4.40" height="15.67"/><rect x="769.92" y="654.60" width="4.40" height="15.67"/><rect x="776.55" y="654.60" width="4.40" height="15.67"/><rect x="783.18" y="654.60" width="4.40" height="16.50"/><rect x="789.81" y="654.60" width="4.40" height="16.50"/><rect x="796.44" y="654.60" width="4.40" height="16.00"/><rect x="803.07" y="654.60" width="4.40" height="16.00"/><rect x="809.70" y="654.60" width="4.40" height="16.00"/><rect x="816.33" y="654.60" width="4.40" height="16.00"/><rect x="822.96" y="654.60" width="4.40" height="16.00"/><rect x="829.59" y="654.60" width="4.40" height="16.00"/><rect x="836.22" y="654.60" width="4.40" height="16.00"/><rect x="842.85" y="654.60" width="4.40" height="14.85"/><rect x="849.48" y="654.60" width="4.40" height="14.03"/><rect x="856.11" y="654.60" width="4.40" height="13.20"/><rect x="862.74" y="654.60" width="4.40" height="12.38"/><rect x="869.37" y="654.60" width="4.40" height="11.55"/><rect x="876.00" y="654.60" width="4.40" height="10.72"/><rect x="882.63" y="654.60" width="4.40" height="9.90"/><rect x="889.26" y="654.60" width="4.40" height="9.90"/><rect x="895.89" y="654.60" width="4.40" height="9.90"/><rect x="902.52" y="654.60" width="4.40" height="11.55"/><rect x="909.15" y="654.60" width="4.40" height="11.88"/><rect x="915.78" y="654.60" width="4.40" height="12.38"/><rect x="922.41" y="654.60" width="4.40" height="10.72"/><rect x="929.04" y="654.60" width="4.40" height="11.55"/><rect x="935.67" y="654.60" width="4.40" height="10.72"/><rect x="942.30" y="654.60" width="4.40" height="7.42"/><rect x="948.93" y="654.60" width="4.40" height="4.12"/><rect x="955.56" y="654.60" width="4.40" height="2.81"/><rect x="962.19" y="654.60" width="4.40" height="1.32"/><rect x="975.45" y="653.94" width="4.40" height="0.66"/><rect x="982.08" y="652.95" width="4.40" height="1.65"/><rect x="988.71" y="652.12" width="4.40" height="2.48"/><rect x="995.34" y="651.30" width="4.40" height="3.30"/><rect x="1001.97" y="651.63" width="4.40" height="2.97"/><rect x="1008.60" y="649.65" width="4.40" height="4.95"/><rect x="1015.23" y="647.50" width="4.40" height="7.09"/><rect x="1021.86" y="645.86" width="4.40" height="8.75"/><rect x="1028.49" y="643.88" width="4.40" height="10.72"/><rect x="1035.12" y="641.73" width="4.40" height="12.87"/><rect x="1041.75" y="640.58" width="4.40" height="14.03"/><rect x="1048.38" y="638.60" width="4.40" height="16.00"/><rect x="1055.01" y="637.27" width="4.40" height="17.32"/><rect x="1061.64" y="636.12" width="4.40" height="18.48"/><rect x="1068.27" y="638.43" width="4.40" height="16.17"/><rect x="1074.90" y="636.78" width="4.40" height="17.82"/><rect x="1081.53" y="635.30" width="4.40" height="19.30"/><rect x="1088.16" y="632.65" width="4.40" height="21.95"/><rect x="1094.79" y="641.73" width="4.40" height="12.87"/><rect x="1101.42" y="629.36" width="4.40" height="25.25"/><rect x="1108.05" y="626.88" width="4.40" height="27.72"/><rect x="1114.68" y="626.55" width="4.40" height="28.05"/><rect x="1121.31" y="627.87" width="4.40" height="26.73"/><rect x="1127.94" y="621.93" width="4.40" height="32.67"/><rect x="1134.57" y="624.08" width="4.40" height="30.53"/><rect x="1141.20" y="621.11" width="4.40" height="33.49"/><rect x="1147.83" y="622.75" width="4.40" height="31.84"/><rect x="1154.46" y="626.55" width="4.40" height="28.05"/><rect x="1161.09" y="626.06" width="4.40" height="28.54"/></g><line x1="725.5" y1="654.6" x2="1176.1" y2="654.6" stroke="#2a2a2a" stroke-width="1.5"/><path d="M732.3 600.1C733.0 598.5 734.3 594.4 735.7 591.9C737.0 589.4 737.6 587.8 739.0 587.8C740.3 587.8 741.0 589.4 742.3 591.9C743.6 594.4 743.6 596.2 745.6 600.1C747.6 604.1 749.6 607.7 752.2 611.7C754.9 615.7 756.2 616.7 758.9 620.0C761.5 623.2 762.8 625.7 765.5 628.2C768.1 630.7 769.5 630.0 772.1 632.3C774.8 634.6 776.1 635.8 778.8 639.8C781.4 643.7 783.3 649.1 785.4 652.1C787.5 655.2 787.8 654.4 789.4 654.9C790.9 655.4 791.5 655.3 793.3 654.6C795.2 653.9 796.3 652.3 798.6 651.3C801.0 650.3 802.6 649.8 805.3 649.6C807.9 649.5 809.2 650.0 811.9 650.5C814.6 651.0 815.9 651.5 818.5 652.1C821.2 652.8 822.5 653.3 825.2 653.8C827.8 654.3 827.8 654.3 831.8 654.6C835.8 654.9 835.8 654.6 845.1 655.4C854.3 656.3 864.9 657.2 878.2 658.7C891.5 660.2 900.7 661.9 911.4 662.9C922.0 663.8 924.6 663.7 931.2 663.7C937.9 663.7 940.5 662.9 944.5 662.9C948.5 662.8 948.5 663.5 951.1 663.2C953.8 662.9 955.1 661.3 957.8 661.2C960.4 661.1 961.7 662.5 964.4 662.9C967.0 663.2 968.4 663.3 971.0 662.9C973.7 662.4 975.0 660.9 977.6 660.4C980.3 659.9 981.6 660.6 984.3 660.4C986.9 660.1 988.3 658.9 990.9 659.2C993.6 659.6 994.9 661.5 997.5 662.0C1000.2 662.6 1001.5 662.1 1004.2 662.0C1006.8 661.9 1008.1 661.0 1010.8 661.5C1013.5 662.0 1014.8 664.9 1017.4 664.5C1020.1 664.1 1021.4 660.6 1024.1 659.6C1026.7 658.5 1026.7 659.0 1030.7 659.2C1034.7 659.5 1037.3 660.3 1044.0 660.9C1050.6 661.4 1057.2 661.9 1063.8 662.0C1070.5 662.2 1071.8 661.4 1077.1 661.5C1082.4 661.7 1086.4 662.9 1090.4 662.9C1094.3 662.9 1093.0 661.3 1097.0 661.5C1101.0 661.8 1101.0 663.5 1110.2 664.0C1119.5 664.5 1132.8 663.8 1143.4 664.0C1154.0 664.2 1159.3 664.7 1163.3 664.8" fill="none" stroke="#2a2a2a" stroke-width="1.2"/><rect x="725.5" y="585.6" width="450.6" height="118.7" fill="none" stroke="#262626" stroke-width="1.6"/><text x="745.6" y="719.2" font-size="9" fill="#222" text-anchor="middle">1955</text><text x="778.8" y="719.2" font-size="9" fill="#222" text-anchor="middle">1960</text><text x="811.9" y="719.2" font-size="9" fill="#222" text-anchor="middle">1965</text><text x="845.1" y="719.2" font-size="9" fill="#222" text-anchor="middle">1970</text><text x="878.2" y="719.2" font-size="9" fill="#222" text-anchor="middle">1975</text><text x="911.4" y="719.2" font-size="9" fill="#222" text-anchor="middle">1980</text><text x="944.5" y="719.2" font-size="9" fill="#222" text-anchor="middle">1985</text><text x="977.6" y="719.2" font-size="9" fill="#222" text-anchor="middle">1990</text><text x="1010.8" y="719.2" font-size="9" fill="#222" text-anchor="middle">1995</text><text x="1044.0" y="719.2" font-size="9" fill="#222" text-anchor="middle">2000</text><text x="1077.1" y="719.2" font-size="9" fill="#222" text-anchor="middle">2005</text><text x="1110.2" y="719.2" font-size="9" fill="#222" text-anchor="middle">2010</text><text x="1143.4" y="719.2" font-size="9" fill="#222" text-anchor="middle">2015</text><text x="1176.5" y="719.2" font-size="9" fill="#222" text-anchor="middle">2020</text><text x="718.9" y="591.7" font-size="9.2" fill="#222" text-anchor="end">4</text><text x="1189.3" y="591.7" font-size="9.2" fill="#222" text-anchor="end">4</text><text x="718.9" y="608.2" font-size="9.2" fill="#222" text-anchor="end">3</text><text x="1189.3" y="608.2" font-size="9.2" fill="#222" text-anchor="end">3</text><text x="718.9" y="624.7" font-size="9.2" fill="#222" text-anchor="end">2</text><text x="1189.3" y="624.7" font-size="9.2" fill="#222" text-anchor="end">2</text><text x="718.9" y="641.2" font-size="9.2" fill="#222" text-anchor="end">1</text><text x="1189.3" y="641.2" font-size="9.2" fill="#222" text-anchor="end">1</text><text x="718.9" y="657.7" font-size="9.2" fill="#222" text-anchor="end">0</text><text x="1189.3" y="657.7" font-size="9.2" fill="#222" text-anchor="end">0</text><text x="718.9" y="674.2" font-size="9.2" fill="#222" text-anchor="end">-1</text><text x="1189.3" y="674.2" font-size="9.2" fill="#222" text-anchor="end">-1</text><text x="718.9" y="690.7" font-size="9.2" fill="#222" text-anchor="end">-2</text><text x="1189.3" y="690.7" font-size="9.2" fill="#222" text-anchor="end">-2</text><text x="718.9" y="707.2" font-size="9.2" fill="#222" text-anchor="end">-3</text><text x="1189.3" y="707.2" font-size="9.2" fill="#222" text-anchor="end">-3</text><path d="M745.6 585.6v5.8M745.6 704.3v-5.8M778.8 585.6v5.8M778.8 704.3v-5.8M811.9 585.6v5.8M811.9 704.3v-5.8M845.1 585.6v5.8M845.1 704.3v-5.8M878.2 585.6v5.8M878.2 704.3v-5.8M911.4 585.6v5.8M911.4 704.3v-5.8M944.5 585.6v5.8M944.5 704.3v-5.8M977.6 585.6v5.8M977.6 704.3v-5.8M1010.8 585.6v5.8M1010.8 704.3v-5.8M1044.0 585.6v5.8M1044.0 704.3v-5.8M1077.1 585.6v5.8M1077.1 704.3v-5.8M1110.2 585.6v5.8M1110.2 704.3v-5.8M1143.4 585.6v5.8M1143.4 704.3v-5.8M1176.5 585.6v5.8M1176.5 704.3v-5.8M762.2 585.6v3.4M762.2 704.3v-3.4M795.3 585.6v3.4M795.3 704.3v-3.4M828.5 585.6v3.4M828.5 704.3v-3.4M861.6 585.6v3.4M861.6 704.3v-3.4M894.8 585.6v3.4M894.8 704.3v-3.4M927.9 585.6v3.4M927.9 704.3v-3.4M961.1 585.6v3.4M961.1 704.3v-3.4M994.2 585.6v3.4M994.2 704.3v-3.4M1027.4 585.6v3.4M1027.4 704.3v-3.4M1060.5 585.6v3.4M1060.5 704.3v-3.4M1093.7 585.6v3.4M1093.7 704.3v-3.4M1126.8 585.6v3.4M1126.8 704.3v-3.4M1160.0 585.6v3.4M1160.0 704.3v-3.4M725.5 588.6h6.2M1176.1 588.6h-6.2M725.5 605.1h6.2M1176.1 605.1h-6.2M725.5 621.6h6.2M1176.1 621.6h-6.2M725.5 638.1h6.2M1176.1 638.1h-6.2M725.5 654.6h6.2M1176.1 654.6h-6.2M725.5 671.1h6.2M1176.1 671.1h-6.2M725.5 687.6h6.2M1176.1 687.6h-6.2M725.5 704.1h6.2M1176.1 704.1h-6.2M725.5 596.9h3.6M1176.1 596.9h-3.6M725.5 613.4h3.6M1176.1 613.4h-3.6M725.5 629.9h3.6M1176.1 629.9h-3.6M725.5 646.4h3.6M1176.1 646.4h-3.6M725.5 662.9h3.6M1176.1 662.9h-3.6M725.5 679.4h3.6M1176.1 679.4h-3.6M725.5 695.9h3.6M1176.1 695.9h-3.6" stroke="#262626" stroke-width="1.1" fill="none"/><rect x="734.5" y="447.6" width="20" height="9.6" fill="#878787" stroke="#444" stroke-width="0.7"/><text class="cjkr" x="758.6" y="455.2" font-size="9.2" fill="#8c8c8c" stroke="#8c8c8c" stroke-width="0.15" textLength="73.6" lengthAdjust="spacing">标准化年总渔获量</text><text x="833.7" y="455.3" font-size="9.3" fill="#2a2a2a" textLength="106" lengthAdjust="spacingAndGlyphs">normalizd annual total catch</text><line x1="734" y1="464.4" x2="755" y2="464.4" stroke="#333" stroke-width="0.9"/><text class="cjkr" x="758.6" y="467.8" font-size="9.2" fill="#8c8c8c" stroke="#8c8c8c" stroke-width="0.15" textLength="73.6" lengthAdjust="spacing">标准化年捕捞强度</text><text x="833.7" y="467.9" font-size="9.3" fill="#2a2a2a" textLength="120.8" lengthAdjust="spacingAndGlyphs">normalized annual fishing effort</text><text x="1152.5" y="548.4" font-size="11.4" fill="#444">(a)</text><rect x="759.5" y="593.8" width="20" height="9.4" fill="#878787" stroke="#444" stroke-width="0.7"/><text class="cjkr" x="783.0" y="602.0" font-size="9.2" fill="#8c8c8c" stroke="#8c8c8c" stroke-width="0.15" textLength="73.6" lengthAdjust="spacing">标准化年捕捞强度</text><text x="858.1" y="602.2" font-size="9.3" fill="#2a2a2a" textLength="120.6" lengthAdjust="spacingAndGlyphs">normalized annual fishing effort</text><line x1="759" y1="610.2" x2="780" y2="610.2" stroke="#333" stroke-width="0.9"/><text class="cjkr" x="783.0" y="613.4" font-size="9.2" fill="#8c8c8c" stroke="#8c8c8c" stroke-width="0.15" textLength="36.8" lengthAdjust="spacing">标准化年</text><text x="820.3" y="613.4" font-size="9.3" fill="#2a2a2a" textLength="121" lengthAdjust="spacingAndGlyphs">CPUE normalized annual CPUE</text><text x="1152" y="697.4" font-size="11.4" fill="#444">(b)</text><text class="cjkr" x="940.5" y="580.4" font-size="9.0" fill="#8a8a8a">年份</text><text x="961.5" y="580.4" font-size="9.6" fill="#333">year</text><text class="cjkr" x="943.0" y="729.4" font-size="9.0" fill="#8a8a8a">年份</text><text x="964.0" y="729.4" font-size="9.6" fill="#333">year</text><text transform="translate(709,498) rotate(-90)" font-size="9.2" fill="#333" text-anchor="middle" textLength="106" lengthAdjust="spacingAndGlyphs">normalizd annual total catch</text><g transform="translate(699.5,533) rotate(-90)"><text class="cjkr" x="0" y="0" font-size="8.2" fill="#8e8e8e" textLength="65.6" lengthAdjust="spacing">标准化年总渔获量</text></g><text transform="translate(1200,500.9) rotate(-90)" font-size="9.2" fill="#333" text-anchor="middle" textLength="120" lengthAdjust="spacingAndGlyphs">normalized annual fishing effort</text><g transform="translate(1211.5,539) rotate(-90)"><text class="cjkr" x="0" y="0" font-size="8.2" fill="#8e8e8e" textLength="65.6" lengthAdjust="spacing">标准化年捕捞强度</text></g><text transform="translate(709,645) rotate(-90)" font-size="9.2" fill="#333" text-anchor="middle" textLength="120" lengthAdjust="spacingAndGlyphs">normalized annual fishing effort</text><g transform="translate(699.5,681) rotate(-90)"><text class="cjkr" x="0" y="0" font-size="8.2" fill="#8e8e8e" textLength="65.6" lengthAdjust="spacing">标准化年捕捞强度</text></g><text transform="translate(1200,645) rotate(-90)" font-size="9.2" fill="#333" text-anchor="middle" textLength="95" lengthAdjust="spacingAndGlyphs">normalized annual CPUE</text><g transform="translate(1211.5,674) rotate(-90)"><text class="cjkr" x="0" y="0" font-size="8.2" fill="#8e8e8e" textLength="32.8" lengthAdjust="spacing">标准化年</text><text x="32.8" y="0" font-size="8" fill="#a0a0a0">CPUE</text></g></g>
</svg>
</body></html>
